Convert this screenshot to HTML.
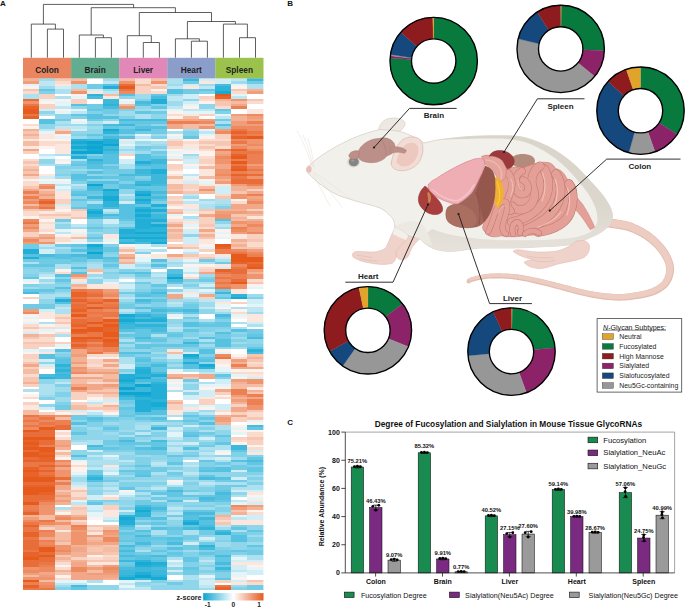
<!DOCTYPE html>
<html><head><meta charset="utf-8"><title>Figure</title>
<style>html,body{margin:0;padding:0;background:#fff}body{width:685px;height:608px;overflow:hidden}svg{display:block;font-family:"Liberation Sans", sans-serif}</style>
</head><body>
<svg width="685" height="608" viewBox="0 0 685 608">
<rect width="685" height="608" fill="#fff"/>
<path d="M31.3 57.8 L31.3 24.1 L55.4 24.1 M47.4 57.8 L47.4 29.1 L63.5 29.1 L63.5 57.8 M55.4 24.1 L55.4 29.1 M43.4 24.1 L43.4 4.4 L133.6 4.4 L133.6 7.7 M79.3 57.8 L79.3 35.0 L103.4 35.0 M95.4 57.8 L95.4 37.7 L111.4 37.7 L111.4 57.8 M103.4 35.0 L103.4 37.7 M91.2 35.0 L91.2 7.7 L175.4 7.7 L175.4 12.5 M127.3 57.8 L127.3 35.7 L151.3 35.7 M143.3 57.8 L143.3 42.5 L159.4 42.5 L159.4 57.8 M151.3 35.7 L151.3 42.5 M139.3 35.7 L139.3 12.5 L211.5 12.5 L211.5 21.5 M175.4 57.8 L175.4 38.8 L199.4 38.8 M191.4 57.8 L191.4 41.2 L207.4 41.2 L207.4 57.8 M199.4 38.8 L199.4 41.2 M187.4 38.8 L187.4 21.5 L235.4 21.5 L235.4 24.1 M223.4 57.8 L223.4 24.1 L247.4 24.1 L247.4 37.7 M239.5 57.8 L239.5 37.7 L255.5 37.7 L255.5 57.8" fill="none" stroke="#2a2a2a" stroke-width="0.75"/>
<rect x="23.00" y="57.8" width="48.18" height="20.9" fill="#E98660"/>
<text x="47.04" y="72.8" font-size="8.3" font-weight="bold" text-anchor="middle" fill="#222">Colon</text>
<rect x="71.08" y="57.8" width="48.18" height="20.9" fill="#62AD90"/>
<text x="95.12" y="72.8" font-size="8.3" font-weight="bold" text-anchor="middle" fill="#222">Brain</text>
<rect x="119.16" y="57.8" width="48.18" height="20.9" fill="#E188B8"/>
<text x="143.20" y="72.8" font-size="8.3" font-weight="bold" text-anchor="middle" fill="#222">Liver</text>
<rect x="167.24" y="57.8" width="48.18" height="20.9" fill="#8B9DC9"/>
<text x="191.28" y="72.8" font-size="8.3" font-weight="bold" text-anchor="middle" fill="#222">Heart</text>
<rect x="215.32" y="57.8" width="48.18" height="20.9" fill="#9BC24C"/>
<text x="239.36" y="72.8" font-size="8.3" font-weight="bold" text-anchor="middle" fill="#222">Spleen</text>
<defs><filter id="hb" x="18" y="74" width="250" height="522" filterUnits="userSpaceOnUse"><feGaussianBlur stdDeviation="0.45"/></filter><clipPath id="hc"><rect x="23.00" y="78.60" width="240.40" height="511.40"/></clipPath></defs>
<g clip-path="url(#hc)"><g shape-rendering="crispEdges" filter="url(#hb)">
<path fill="#f3b296" d="M21.00 76.60h18.08v4.56h-18.08zM247.37 88.63h18.08v2.56h-18.08zM215.32 98.65h16.08v2.56h-16.08zM231.35 116.20h16.08v2.56h-16.08zM231.35 118.71h16.08v2.56h-16.08zM21.00 128.74h18.08v2.56h-18.08zM21.00 133.75h18.08v2.56h-18.08zM21.00 168.85h18.08v2.56h-18.08zM215.32 178.87h16.08v2.56h-16.08zM231.35 186.40h16.08v2.56h-16.08zM39.03 191.41h16.08v2.56h-16.08zM167.24 191.41h16.08v2.56h-16.08zM231.35 188.90h16.08v2.56h-16.08zM39.03 196.42h16.08v2.56h-16.08zM167.24 211.46h16.08v2.56h-16.08zM215.32 208.96h16.08v2.56h-16.08zM231.35 208.96h16.08v2.56h-16.08zM231.35 216.48h16.08v2.56h-16.08zM247.37 218.98h18.08v2.56h-18.08zM167.24 229.01h16.08v2.56h-16.08zM39.03 234.03h16.08v2.56h-16.08zM199.29 234.03h16.08v2.56h-16.08zM231.35 239.04h16.08v2.56h-16.08zM231.35 244.05h16.08v2.56h-16.08zM119.16 254.08h16.08v2.56h-16.08zM119.16 261.60h16.08v2.56h-16.08zM247.37 271.63h18.08v2.56h-18.08zM71.08 284.16h16.08v2.56h-16.08zM21.00 334.30h18.08v2.56h-18.08zM71.08 356.86h16.08v2.56h-16.08zM247.37 356.86h18.08v2.56h-18.08zM71.08 359.37h16.08v2.56h-16.08zM231.35 361.88h16.08v2.56h-16.08zM87.11 369.40h16.08v2.56h-16.08zM103.13 369.40h16.08v2.56h-16.08zM167.24 374.41h16.08v2.56h-16.08zM183.27 374.41h16.08v2.56h-16.08zM21.00 381.93h18.08v2.56h-18.08zM231.35 381.93h16.08v2.56h-16.08zM103.13 386.94h16.08v2.56h-16.08zM87.11 391.96h16.08v2.56h-16.08zM103.13 391.96h16.08v2.56h-16.08zM247.37 389.45h18.08v2.56h-18.08zM231.35 396.97h16.08v2.56h-16.08zM167.24 401.99h16.08v2.56h-16.08zM231.35 401.99h16.08v2.56h-16.08zM103.13 404.49h16.08v2.56h-16.08zM215.32 414.52h16.08v2.56h-16.08zM215.32 422.04h16.08v2.56h-16.08zM55.05 447.11h16.08v2.56h-16.08zM55.05 492.23h16.08v2.56h-16.08zM55.05 497.25h16.08v2.56h-16.08zM55.05 502.26h16.08v2.56h-16.08zM247.37 507.27h18.08v2.56h-18.08zM231.35 512.29h16.08v2.56h-16.08zM21.00 514.79h18.08v2.56h-18.08zM71.08 514.79h16.08v2.56h-16.08zM215.32 514.79h16.08v2.56h-16.08zM39.03 524.82h16.08v2.56h-16.08zM55.05 539.86h16.08v2.56h-16.08zM87.11 539.86h16.08v2.56h-16.08zM71.08 544.88h16.08v2.56h-16.08zM71.08 552.40h16.08v2.56h-16.08zM55.05 557.41h16.08v2.56h-16.08zM71.08 554.90h16.08v2.56h-16.08zM71.08 559.92h16.08v2.56h-16.08zM55.05 569.95h16.08v2.56h-16.08zM103.13 577.47h16.08v2.56h-16.08z"/>
<path fill="#f09e7a" d="M21.00 81.11h18.08v2.56h-18.08zM247.37 91.13h18.08v2.56h-18.08zM231.35 113.70h16.08v2.56h-16.08zM247.37 116.20h18.08v2.56h-18.08zM199.29 118.71h16.08v2.56h-16.08zM231.35 121.22h16.08v2.56h-16.08zM231.35 123.72h16.08v2.56h-16.08zM247.37 123.72h18.08v2.56h-18.08zM215.32 128.74h16.08v2.56h-16.08zM231.35 143.78h16.08v2.56h-16.08zM247.37 146.29h18.08v2.56h-18.08zM215.32 153.81h16.08v2.56h-16.08zM247.37 163.83h18.08v2.56h-18.08zM215.32 176.37h16.08v2.56h-16.08zM215.32 181.38h16.08v2.56h-16.08zM39.03 183.89h16.08v2.56h-16.08zM231.35 183.89h16.08v2.56h-16.08zM39.03 193.92h16.08v2.56h-16.08zM21.00 198.93h18.08v2.56h-18.08zM247.37 198.93h18.08v2.56h-18.08zM215.32 211.46h16.08v2.56h-16.08zM231.35 211.46h16.08v2.56h-16.08zM247.37 221.49h18.08v2.56h-18.08zM21.00 224.00h18.08v2.56h-18.08zM247.37 226.50h18.08v2.56h-18.08zM231.35 231.52h16.08v2.56h-16.08zM247.37 229.01h18.08v2.56h-18.08zM39.03 236.53h16.08v2.56h-16.08zM21.00 241.55h18.08v2.56h-18.08zM247.37 249.07h18.08v2.56h-18.08zM119.16 256.59h16.08v2.56h-16.08zM247.37 269.12h18.08v2.56h-18.08zM103.13 289.18h16.08v2.56h-16.08zM21.00 309.23h18.08v2.56h-18.08zM71.08 354.35h16.08v2.56h-16.08zM71.08 361.88h16.08v2.56h-16.08zM231.35 359.37h16.08v2.56h-16.08zM71.08 369.40h16.08v2.56h-16.08zM87.11 371.90h16.08v2.56h-16.08zM103.13 371.90h16.08v2.56h-16.08zM167.24 376.92h16.08v2.56h-16.08zM231.35 379.42h16.08v2.56h-16.08zM103.13 384.44h16.08v2.56h-16.08zM231.35 394.46h16.08v2.56h-16.08zM231.35 399.48h16.08v2.56h-16.08zM215.32 417.03h16.08v2.56h-16.08zM215.32 419.53h16.08v2.56h-16.08zM55.05 444.60h16.08v2.56h-16.08zM55.05 462.15h16.08v2.56h-16.08zM55.05 494.74h16.08v2.56h-16.08zM55.05 499.75h16.08v2.56h-16.08zM231.35 507.27h16.08v2.56h-16.08zM247.37 504.77h18.08v2.56h-18.08zM21.00 517.30h18.08v2.56h-18.08zM55.05 514.79h16.08v2.56h-16.08zM71.08 517.30h16.08v2.56h-16.08zM71.08 529.84h16.08v2.56h-16.08zM103.13 532.34h16.08v2.56h-16.08zM87.11 534.85h16.08v2.56h-16.08zM55.05 552.40h16.08v2.56h-16.08zM87.11 567.44h16.08v2.56h-16.08zM103.13 564.93h16.08v2.56h-16.08zM21.00 572.45h18.08v2.56h-18.08zM87.11 572.45h16.08v2.56h-16.08zM103.13 572.45h16.08v2.56h-16.08zM39.03 574.96h16.08v2.56h-16.08z"/>
<path fill="#9edced" d="M39.03 76.60h16.08v4.56h-16.08zM103.13 76.60h16.08v4.56h-16.08zM231.35 81.11h16.08v2.56h-16.08zM39.03 86.12h16.08v2.56h-16.08zM167.24 83.61h16.08v2.56h-16.08zM199.29 83.61h16.08v2.56h-16.08zM103.13 88.63h16.08v2.56h-16.08zM135.19 93.64h16.08v2.56h-16.08zM135.19 96.15h16.08v2.56h-16.08zM167.24 93.64h16.08v2.56h-16.08zM167.24 101.16h16.08v2.56h-16.08zM167.24 103.67h16.08v2.56h-16.08zM119.16 111.19h16.08v2.56h-16.08zM135.19 108.68h16.08v2.56h-16.08zM119.16 113.70h16.08v2.56h-16.08zM55.05 123.72h16.08v2.56h-16.08zM71.08 123.72h16.08v2.56h-16.08zM87.11 126.23h16.08v2.56h-16.08zM183.27 128.74h16.08v2.56h-16.08zM71.08 136.26h16.08v2.56h-16.08zM151.21 133.75h16.08v2.56h-16.08zM135.19 141.27h16.08v2.56h-16.08zM151.21 143.78h16.08v2.56h-16.08zM119.16 148.79h16.08v2.56h-16.08zM135.19 151.30h16.08v2.56h-16.08zM183.27 153.81h16.08v2.56h-16.08zM55.05 163.83h16.08v2.56h-16.08zM71.08 168.85h16.08v2.56h-16.08zM55.05 176.37h16.08v2.56h-16.08zM71.08 186.40h16.08v2.56h-16.08zM119.16 196.42h16.08v2.56h-16.08zM183.27 196.42h16.08v2.56h-16.08zM199.29 198.93h16.08v2.56h-16.08zM215.32 203.94h16.08v2.56h-16.08zM103.13 211.46h16.08v2.56h-16.08zM71.08 226.50h16.08v2.56h-16.08zM103.13 224.00h16.08v2.56h-16.08zM215.32 226.50h16.08v2.56h-16.08zM87.11 231.52h16.08v2.56h-16.08zM39.03 246.56h16.08v2.56h-16.08zM87.11 261.60h16.08v2.56h-16.08zM167.24 261.60h16.08v2.56h-16.08zM135.19 264.11h16.08v2.56h-16.08zM39.03 271.63h16.08v2.56h-16.08zM103.13 269.12h16.08v2.56h-16.08zM87.11 274.14h16.08v2.56h-16.08zM119.16 274.14h16.08v2.56h-16.08zM151.21 276.64h16.08v2.56h-16.08zM199.29 274.14h16.08v2.56h-16.08zM39.03 279.15h16.08v2.56h-16.08zM183.27 281.66h16.08v2.56h-16.08zM21.00 286.67h18.08v2.56h-18.08zM183.27 286.67h16.08v2.56h-16.08zM55.05 291.68h16.08v2.56h-16.08zM119.16 294.19h16.08v2.56h-16.08zM247.37 294.19h18.08v2.56h-18.08zM119.16 299.20h16.08v2.56h-16.08zM167.24 299.20h16.08v2.56h-16.08zM183.27 299.20h16.08v2.56h-16.08zM199.29 301.71h16.08v2.56h-16.08zM55.05 304.22h16.08v2.56h-16.08zM199.29 304.22h16.08v2.56h-16.08zM119.16 311.74h16.08v2.56h-16.08zM215.32 311.74h16.08v2.56h-16.08zM247.37 311.74h18.08v2.56h-18.08zM167.24 324.27h16.08v2.56h-16.08zM199.29 331.79h16.08v2.56h-16.08zM183.27 336.81h16.08v2.56h-16.08zM231.35 336.81h16.08v2.56h-16.08zM135.19 341.82h16.08v2.56h-16.08zM231.35 341.82h16.08v2.56h-16.08zM119.16 344.33h16.08v2.56h-16.08zM199.29 344.33h16.08v2.56h-16.08zM231.35 346.83h16.08v2.56h-16.08zM151.21 351.85h16.08v2.56h-16.08zM151.21 356.86h16.08v2.56h-16.08zM167.24 359.37h16.08v2.56h-16.08zM167.24 364.38h16.08v2.56h-16.08zM119.16 371.90h16.08v2.56h-16.08zM199.29 369.40h16.08v2.56h-16.08zM55.05 379.42h16.08v2.56h-16.08zM55.05 386.94h16.08v2.56h-16.08zM55.05 389.45h16.08v2.56h-16.08zM39.03 394.46h16.08v2.56h-16.08zM55.05 396.97h16.08v2.56h-16.08zM55.05 399.48h16.08v2.56h-16.08zM199.29 409.51h16.08v2.56h-16.08zM103.13 422.04h16.08v2.56h-16.08zM135.19 422.04h16.08v2.56h-16.08zM167.24 422.04h16.08v2.56h-16.08zM71.08 424.55h16.08v2.56h-16.08zM87.11 427.05h16.08v2.56h-16.08zM199.29 424.55h16.08v2.56h-16.08zM103.13 432.07h16.08v2.56h-16.08zM119.16 429.56h16.08v2.56h-16.08zM151.21 429.56h16.08v2.56h-16.08zM151.21 437.08h16.08v2.56h-16.08zM71.08 439.59h16.08v2.56h-16.08zM135.19 439.59h16.08v2.56h-16.08zM167.24 439.59h16.08v2.56h-16.08zM199.29 439.59h16.08v2.56h-16.08zM167.24 444.60h16.08v2.56h-16.08zM103.13 452.12h16.08v2.56h-16.08zM119.16 452.12h16.08v2.56h-16.08zM167.24 452.12h16.08v2.56h-16.08zM183.27 449.62h16.08v2.56h-16.08zM199.29 449.62h16.08v2.56h-16.08zM87.11 457.14h16.08v2.56h-16.08zM135.19 454.63h16.08v2.56h-16.08zM199.29 454.63h16.08v2.56h-16.08zM231.35 457.14h16.08v2.56h-16.08zM119.16 462.15h16.08v2.56h-16.08zM151.21 459.64h16.08v2.56h-16.08zM87.11 464.66h16.08v2.56h-16.08zM119.16 467.16h16.08v2.56h-16.08zM167.24 464.66h16.08v2.56h-16.08zM183.27 467.16h16.08v2.56h-16.08zM183.27 469.67h16.08v2.56h-16.08zM71.08 477.19h16.08v2.56h-16.08zM103.13 474.68h16.08v2.56h-16.08zM119.16 474.68h16.08v2.56h-16.08zM167.24 477.19h16.08v2.56h-16.08zM183.27 474.68h16.08v2.56h-16.08zM247.37 474.68h18.08v2.56h-18.08zM71.08 479.70h16.08v2.56h-16.08zM119.16 479.70h16.08v2.56h-16.08zM135.19 479.70h16.08v2.56h-16.08zM151.21 479.70h16.08v2.56h-16.08zM183.27 479.70h16.08v2.56h-16.08zM199.29 479.70h16.08v2.56h-16.08zM247.37 479.70h18.08v2.56h-18.08zM87.11 487.22h16.08v2.56h-16.08zM103.13 484.71h16.08v2.56h-16.08zM135.19 487.22h16.08v2.56h-16.08zM151.21 484.71h16.08v2.56h-16.08zM199.29 484.71h16.08v2.56h-16.08zM103.13 489.73h16.08v2.56h-16.08zM199.29 492.23h16.08v2.56h-16.08zM119.16 497.25h16.08v2.56h-16.08zM135.19 497.25h16.08v2.56h-16.08zM103.13 502.26h16.08v2.56h-16.08zM119.16 504.77h16.08v2.56h-16.08zM167.24 504.77h16.08v2.56h-16.08zM183.27 507.27h16.08v2.56h-16.08zM199.29 507.27h16.08v2.56h-16.08zM215.32 504.77h16.08v2.56h-16.08zM167.24 509.78h16.08v2.56h-16.08zM215.32 512.29h16.08v2.56h-16.08zM135.19 527.33h16.08v2.56h-16.08zM215.32 527.33h16.08v2.56h-16.08zM247.37 534.85h18.08v2.56h-18.08zM215.32 542.37h16.08v2.56h-16.08zM247.37 542.37h18.08v2.56h-18.08zM151.21 544.88h16.08v2.56h-16.08zM215.32 544.88h16.08v2.56h-16.08zM183.27 549.89h16.08v2.56h-16.08zM199.29 557.41h16.08v2.56h-16.08zM199.29 562.42h16.08v2.56h-16.08zM199.29 567.44h16.08v2.56h-16.08zM199.29 572.45h16.08v2.56h-16.08zM151.21 582.48h16.08v2.56h-16.08zM55.05 584.99h16.08v2.56h-16.08zM135.19 584.99h16.08v2.56h-16.08zM199.29 587.49h16.08v4.56h-16.08zM231.35 584.99h16.08v2.56h-16.08z"/>
<path fill="#bfe7f3" d="M39.03 81.11h16.08v2.56h-16.08zM103.13 81.11h16.08v2.56h-16.08zM231.35 76.60h16.08v4.56h-16.08zM39.03 83.61h16.08v2.56h-16.08zM167.24 86.12h16.08v2.56h-16.08zM199.29 86.12h16.08v2.56h-16.08zM103.13 91.13h16.08v2.56h-16.08zM167.24 96.15h16.08v2.56h-16.08zM231.35 96.15h16.08v2.56h-16.08zM167.24 98.65h16.08v2.56h-16.08zM55.05 106.18h16.08v2.56h-16.08zM167.24 106.18h16.08v2.56h-16.08zM71.08 111.19h16.08v2.56h-16.08zM183.27 108.68h16.08v2.56h-16.08zM199.29 108.68h16.08v2.56h-16.08zM215.32 116.20h16.08v2.56h-16.08zM55.05 126.23h16.08v2.56h-16.08zM71.08 126.23h16.08v2.56h-16.08zM39.03 128.74h16.08v2.56h-16.08zM199.29 131.24h16.08v2.56h-16.08zM135.19 136.26h16.08v2.56h-16.08zM119.16 146.29h16.08v2.56h-16.08zM119.16 151.30h16.08v2.56h-16.08zM39.03 153.81h16.08v2.56h-16.08zM183.27 156.31h16.08v2.56h-16.08zM183.27 173.86h16.08v2.56h-16.08zM55.05 183.89h16.08v2.56h-16.08zM71.08 183.89h16.08v2.56h-16.08zM119.16 193.92h16.08v2.56h-16.08zM183.27 193.92h16.08v2.56h-16.08zM183.27 201.44h16.08v2.56h-16.08zM199.29 201.44h16.08v2.56h-16.08zM103.13 208.96h16.08v2.56h-16.08zM71.08 224.00h16.08v2.56h-16.08zM215.32 224.00h16.08v2.56h-16.08zM55.05 231.52h16.08v2.56h-16.08zM39.03 244.05h16.08v2.56h-16.08zM135.19 249.07h16.08v2.56h-16.08zM183.27 251.57h16.08v2.56h-16.08zM135.19 261.60h16.08v2.56h-16.08zM167.24 259.09h16.08v2.56h-16.08zM183.27 261.60h16.08v2.56h-16.08zM135.19 266.61h16.08v2.56h-16.08zM183.27 271.63h16.08v2.56h-16.08zM39.03 274.14h16.08v2.56h-16.08zM87.11 276.64h16.08v2.56h-16.08zM119.16 276.64h16.08v2.56h-16.08zM151.21 274.14h16.08v2.56h-16.08zM39.03 281.66h16.08v2.56h-16.08zM103.13 279.15h16.08v2.56h-16.08zM199.29 291.68h16.08v2.56h-16.08zM119.16 296.70h16.08v2.56h-16.08zM183.27 296.70h16.08v2.56h-16.08zM167.24 301.71h16.08v2.56h-16.08zM199.29 299.20h16.08v2.56h-16.08zM55.05 306.72h16.08v2.56h-16.08zM199.29 306.72h16.08v2.56h-16.08zM247.37 306.72h18.08v2.56h-18.08zM119.16 309.23h16.08v2.56h-16.08zM215.32 309.23h16.08v2.56h-16.08zM247.37 309.23h18.08v2.56h-18.08zM167.24 326.78h16.08v2.56h-16.08zM199.29 371.90h16.08v2.56h-16.08zM215.32 371.90h16.08v2.56h-16.08zM55.05 381.93h16.08v2.56h-16.08zM87.11 401.99h16.08v2.56h-16.08zM87.11 412.01h16.08v2.56h-16.08zM199.29 412.01h16.08v2.56h-16.08zM135.19 432.07h16.08v2.56h-16.08zM167.24 429.56h16.08v2.56h-16.08zM167.24 437.08h16.08v2.56h-16.08zM71.08 442.10h16.08v2.56h-16.08zM167.24 442.10h16.08v2.56h-16.08zM167.24 447.11h16.08v2.56h-16.08zM167.24 449.62h16.08v2.56h-16.08zM199.29 452.12h16.08v2.56h-16.08zM87.11 454.63h16.08v2.56h-16.08zM103.13 457.14h16.08v2.56h-16.08zM199.29 457.14h16.08v2.56h-16.08zM119.16 459.64h16.08v2.56h-16.08zM151.21 462.15h16.08v2.56h-16.08zM87.11 467.16h16.08v2.56h-16.08zM183.27 464.66h16.08v2.56h-16.08zM103.13 469.67h16.08v2.56h-16.08zM183.27 472.18h16.08v2.56h-16.08zM71.08 474.68h16.08v2.56h-16.08zM71.08 482.20h16.08v2.56h-16.08zM199.29 482.20h16.08v2.56h-16.08zM103.13 487.22h16.08v2.56h-16.08zM151.21 487.22h16.08v2.56h-16.08zM103.13 492.23h16.08v2.56h-16.08zM119.16 494.74h16.08v2.56h-16.08zM71.08 502.26h16.08v2.56h-16.08zM231.35 499.75h16.08v2.56h-16.08zM167.24 507.27h16.08v2.56h-16.08zM87.11 509.78h16.08v2.56h-16.08zM167.24 512.29h16.08v2.56h-16.08zM231.35 517.30h16.08v2.56h-16.08zM135.19 524.82h16.08v2.56h-16.08zM215.32 524.82h16.08v2.56h-16.08zM231.35 554.90h16.08v2.56h-16.08zM167.24 562.42h16.08v2.56h-16.08zM199.29 559.92h16.08v2.56h-16.08zM231.35 569.95h16.08v2.56h-16.08zM199.29 577.47h16.08v2.56h-16.08zM55.05 582.48h16.08v2.56h-16.08zM71.08 582.48h16.08v2.56h-16.08zM119.16 582.48h16.08v2.56h-16.08zM119.16 587.49h16.08v4.56h-16.08zM135.19 587.49h16.08v4.56h-16.08zM199.29 584.99h16.08v2.56h-16.08z"/>
<path fill="#f6c6b2" d="M55.05 76.60h16.08v4.56h-16.08zM151.21 86.12h16.08v2.56h-16.08zM21.00 88.63h18.08v2.56h-18.08zM231.35 88.63h16.08v2.56h-16.08zM215.32 101.16h16.08v2.56h-16.08zM247.37 98.65h18.08v2.56h-18.08zM215.32 103.67h16.08v2.56h-16.08zM21.00 131.24h18.08v2.56h-18.08zM21.00 136.26h18.08v2.56h-18.08zM167.24 141.27h16.08v2.56h-16.08zM199.29 141.27h16.08v2.56h-16.08zM215.32 141.27h16.08v2.56h-16.08zM167.24 143.78h16.08v2.56h-16.08zM199.29 146.29h16.08v2.56h-16.08zM215.32 143.78h16.08v2.56h-16.08zM21.00 161.33h18.08v2.56h-18.08zM21.00 166.34h18.08v2.56h-18.08zM21.00 171.35h18.08v2.56h-18.08zM21.00 186.40h18.08v2.56h-18.08zM39.03 188.90h16.08v2.56h-16.08zM167.24 188.90h16.08v2.56h-16.08zM183.27 191.41h16.08v2.56h-16.08zM231.35 191.41h16.08v2.56h-16.08zM215.32 196.42h16.08v2.56h-16.08zM167.24 201.44h16.08v2.56h-16.08zM21.00 208.96h18.08v2.56h-18.08zM71.08 208.96h16.08v2.56h-16.08zM167.24 208.96h16.08v2.56h-16.08zM199.29 208.96h16.08v2.56h-16.08zM39.03 213.97h16.08v2.56h-16.08zM55.05 213.97h16.08v2.56h-16.08zM71.08 216.48h16.08v2.56h-16.08zM231.35 213.97h16.08v2.56h-16.08zM167.24 221.49h16.08v2.56h-16.08zM199.29 224.00h16.08v2.56h-16.08zM167.24 231.52h16.08v2.56h-16.08zM199.29 236.53h16.08v2.56h-16.08zM231.35 241.55h16.08v2.56h-16.08zM247.37 239.04h18.08v2.56h-18.08zM183.27 246.56h16.08v2.56h-16.08zM231.35 246.56h16.08v2.56h-16.08zM247.37 246.56h18.08v2.56h-18.08zM183.27 254.08h16.08v2.56h-16.08zM199.29 256.59h16.08v2.56h-16.08zM119.16 259.09h16.08v2.56h-16.08zM247.37 281.66h18.08v2.56h-18.08zM71.08 286.67h16.08v2.56h-16.08zM55.05 316.75h16.08v2.56h-16.08zM55.05 321.77h16.08v2.56h-16.08zM21.00 326.78h18.08v2.56h-18.08zM21.00 336.81h18.08v2.56h-18.08zM39.03 334.30h16.08v2.56h-16.08zM21.00 341.82h18.08v2.56h-18.08zM39.03 341.82h16.08v2.56h-16.08zM247.37 354.35h18.08v2.56h-18.08zM21.00 361.88h18.08v2.56h-18.08zM247.37 359.37h18.08v2.56h-18.08zM87.11 366.89h16.08v2.56h-16.08zM21.00 376.92h18.08v2.56h-18.08zM183.27 376.92h16.08v2.56h-16.08zM21.00 379.42h18.08v2.56h-18.08zM87.11 379.42h16.08v2.56h-16.08zM87.11 389.45h16.08v2.56h-16.08zM103.13 389.45h16.08v2.56h-16.08zM247.37 391.96h18.08v2.56h-18.08zM103.13 394.46h16.08v2.56h-16.08zM167.24 399.48h16.08v2.56h-16.08zM87.11 407.00h16.08v2.56h-16.08zM103.13 407.00h16.08v2.56h-16.08zM247.37 409.51h18.08v2.56h-18.08zM247.37 417.03h18.08v2.56h-18.08zM247.37 437.08h18.08v2.56h-18.08zM55.05 489.73h16.08v2.56h-16.08zM71.08 489.73h16.08v2.56h-16.08zM71.08 497.25h16.08v2.56h-16.08zM71.08 507.27h16.08v2.56h-16.08zM231.35 509.78h16.08v2.56h-16.08zM215.32 517.30h16.08v2.56h-16.08zM71.08 522.31h16.08v2.56h-16.08zM215.32 522.31h16.08v2.56h-16.08zM87.11 524.82h16.08v2.56h-16.08zM103.13 524.82h16.08v2.56h-16.08zM87.11 529.84h16.08v2.56h-16.08zM55.05 542.37h16.08v2.56h-16.08zM87.11 547.38h16.08v2.56h-16.08zM103.13 544.88h16.08v2.56h-16.08zM87.11 549.89h16.08v2.56h-16.08zM103.13 552.40h16.08v2.56h-16.08zM55.05 554.90h16.08v2.56h-16.08zM55.05 559.92h16.08v2.56h-16.08zM87.11 559.92h16.08v2.56h-16.08zM103.13 559.92h16.08v2.56h-16.08zM55.05 572.45h16.08v2.56h-16.08zM247.37 579.97h18.08v2.56h-18.08z"/>
<path fill="#fadccf" d="M55.05 81.11h16.08v2.56h-16.08zM135.19 76.60h16.08v4.56h-16.08zM135.19 81.11h16.08v2.56h-16.08zM151.21 83.61h16.08v2.56h-16.08zM21.00 91.13h18.08v2.56h-18.08zM151.21 91.13h16.08v2.56h-16.08zM231.35 91.13h16.08v2.56h-16.08zM199.29 98.65h16.08v2.56h-16.08zM247.37 101.16h18.08v2.56h-18.08zM215.32 106.18h16.08v2.56h-16.08zM167.24 113.70h16.08v2.56h-16.08zM21.00 123.72h18.08v2.56h-18.08zM39.03 141.27h16.08v2.56h-16.08zM55.05 141.27h16.08v2.56h-16.08zM167.24 138.76h16.08v2.56h-16.08zM183.27 141.27h16.08v2.56h-16.08zM199.29 138.76h16.08v2.56h-16.08zM215.32 138.76h16.08v2.56h-16.08zM39.03 143.78h16.08v2.56h-16.08zM167.24 146.29h16.08v2.56h-16.08zM199.29 143.78h16.08v2.56h-16.08zM215.32 146.29h16.08v2.56h-16.08zM199.29 148.79h16.08v2.56h-16.08zM199.29 156.31h16.08v2.56h-16.08zM21.00 158.82h18.08v2.56h-18.08zM21.00 163.83h18.08v2.56h-18.08zM167.24 168.85h16.08v2.56h-16.08zM21.00 181.38h18.08v2.56h-18.08zM21.00 183.89h18.08v2.56h-18.08zM183.27 188.90h16.08v2.56h-16.08zM215.32 193.92h16.08v2.56h-16.08zM167.24 198.93h16.08v2.56h-16.08zM231.35 201.44h16.08v2.56h-16.08zM167.24 203.94h16.08v2.56h-16.08zM21.00 211.46h18.08v2.56h-18.08zM55.05 211.46h16.08v2.56h-16.08zM71.08 211.46h16.08v2.56h-16.08zM199.29 211.46h16.08v2.56h-16.08zM21.00 213.97h18.08v2.56h-18.08zM39.03 216.48h16.08v2.56h-16.08zM55.05 216.48h16.08v2.56h-16.08zM71.08 213.97h16.08v2.56h-16.08zM39.03 221.49h16.08v2.56h-16.08zM167.24 218.98h16.08v2.56h-16.08zM199.29 226.50h16.08v2.56h-16.08zM39.03 229.01h16.08v2.56h-16.08zM55.05 236.53h16.08v2.56h-16.08zM55.05 239.04h16.08v2.56h-16.08zM247.37 241.55h18.08v2.56h-18.08zM119.16 246.56h16.08v2.56h-16.08zM183.27 244.05h16.08v2.56h-16.08zM247.37 244.05h18.08v2.56h-18.08zM183.27 256.59h16.08v2.56h-16.08zM199.29 254.08h16.08v2.56h-16.08zM199.29 266.61h16.08v2.56h-16.08zM55.05 271.63h16.08v2.56h-16.08zM183.27 276.64h16.08v2.56h-16.08zM247.37 279.15h18.08v2.56h-18.08zM231.35 311.74h16.08v2.56h-16.08zM55.05 314.25h16.08v2.56h-16.08zM55.05 319.26h16.08v2.56h-16.08zM21.00 324.27h18.08v2.56h-18.08zM39.03 326.78h16.08v2.56h-16.08zM55.05 331.79h16.08v2.56h-16.08zM39.03 336.81h16.08v2.56h-16.08zM21.00 339.31h18.08v2.56h-18.08zM39.03 339.31h16.08v2.56h-16.08zM87.11 354.35h16.08v2.56h-16.08zM103.13 354.35h16.08v2.56h-16.08zM231.35 356.86h16.08v2.56h-16.08zM21.00 359.37h18.08v2.56h-18.08zM247.37 361.88h18.08v2.56h-18.08zM87.11 364.38h16.08v2.56h-16.08zM231.35 371.90h16.08v2.56h-16.08zM247.37 371.90h18.08v2.56h-18.08zM21.00 374.41h18.08v2.56h-18.08zM87.11 381.93h16.08v2.56h-16.08zM21.00 396.97h18.08v2.56h-18.08zM87.11 394.46h16.08v2.56h-16.08zM103.13 396.97h16.08v2.56h-16.08zM215.32 396.97h16.08v2.56h-16.08zM87.11 404.49h16.08v2.56h-16.08zM55.05 409.51h16.08v2.56h-16.08zM103.13 409.51h16.08v2.56h-16.08zM215.32 409.51h16.08v2.56h-16.08zM247.37 412.01h18.08v2.56h-18.08zM247.37 414.52h18.08v2.56h-18.08zM55.05 432.07h16.08v2.56h-16.08zM247.37 432.07h18.08v2.56h-18.08zM55.05 437.08h16.08v2.56h-16.08zM247.37 434.57h18.08v2.56h-18.08zM231.35 439.59h16.08v2.56h-16.08zM247.37 447.11h18.08v2.56h-18.08zM55.05 454.63h16.08v2.56h-16.08zM71.08 464.66h16.08v2.56h-16.08zM71.08 492.23h16.08v2.56h-16.08zM71.08 494.74h16.08v2.56h-16.08zM103.13 497.25h16.08v2.56h-16.08zM71.08 504.77h16.08v2.56h-16.08zM55.05 509.78h16.08v2.56h-16.08zM247.37 512.29h18.08v2.56h-18.08zM71.08 519.81h16.08v2.56h-16.08zM215.32 519.81h16.08v2.56h-16.08zM87.11 527.33h16.08v2.56h-16.08zM87.11 557.41h16.08v2.56h-16.08zM103.13 554.90h16.08v2.56h-16.08zM55.05 562.42h16.08v2.56h-16.08zM55.05 567.44h16.08v2.56h-16.08zM55.05 577.47h16.08v2.56h-16.08zM247.37 582.48h18.08v2.56h-18.08z"/>
<path fill="#f5bca4" d="M71.08 76.60h16.08v4.56h-16.08zM119.16 76.60h16.08v4.56h-16.08zM151.21 76.60h16.08v4.56h-16.08zM135.19 83.61h16.08v2.56h-16.08zM71.08 88.63h16.08v2.56h-16.08zM103.13 93.64h16.08v2.56h-16.08zM231.35 101.16h16.08v2.56h-16.08zM119.16 103.67h16.08v2.56h-16.08zM183.27 116.20h16.08v2.56h-16.08zM183.27 123.72h16.08v2.56h-16.08zM183.27 126.23h16.08v2.56h-16.08zM199.29 123.72h16.08v2.56h-16.08zM21.00 141.27h18.08v2.56h-18.08zM21.00 143.78h18.08v2.56h-18.08zM199.29 166.34h16.08v2.56h-16.08zM167.24 176.37h16.08v2.56h-16.08zM199.29 176.37h16.08v2.56h-16.08zM167.24 183.89h16.08v2.56h-16.08zM167.24 186.40h16.08v2.56h-16.08zM199.29 186.40h16.08v2.56h-16.08zM199.29 191.41h16.08v2.56h-16.08zM21.00 203.94h18.08v2.56h-18.08zM39.03 208.96h16.08v2.56h-16.08zM247.37 213.97h18.08v2.56h-18.08zM231.35 218.98h16.08v2.56h-16.08zM71.08 236.53h16.08v2.56h-16.08zM167.24 234.03h16.08v2.56h-16.08zM167.24 236.53h16.08v2.56h-16.08zM39.03 239.04h16.08v2.56h-16.08zM119.16 249.07h16.08v2.56h-16.08zM87.11 269.12h16.08v2.56h-16.08zM71.08 276.64h16.08v2.56h-16.08zM167.24 351.85h16.08v2.56h-16.08zM71.08 364.38h16.08v2.56h-16.08zM21.00 369.40h18.08v2.56h-18.08zM21.00 371.90h18.08v2.56h-18.08zM103.13 374.41h16.08v2.56h-16.08zM103.13 376.92h16.08v2.56h-16.08zM71.08 379.42h16.08v2.56h-16.08zM71.08 381.93h16.08v2.56h-16.08zM231.35 384.44h16.08v2.56h-16.08zM231.35 386.94h16.08v2.56h-16.08zM247.37 384.44h18.08v2.56h-18.08zM71.08 404.49h16.08v2.56h-16.08zM71.08 407.00h16.08v2.56h-16.08zM21.00 409.51h18.08v2.56h-18.08zM21.00 412.01h18.08v2.56h-18.08zM55.05 417.03h16.08v2.56h-16.08zM55.05 452.12h16.08v2.56h-16.08zM39.03 514.79h16.08v2.56h-16.08zM39.03 517.30h16.08v2.56h-16.08zM55.05 519.81h16.08v2.56h-16.08zM55.05 524.82h16.08v2.56h-16.08zM55.05 527.33h16.08v2.56h-16.08zM103.13 527.33h16.08v2.56h-16.08zM55.05 532.34h16.08v2.56h-16.08zM55.05 534.85h16.08v2.56h-16.08zM55.05 537.36h16.08v2.56h-16.08zM87.11 537.36h16.08v2.56h-16.08zM87.11 544.88h16.08v2.56h-16.08zM103.13 547.38h16.08v2.56h-16.08zM87.11 552.40h16.08v2.56h-16.08zM103.13 549.89h16.08v2.56h-16.08zM87.11 564.93h16.08v2.56h-16.08zM87.11 569.95h16.08v2.56h-16.08zM21.00 574.96h18.08v2.56h-18.08zM39.03 579.97h16.08v2.56h-16.08z"/>
<path fill="#ef946d" d="M71.08 81.11h16.08v2.56h-16.08zM119.16 81.11h16.08v2.56h-16.08zM151.21 81.11h16.08v2.56h-16.08zM71.08 91.13h16.08v2.56h-16.08zM21.00 101.16h18.08v2.56h-18.08zM231.35 98.65h16.08v2.56h-16.08zM119.16 106.18h16.08v2.56h-16.08zM199.29 126.23h16.08v2.56h-16.08zM247.37 138.76h18.08v2.56h-18.08zM247.37 141.27h18.08v2.56h-18.08zM215.32 158.82h16.08v2.56h-16.08zM215.32 161.33h16.08v2.56h-16.08zM215.32 168.85h16.08v2.56h-16.08zM215.32 171.35h16.08v2.56h-16.08zM247.37 176.37h18.08v2.56h-18.08zM199.29 188.90h16.08v2.56h-16.08zM231.35 193.92h16.08v2.56h-16.08zM231.35 196.42h16.08v2.56h-16.08zM21.00 206.45h18.08v2.56h-18.08zM215.32 213.97h16.08v2.56h-16.08zM215.32 216.48h16.08v2.56h-16.08zM231.35 221.49h16.08v2.56h-16.08zM39.03 241.55h16.08v2.56h-16.08zM71.08 274.14h16.08v2.56h-16.08zM247.37 274.14h18.08v2.56h-18.08zM247.37 276.64h18.08v2.56h-18.08zM231.35 284.16h16.08v2.56h-16.08zM231.35 286.67h16.08v2.56h-16.08zM103.13 291.68h16.08v2.56h-16.08zM103.13 316.75h16.08v2.56h-16.08zM71.08 366.89h16.08v2.56h-16.08zM247.37 379.42h18.08v2.56h-18.08zM247.37 381.93h18.08v2.56h-18.08zM247.37 404.49h18.08v2.56h-18.08zM247.37 407.00h18.08v2.56h-18.08zM55.05 414.52h16.08v2.56h-16.08zM55.05 469.67h16.08v2.56h-16.08zM55.05 472.18h16.08v2.56h-16.08zM55.05 474.68h16.08v2.56h-16.08zM39.03 504.77h16.08v2.56h-16.08zM39.03 507.27h16.08v2.56h-16.08zM39.03 509.78h16.08v2.56h-16.08zM39.03 512.29h16.08v2.56h-16.08zM55.05 522.31h16.08v2.56h-16.08zM71.08 532.34h16.08v2.56h-16.08zM103.13 529.84h16.08v2.56h-16.08zM71.08 534.85h16.08v2.56h-16.08zM71.08 537.36h16.08v2.56h-16.08zM71.08 539.86h16.08v2.56h-16.08zM71.08 542.37h16.08v2.56h-16.08zM55.05 544.88h16.08v2.56h-16.08zM55.05 547.38h16.08v2.56h-16.08zM21.00 567.44h18.08v2.56h-18.08zM103.13 569.95h16.08v2.56h-16.08zM21.00 577.47h18.08v2.56h-18.08zM39.03 577.47h16.08v2.56h-16.08zM39.03 582.48h16.08v2.56h-16.08z"/>
<path fill="#ffffff" d="M87.11 76.60h16.08v4.56h-16.08zM87.11 81.11h16.08v2.56h-16.08zM55.05 93.64h16.08v2.56h-16.08zM199.29 93.64h16.08v2.56h-16.08zM247.37 93.64h18.08v2.56h-18.08zM247.37 96.15h18.08v2.56h-18.08zM87.11 98.65h16.08v2.56h-16.08zM87.11 101.16h16.08v2.56h-16.08zM247.37 103.67h18.08v2.56h-18.08zM247.37 106.18h18.08v2.56h-18.08zM231.35 108.68h16.08v2.56h-16.08zM231.35 111.19h16.08v2.56h-16.08zM39.03 116.20h16.08v2.56h-16.08zM199.29 116.20h16.08v2.56h-16.08zM21.00 118.71h18.08v2.56h-18.08zM21.00 121.22h18.08v2.56h-18.08zM167.24 128.74h16.08v2.56h-16.08zM151.21 138.76h16.08v2.56h-16.08zM39.03 148.79h16.08v2.56h-16.08zM39.03 151.30h16.08v2.56h-16.08zM21.00 153.81h18.08v2.56h-18.08zM21.00 156.31h18.08v2.56h-18.08zM55.05 156.31h16.08v2.56h-16.08zM119.16 156.31h16.08v2.56h-16.08zM167.24 161.33h16.08v2.56h-16.08zM39.03 166.34h16.08v2.56h-16.08zM39.03 168.85h16.08v2.56h-16.08zM39.03 171.35h16.08v2.56h-16.08zM183.27 168.85h16.08v2.56h-16.08zM183.27 171.35h16.08v2.56h-16.08zM167.24 193.92h16.08v2.56h-16.08zM199.29 193.92h16.08v2.56h-16.08zM199.29 196.42h16.08v2.56h-16.08zM183.27 213.97h16.08v2.56h-16.08zM71.08 218.98h16.08v2.56h-16.08zM71.08 221.49h16.08v2.56h-16.08zM167.24 241.55h16.08v2.56h-16.08zM215.32 239.04h16.08v2.56h-16.08zM215.32 241.55h16.08v2.56h-16.08zM151.21 246.56h16.08v2.56h-16.08zM151.21 251.57h16.08v2.56h-16.08zM167.24 249.07h16.08v2.56h-16.08zM167.24 251.57h16.08v2.56h-16.08zM199.29 251.57h16.08v2.56h-16.08zM167.24 266.61h16.08v2.56h-16.08zM151.21 269.12h16.08v2.56h-16.08zM119.16 279.15h16.08v2.56h-16.08zM167.24 286.67h16.08v2.56h-16.08zM247.37 289.18h18.08v2.56h-18.08zM247.37 291.68h18.08v2.56h-18.08zM21.00 294.19h18.08v2.56h-18.08zM21.00 299.20h18.08v2.56h-18.08zM21.00 301.71h18.08v2.56h-18.08zM231.35 299.20h16.08v2.56h-16.08zM231.35 304.22h16.08v2.56h-16.08zM199.29 314.25h16.08v2.56h-16.08zM199.29 316.75h16.08v2.56h-16.08zM39.03 319.26h16.08v2.56h-16.08zM231.35 319.26h16.08v2.56h-16.08zM231.35 324.27h16.08v2.56h-16.08zM247.37 326.78h18.08v2.56h-18.08zM55.05 336.81h16.08v2.56h-16.08zM55.05 339.31h16.08v2.56h-16.08zM39.03 346.83h16.08v2.56h-16.08zM231.35 349.34h16.08v2.56h-16.08zM231.35 351.85h16.08v2.56h-16.08zM39.03 369.40h16.08v2.56h-16.08zM39.03 371.90h16.08v2.56h-16.08zM183.27 371.90h16.08v2.56h-16.08zM199.29 379.42h16.08v2.56h-16.08zM21.00 386.94h18.08v2.56h-18.08zM21.00 391.96h18.08v2.56h-18.08zM167.24 391.96h16.08v2.56h-16.08zM167.24 394.46h16.08v2.56h-16.08zM167.24 396.97h16.08v2.56h-16.08zM21.00 399.48h18.08v2.56h-18.08zM39.03 399.48h16.08v2.56h-16.08zM39.03 401.99h16.08v2.56h-16.08zM71.08 399.48h16.08v2.56h-16.08zM183.27 399.48h16.08v2.56h-16.08zM183.27 401.99h16.08v2.56h-16.08zM215.32 399.48h16.08v2.56h-16.08zM215.32 401.99h16.08v2.56h-16.08zM39.03 409.51h16.08v2.56h-16.08zM167.24 417.03h16.08v2.56h-16.08zM231.35 422.04h16.08v2.56h-16.08zM231.35 434.57h16.08v2.56h-16.08zM71.08 444.60h16.08v2.56h-16.08zM71.08 447.11h16.08v2.56h-16.08zM183.27 459.64h16.08v2.56h-16.08zM231.35 497.25h16.08v2.56h-16.08zM55.05 504.77h16.08v2.56h-16.08zM87.11 519.81h16.08v2.56h-16.08zM87.11 522.31h16.08v2.56h-16.08zM103.13 522.31h16.08v2.56h-16.08zM167.24 574.96h16.08v2.56h-16.08zM167.24 577.47h16.08v2.56h-16.08zM247.37 574.96h18.08v2.56h-18.08zM247.37 577.47h18.08v2.56h-18.08zM87.11 582.48h16.08v2.56h-16.08zM103.13 579.97h16.08v2.56h-16.08zM103.13 582.48h16.08v2.56h-16.08zM215.32 582.48h16.08v2.56h-16.08z"/>
<path fill="#aee1f0" d="M167.24 76.60h16.08v4.56h-16.08zM167.24 81.11h16.08v2.56h-16.08zM71.08 83.61h16.08v2.56h-16.08zM71.08 86.12h16.08v2.56h-16.08zM247.37 83.61h18.08v2.56h-18.08zM247.37 86.12h18.08v2.56h-18.08zM55.05 88.63h16.08v2.56h-16.08zM55.05 91.13h16.08v2.56h-16.08zM21.00 93.64h18.08v2.56h-18.08zM21.00 96.15h18.08v2.56h-18.08zM55.05 96.15h16.08v2.56h-16.08zM151.21 108.68h16.08v2.56h-16.08zM39.03 113.70h16.08v2.56h-16.08zM135.19 113.70h16.08v2.56h-16.08zM135.19 116.20h16.08v2.56h-16.08zM55.05 121.22h16.08v2.56h-16.08zM87.11 121.22h16.08v2.56h-16.08zM215.32 121.22h16.08v2.56h-16.08zM167.24 131.24h16.08v2.56h-16.08zM151.21 141.27h16.08v2.56h-16.08zM135.19 143.78h16.08v2.56h-16.08zM151.21 148.79h16.08v2.56h-16.08zM55.05 153.81h16.08v2.56h-16.08zM71.08 158.82h16.08v2.56h-16.08zM39.03 163.83h16.08v2.56h-16.08zM119.16 163.83h16.08v2.56h-16.08zM119.16 166.34h16.08v2.56h-16.08zM87.11 201.44h16.08v2.56h-16.08zM215.32 198.93h16.08v2.56h-16.08zM215.32 201.44h16.08v2.56h-16.08zM199.29 203.94h16.08v2.56h-16.08zM199.29 206.45h16.08v2.56h-16.08zM183.27 216.48h16.08v2.56h-16.08zM55.05 221.49h16.08v2.56h-16.08zM55.05 246.56h16.08v2.56h-16.08zM151.21 244.05h16.08v2.56h-16.08zM151.21 249.07h16.08v2.56h-16.08zM21.00 261.60h18.08v2.56h-18.08zM199.29 261.60h16.08v2.56h-16.08zM215.32 259.09h16.08v2.56h-16.08zM55.05 264.11h16.08v2.56h-16.08zM55.05 266.61h16.08v2.56h-16.08zM87.11 264.11h16.08v2.56h-16.08zM87.11 266.61h16.08v2.56h-16.08zM167.24 264.11h16.08v2.56h-16.08zM151.21 271.63h16.08v2.56h-16.08zM119.16 281.66h16.08v2.56h-16.08zM135.19 279.15h16.08v2.56h-16.08zM151.21 279.15h16.08v2.56h-16.08zM151.21 281.66h16.08v2.56h-16.08zM199.29 281.66h16.08v2.56h-16.08zM167.24 284.16h16.08v2.56h-16.08zM119.16 289.18h16.08v2.56h-16.08zM39.03 294.19h16.08v2.56h-16.08zM39.03 296.70h16.08v2.56h-16.08zM55.05 294.19h16.08v2.56h-16.08zM167.24 304.22h16.08v2.56h-16.08zM231.35 306.72h16.08v2.56h-16.08zM55.05 309.23h16.08v2.56h-16.08zM55.05 311.74h16.08v2.56h-16.08zM183.27 314.25h16.08v2.56h-16.08zM39.03 321.77h16.08v2.56h-16.08zM199.29 319.26h16.08v2.56h-16.08zM231.35 321.77h16.08v2.56h-16.08zM231.35 326.78h16.08v2.56h-16.08zM247.37 324.27h18.08v2.56h-18.08zM167.24 329.29h16.08v2.56h-16.08zM55.05 334.30h16.08v2.56h-16.08zM151.21 334.30h16.08v2.56h-16.08zM119.16 339.31h16.08v2.56h-16.08zM199.29 339.31h16.08v2.56h-16.08zM119.16 356.86h16.08v2.56h-16.08zM119.16 359.37h16.08v2.56h-16.08zM119.16 361.88h16.08v2.56h-16.08zM183.27 369.40h16.08v2.56h-16.08zM183.27 381.93h16.08v2.56h-16.08zM199.29 381.93h16.08v2.56h-16.08zM39.03 384.44h16.08v2.56h-16.08zM39.03 386.94h16.08v2.56h-16.08zM21.00 389.45h18.08v2.56h-18.08zM39.03 389.45h16.08v2.56h-16.08zM39.03 391.96h16.08v2.56h-16.08zM167.24 389.45h16.08v2.56h-16.08zM103.13 414.52h16.08v2.56h-16.08zM167.24 414.52h16.08v2.56h-16.08zM151.21 422.04h16.08v2.56h-16.08zM135.19 424.55h16.08v2.56h-16.08zM135.19 427.05h16.08v2.56h-16.08zM215.32 424.55h16.08v2.56h-16.08zM215.32 427.05h16.08v2.56h-16.08zM199.29 429.56h16.08v2.56h-16.08zM119.16 434.57h16.08v2.56h-16.08zM87.11 439.59h16.08v2.56h-16.08zM87.11 442.10h16.08v2.56h-16.08zM199.29 447.11h16.08v2.56h-16.08zM215.32 444.60h16.08v2.56h-16.08zM215.32 447.11h16.08v2.56h-16.08zM183.27 457.14h16.08v2.56h-16.08zM87.11 459.64h16.08v2.56h-16.08zM87.11 462.15h16.08v2.56h-16.08zM103.13 459.64h16.08v2.56h-16.08zM103.13 462.15h16.08v2.56h-16.08zM183.27 462.15h16.08v2.56h-16.08zM215.32 459.64h16.08v2.56h-16.08zM151.21 464.66h16.08v2.56h-16.08zM151.21 472.18h16.08v2.56h-16.08zM167.24 469.67h16.08v2.56h-16.08zM103.13 482.20h16.08v2.56h-16.08zM215.32 482.20h16.08v2.56h-16.08zM231.35 482.20h16.08v2.56h-16.08zM167.24 484.71h16.08v2.56h-16.08zM231.35 487.22h16.08v2.56h-16.08zM247.37 484.71h18.08v2.56h-18.08zM247.37 487.22h18.08v2.56h-18.08zM135.19 492.23h16.08v2.56h-16.08zM183.27 492.23h16.08v2.56h-16.08zM151.21 494.74h16.08v2.56h-16.08zM231.35 494.74h16.08v2.56h-16.08zM151.21 499.75h16.08v2.56h-16.08zM55.05 507.27h16.08v2.56h-16.08zM167.24 517.30h16.08v2.56h-16.08zM103.13 519.81h16.08v2.56h-16.08zM151.21 529.84h16.08v2.56h-16.08zM151.21 532.34h16.08v2.56h-16.08zM183.27 529.84h16.08v2.56h-16.08zM183.27 532.34h16.08v2.56h-16.08zM231.35 529.84h16.08v2.56h-16.08zM199.29 539.86h16.08v2.56h-16.08zM135.19 549.89h16.08v2.56h-16.08zM167.24 557.41h16.08v2.56h-16.08zM247.37 554.90h18.08v2.56h-18.08zM247.37 557.41h18.08v2.56h-18.08zM183.27 574.96h16.08v2.56h-16.08zM183.27 577.47h16.08v2.56h-16.08zM87.11 579.97h16.08v2.56h-16.08zM167.24 579.97h16.08v2.56h-16.08z"/>
<path fill="#3cb8db" d="M183.27 76.60h16.08v4.56h-16.08zM247.37 76.60h18.08v4.56h-18.08zM103.13 98.65h16.08v2.56h-16.08zM103.13 101.16h16.08v2.56h-16.08zM119.16 123.72h16.08v2.56h-16.08zM135.19 128.74h16.08v2.56h-16.08zM87.11 138.76h16.08v2.56h-16.08zM103.13 146.29h16.08v2.56h-16.08zM71.08 148.79h16.08v2.56h-16.08zM151.21 158.82h16.08v2.56h-16.08zM151.21 161.33h16.08v2.56h-16.08zM135.19 168.85h16.08v2.56h-16.08zM135.19 171.35h16.08v2.56h-16.08zM151.21 173.86h16.08v2.56h-16.08zM151.21 176.37h16.08v2.56h-16.08zM135.19 181.38h16.08v2.56h-16.08zM151.21 178.87h16.08v2.56h-16.08zM151.21 181.38h16.08v2.56h-16.08zM87.11 186.40h16.08v2.56h-16.08zM87.11 196.42h16.08v2.56h-16.08zM135.19 196.42h16.08v2.56h-16.08zM151.21 213.97h16.08v2.56h-16.08zM151.21 216.48h16.08v2.56h-16.08zM87.11 249.07h16.08v2.56h-16.08zM87.11 254.08h16.08v2.56h-16.08zM87.11 256.59h16.08v2.56h-16.08zM167.24 274.14h16.08v2.56h-16.08zM215.32 291.68h16.08v2.56h-16.08zM119.16 324.27h16.08v2.56h-16.08zM119.16 326.78h16.08v2.56h-16.08zM183.27 341.82h16.08v2.56h-16.08zM55.05 374.41h16.08v2.56h-16.08zM55.05 376.92h16.08v2.56h-16.08zM119.16 384.44h16.08v2.56h-16.08zM135.19 386.94h16.08v2.56h-16.08zM119.16 389.45h16.08v2.56h-16.08zM135.19 389.45h16.08v2.56h-16.08zM151.21 427.05h16.08v2.56h-16.08zM231.35 444.60h16.08v2.56h-16.08zM231.35 447.11h16.08v2.56h-16.08zM199.29 517.30h16.08v2.56h-16.08zM119.16 559.92h16.08v2.56h-16.08zM135.19 567.44h16.08v2.56h-16.08zM215.32 567.44h16.08v2.56h-16.08zM119.16 569.95h16.08v2.56h-16.08zM119.16 572.45h16.08v2.56h-16.08zM135.19 569.95h16.08v2.56h-16.08zM151.21 569.95h16.08v2.56h-16.08zM151.21 572.45h16.08v2.56h-16.08zM135.19 577.47h16.08v2.56h-16.08z"/>
<path fill="#72cbe5" d="M183.27 81.11h16.08v2.56h-16.08zM247.37 81.11h18.08v2.56h-18.08zM87.11 83.61h16.08v2.56h-16.08zM87.11 86.12h16.08v2.56h-16.08zM183.27 88.63h16.08v2.56h-16.08zM183.27 91.13h16.08v2.56h-16.08zM87.11 103.67h16.08v2.56h-16.08zM87.11 106.18h16.08v2.56h-16.08zM103.13 108.68h16.08v2.56h-16.08zM103.13 111.19h16.08v2.56h-16.08zM151.21 111.19h16.08v2.56h-16.08zM55.05 118.71h16.08v2.56h-16.08zM87.11 118.71h16.08v2.56h-16.08zM215.32 118.71h16.08v2.56h-16.08zM119.16 126.23h16.08v2.56h-16.08zM135.19 123.72h16.08v2.56h-16.08zM135.19 131.24h16.08v2.56h-16.08zM151.21 128.74h16.08v2.56h-16.08zM151.21 131.24h16.08v2.56h-16.08zM135.19 146.29h16.08v2.56h-16.08zM151.21 151.30h16.08v2.56h-16.08zM71.08 161.33h16.08v2.56h-16.08zM103.13 168.85h16.08v2.56h-16.08zM103.13 171.35h16.08v2.56h-16.08zM119.16 168.85h16.08v2.56h-16.08zM119.16 171.35h16.08v2.56h-16.08zM135.19 178.87h16.08v2.56h-16.08zM103.13 183.89h16.08v2.56h-16.08zM103.13 186.40h16.08v2.56h-16.08zM87.11 193.92h16.08v2.56h-16.08zM87.11 198.93h16.08v2.56h-16.08zM55.05 218.98h16.08v2.56h-16.08zM21.00 244.05h18.08v2.56h-18.08zM21.00 246.56h18.08v2.56h-18.08zM55.05 244.05h16.08v2.56h-16.08zM21.00 259.09h18.08v2.56h-18.08zM39.03 259.09h16.08v2.56h-16.08zM39.03 261.60h16.08v2.56h-16.08zM55.05 259.09h16.08v2.56h-16.08zM55.05 261.60h16.08v2.56h-16.08zM199.29 259.09h16.08v2.56h-16.08zM215.32 261.60h16.08v2.56h-16.08zM135.19 274.14h16.08v2.56h-16.08zM135.19 281.66h16.08v2.56h-16.08zM199.29 279.15h16.08v2.56h-16.08zM119.16 291.68h16.08v2.56h-16.08zM215.32 289.18h16.08v2.56h-16.08zM55.05 296.70h16.08v2.56h-16.08zM21.00 304.22h18.08v2.56h-18.08zM21.00 306.72h18.08v2.56h-18.08zM39.03 304.22h16.08v2.56h-16.08zM39.03 306.72h16.08v2.56h-16.08zM119.16 304.22h16.08v2.56h-16.08zM119.16 306.72h16.08v2.56h-16.08zM167.24 306.72h16.08v2.56h-16.08zM183.27 304.22h16.08v2.56h-16.08zM183.27 306.72h16.08v2.56h-16.08zM183.27 316.75h16.08v2.56h-16.08zM199.29 321.77h16.08v2.56h-16.08zM167.24 331.79h16.08v2.56h-16.08zM247.37 329.29h18.08v2.56h-18.08zM247.37 331.79h18.08v2.56h-18.08zM151.21 336.81h16.08v2.56h-16.08zM215.32 334.30h16.08v2.56h-16.08zM215.32 336.81h16.08v2.56h-16.08zM119.16 341.82h16.08v2.56h-16.08zM183.27 339.31h16.08v2.56h-16.08zM199.29 341.82h16.08v2.56h-16.08zM119.16 354.35h16.08v2.56h-16.08zM135.19 361.88h16.08v2.56h-16.08zM183.27 379.42h16.08v2.56h-16.08zM119.16 399.48h16.08v2.56h-16.08zM119.16 401.99h16.08v2.56h-16.08zM55.05 404.49h16.08v2.56h-16.08zM55.05 407.00h16.08v2.56h-16.08zM119.16 409.51h16.08v2.56h-16.08zM119.16 412.01h16.08v2.56h-16.08zM71.08 414.52h16.08v2.56h-16.08zM71.08 417.03h16.08v2.56h-16.08zM103.13 417.03h16.08v2.56h-16.08zM151.21 419.53h16.08v2.56h-16.08zM151.21 424.55h16.08v2.56h-16.08zM199.29 432.07h16.08v2.56h-16.08zM119.16 437.08h16.08v2.56h-16.08zM135.19 434.57h16.08v2.56h-16.08zM103.13 439.59h16.08v2.56h-16.08zM103.13 442.10h16.08v2.56h-16.08zM119.16 444.60h16.08v2.56h-16.08zM119.16 447.11h16.08v2.56h-16.08zM199.29 444.60h16.08v2.56h-16.08zM135.19 449.62h16.08v2.56h-16.08zM135.19 452.12h16.08v2.56h-16.08zM151.21 449.62h16.08v2.56h-16.08zM151.21 452.12h16.08v2.56h-16.08zM183.27 454.63h16.08v2.56h-16.08zM215.32 462.15h16.08v2.56h-16.08zM151.21 467.16h16.08v2.56h-16.08zM231.35 464.66h16.08v2.56h-16.08zM231.35 467.16h16.08v2.56h-16.08zM87.11 469.67h16.08v2.56h-16.08zM87.11 472.18h16.08v2.56h-16.08zM151.21 469.67h16.08v2.56h-16.08zM167.24 472.18h16.08v2.56h-16.08zM103.13 479.70h16.08v2.56h-16.08zM215.32 479.70h16.08v2.56h-16.08zM231.35 479.70h16.08v2.56h-16.08zM167.24 487.22h16.08v2.56h-16.08zM215.32 484.71h16.08v2.56h-16.08zM215.32 487.22h16.08v2.56h-16.08zM231.35 484.71h16.08v2.56h-16.08zM135.19 489.73h16.08v2.56h-16.08zM183.27 489.73h16.08v2.56h-16.08zM151.21 497.25h16.08v2.56h-16.08zM135.19 499.75h16.08v2.56h-16.08zM135.19 502.26h16.08v2.56h-16.08zM151.21 502.26h16.08v2.56h-16.08zM167.24 514.79h16.08v2.56h-16.08zM199.29 514.79h16.08v2.56h-16.08zM135.19 522.31h16.08v2.56h-16.08zM135.19 532.34h16.08v2.56h-16.08zM167.24 529.84h16.08v2.56h-16.08zM167.24 532.34h16.08v2.56h-16.08zM199.29 529.84h16.08v2.56h-16.08zM199.29 532.34h16.08v2.56h-16.08zM231.35 532.34h16.08v2.56h-16.08zM119.16 534.85h16.08v2.56h-16.08zM119.16 537.36h16.08v2.56h-16.08zM183.27 534.85h16.08v2.56h-16.08zM183.27 537.36h16.08v2.56h-16.08zM151.21 539.86h16.08v2.56h-16.08zM151.21 542.37h16.08v2.56h-16.08zM199.29 542.37h16.08v2.56h-16.08zM135.19 544.88h16.08v2.56h-16.08zM183.27 544.88h16.08v2.56h-16.08zM183.27 547.38h16.08v2.56h-16.08zM135.19 552.40h16.08v2.56h-16.08zM215.32 549.89h16.08v2.56h-16.08zM215.32 552.40h16.08v2.56h-16.08zM247.37 549.89h18.08v2.56h-18.08zM247.37 552.40h18.08v2.56h-18.08zM167.24 554.90h16.08v2.56h-16.08zM119.16 562.42h16.08v2.56h-16.08zM215.32 564.93h16.08v2.56h-16.08zM183.27 569.95h16.08v2.56h-16.08zM183.27 572.45h16.08v2.56h-16.08zM167.24 582.48h16.08v2.56h-16.08zM247.37 584.99h18.08v2.56h-18.08zM247.37 587.49h18.08v4.56h-18.08z"/>
<path fill="#d1eef6" d="M199.29 76.60h16.08v4.56h-16.08zM215.32 76.60h16.08v4.56h-16.08zM215.32 81.11h16.08v2.56h-16.08zM55.05 86.12h16.08v2.56h-16.08zM183.27 83.61h16.08v2.56h-16.08zM87.11 88.63h16.08v2.56h-16.08zM183.27 93.64h16.08v2.56h-16.08zM183.27 96.15h16.08v2.56h-16.08zM183.27 101.16h16.08v2.56h-16.08zM39.03 108.68h16.08v2.56h-16.08zM103.13 121.22h16.08v2.56h-16.08zM71.08 128.74h16.08v2.56h-16.08zM119.16 141.27h16.08v2.56h-16.08zM119.16 158.82h16.08v2.56h-16.08zM119.16 161.33h16.08v2.56h-16.08zM183.27 158.82h16.08v2.56h-16.08zM183.27 161.33h16.08v2.56h-16.08zM39.03 176.37h16.08v2.56h-16.08zM183.27 181.38h16.08v2.56h-16.08zM215.32 186.40h16.08v2.56h-16.08zM55.05 188.90h16.08v2.56h-16.08zM215.32 188.90h16.08v2.56h-16.08zM215.32 191.41h16.08v2.56h-16.08zM119.16 201.44h16.08v2.56h-16.08zM55.05 203.94h16.08v2.56h-16.08zM183.27 208.96h16.08v2.56h-16.08zM103.13 218.98h16.08v2.56h-16.08zM103.13 221.49h16.08v2.56h-16.08zM183.27 218.98h16.08v2.56h-16.08zM183.27 229.01h16.08v2.56h-16.08zM183.27 231.52h16.08v2.56h-16.08zM183.27 236.53h16.08v2.56h-16.08zM87.11 241.55h16.08v2.56h-16.08zM183.27 239.04h16.08v2.56h-16.08zM183.27 241.55h16.08v2.56h-16.08zM39.03 249.07h16.08v2.56h-16.08zM39.03 251.57h16.08v2.56h-16.08zM215.32 256.59h16.08v2.56h-16.08zM119.16 264.11h16.08v2.56h-16.08zM119.16 266.61h16.08v2.56h-16.08zM215.32 266.61h16.08v2.56h-16.08zM71.08 281.66h16.08v2.56h-16.08zM119.16 284.16h16.08v2.56h-16.08zM119.16 286.67h16.08v2.56h-16.08zM199.29 284.16h16.08v2.56h-16.08zM167.24 291.68h16.08v2.56h-16.08zM183.27 289.18h16.08v2.56h-16.08zM215.32 299.20h16.08v2.56h-16.08zM247.37 299.20h18.08v2.56h-18.08zM247.37 301.71h18.08v2.56h-18.08zM39.03 309.23h16.08v2.56h-16.08zM247.37 321.77h18.08v2.56h-18.08zM55.05 326.78h16.08v2.56h-16.08zM21.00 331.79h18.08v2.56h-18.08zM39.03 349.34h16.08v2.56h-16.08zM183.27 351.85h16.08v2.56h-16.08zM167.24 354.35h16.08v2.56h-16.08zM167.24 356.86h16.08v2.56h-16.08zM39.03 359.37h16.08v2.56h-16.08zM39.03 364.38h16.08v2.56h-16.08zM119.16 364.38h16.08v2.56h-16.08zM119.16 366.89h16.08v2.56h-16.08zM247.37 376.92h18.08v2.56h-18.08zM215.32 379.42h16.08v2.56h-16.08zM215.32 381.93h16.08v2.56h-16.08zM183.27 389.45h16.08v2.56h-16.08zM199.29 389.45h16.08v2.56h-16.08zM199.29 391.96h16.08v2.56h-16.08zM183.27 394.46h16.08v2.56h-16.08zM183.27 396.97h16.08v2.56h-16.08zM199.29 394.46h16.08v2.56h-16.08zM103.13 399.48h16.08v2.56h-16.08zM39.03 407.00h16.08v2.56h-16.08zM183.27 404.49h16.08v2.56h-16.08zM215.32 404.49h16.08v2.56h-16.08zM215.32 407.00h16.08v2.56h-16.08zM71.08 409.51h16.08v2.56h-16.08zM183.27 409.51h16.08v2.56h-16.08zM167.24 427.05h16.08v2.56h-16.08zM183.27 424.55h16.08v2.56h-16.08zM199.29 437.08h16.08v2.56h-16.08zM183.27 442.10h16.08v2.56h-16.08zM87.11 449.62h16.08v2.56h-16.08zM247.37 449.62h18.08v2.56h-18.08zM215.32 457.14h16.08v2.56h-16.08zM103.13 467.16h16.08v2.56h-16.08zM231.35 469.67h16.08v2.56h-16.08zM231.35 477.19h16.08v2.56h-16.08zM71.08 484.71h16.08v2.56h-16.08zM231.35 489.73h16.08v2.56h-16.08zM247.37 489.73h18.08v2.56h-18.08zM87.11 494.74h16.08v2.56h-16.08zM87.11 497.25h16.08v2.56h-16.08zM183.27 499.75h16.08v2.56h-16.08zM247.37 502.26h18.08v2.56h-18.08zM87.11 504.77h16.08v2.56h-16.08zM87.11 507.27h16.08v2.56h-16.08zM119.16 509.78h16.08v2.56h-16.08zM103.13 517.30h16.08v2.56h-16.08zM247.37 514.79h18.08v2.56h-18.08zM247.37 517.30h18.08v2.56h-18.08zM199.29 537.36h16.08v2.56h-16.08zM183.27 542.37h16.08v2.56h-16.08zM231.35 559.92h16.08v2.56h-16.08zM247.37 559.92h18.08v2.56h-18.08zM167.24 564.93h16.08v2.56h-16.08zM231.35 564.93h16.08v2.56h-16.08zM231.35 567.44h16.08v2.56h-16.08zM167.24 569.95h16.08v2.56h-16.08zM247.37 569.95h18.08v2.56h-18.08zM247.37 572.45h18.08v2.56h-18.08zM135.19 579.97h16.08v2.56h-16.08zM199.29 579.97h16.08v2.56h-16.08zM199.29 582.48h16.08v2.56h-16.08zM231.35 579.97h16.08v2.56h-16.08z"/>
<path fill="#fbe7de" d="M199.29 81.11h16.08v2.56h-16.08zM55.05 83.61h16.08v2.56h-16.08zM183.27 86.12h16.08v2.56h-16.08zM87.11 91.13h16.08v2.56h-16.08zM103.13 96.15h16.08v2.56h-16.08zM247.37 108.68h18.08v2.56h-18.08zM247.37 111.19h18.08v2.56h-18.08zM183.27 113.70h16.08v2.56h-16.08zM39.03 133.75h16.08v2.56h-16.08zM39.03 136.26h16.08v2.56h-16.08zM21.00 138.76h18.08v2.56h-18.08zM119.16 138.76h16.08v2.56h-16.08zM21.00 146.29h18.08v2.56h-18.08zM55.05 143.78h16.08v2.56h-16.08zM55.05 146.29h16.08v2.56h-16.08zM183.27 143.78h16.08v2.56h-16.08zM183.27 146.29h16.08v2.56h-16.08zM55.05 148.79h16.08v2.56h-16.08zM55.05 151.30h16.08v2.56h-16.08zM199.29 163.83h16.08v2.56h-16.08zM199.29 168.85h16.08v2.56h-16.08zM199.29 171.35h16.08v2.56h-16.08zM39.03 173.86h16.08v2.56h-16.08zM167.24 173.86h16.08v2.56h-16.08zM199.29 173.86h16.08v2.56h-16.08zM167.24 178.87h16.08v2.56h-16.08zM167.24 181.38h16.08v2.56h-16.08zM183.27 178.87h16.08v2.56h-16.08zM199.29 183.89h16.08v2.56h-16.08zM215.32 183.89h16.08v2.56h-16.08zM55.05 191.41h16.08v2.56h-16.08zM55.05 193.92h16.08v2.56h-16.08zM55.05 196.42h16.08v2.56h-16.08zM55.05 206.45h16.08v2.56h-16.08zM183.27 203.94h16.08v2.56h-16.08zM183.27 206.45h16.08v2.56h-16.08zM39.03 211.46h16.08v2.56h-16.08zM183.27 211.46h16.08v2.56h-16.08zM247.37 216.48h18.08v2.56h-18.08zM183.27 221.49h16.08v2.56h-16.08zM39.03 224.00h16.08v2.56h-16.08zM39.03 226.50h16.08v2.56h-16.08zM71.08 234.03h16.08v2.56h-16.08zM103.13 234.03h16.08v2.56h-16.08zM103.13 236.53h16.08v2.56h-16.08zM231.35 234.03h16.08v2.56h-16.08zM231.35 236.53h16.08v2.56h-16.08zM199.29 239.04h16.08v2.56h-16.08zM199.29 241.55h16.08v2.56h-16.08zM119.16 251.57h16.08v2.56h-16.08zM151.21 254.08h16.08v2.56h-16.08zM151.21 256.59h16.08v2.56h-16.08zM215.32 254.08h16.08v2.56h-16.08zM215.32 264.11h16.08v2.56h-16.08zM87.11 271.63h16.08v2.56h-16.08zM71.08 279.15h16.08v2.56h-16.08zM87.11 284.16h16.08v2.56h-16.08zM87.11 286.67h16.08v2.56h-16.08zM103.13 284.16h16.08v2.56h-16.08zM103.13 286.67h16.08v2.56h-16.08zM183.27 291.68h16.08v2.56h-16.08zM231.35 289.18h16.08v2.56h-16.08zM231.35 291.68h16.08v2.56h-16.08zM215.32 301.71h16.08v2.56h-16.08zM39.03 311.74h16.08v2.56h-16.08zM39.03 314.25h16.08v2.56h-16.08zM39.03 316.75h16.08v2.56h-16.08zM247.37 314.25h18.08v2.56h-18.08zM247.37 316.75h18.08v2.56h-18.08zM247.37 319.26h18.08v2.56h-18.08zM55.05 324.27h16.08v2.56h-16.08zM21.00 329.29h18.08v2.56h-18.08zM39.03 351.85h16.08v2.56h-16.08zM167.24 349.34h16.08v2.56h-16.08zM215.32 359.37h16.08v2.56h-16.08zM215.32 361.88h16.08v2.56h-16.08zM39.03 366.89h16.08v2.56h-16.08zM247.37 374.41h18.08v2.56h-18.08zM247.37 386.94h18.08v2.56h-18.08zM199.29 396.97h16.08v2.56h-16.08zM103.13 401.99h16.08v2.56h-16.08zM21.00 404.49h18.08v2.56h-18.08zM21.00 407.00h18.08v2.56h-18.08zM183.27 407.00h16.08v2.56h-16.08zM71.08 412.01h16.08v2.56h-16.08zM167.24 409.51h16.08v2.56h-16.08zM167.24 412.01h16.08v2.56h-16.08zM55.05 449.62h16.08v2.56h-16.08zM247.37 452.12h18.08v2.56h-18.08zM103.13 464.66h16.08v2.56h-16.08zM71.08 487.22h16.08v2.56h-16.08zM247.37 492.23h18.08v2.56h-18.08zM247.37 499.75h18.08v2.56h-18.08zM103.13 509.78h16.08v2.56h-16.08zM103.13 512.29h16.08v2.56h-16.08zM103.13 514.79h16.08v2.56h-16.08zM231.35 519.81h16.08v2.56h-16.08zM231.35 522.31h16.08v2.56h-16.08zM247.37 519.81h18.08v2.56h-18.08zM247.37 522.31h18.08v2.56h-18.08zM55.05 529.84h16.08v2.56h-16.08zM87.11 532.34h16.08v2.56h-16.08zM87.11 562.42h16.08v2.56h-16.08zM103.13 562.42h16.08v2.56h-16.08zM231.35 562.42h16.08v2.56h-16.08zM247.37 562.42h18.08v2.56h-18.08zM231.35 582.48h16.08v2.56h-16.08z"/>
<path fill="#e4f5fa" d="M21.00 83.61h18.08v2.56h-18.08zM231.35 83.61h16.08v2.56h-16.08zM71.08 96.15h16.08v2.56h-16.08zM231.35 93.64h16.08v2.56h-16.08zM39.03 98.65h16.08v2.56h-16.08zM55.05 101.16h16.08v2.56h-16.08zM119.16 101.16h16.08v2.56h-16.08zM55.05 103.67h16.08v2.56h-16.08zM183.27 103.67h16.08v2.56h-16.08zM55.05 111.19h16.08v2.56h-16.08zM71.08 108.68h16.08v2.56h-16.08zM167.24 108.68h16.08v2.56h-16.08zM183.27 111.19h16.08v2.56h-16.08zM199.29 111.19h16.08v2.56h-16.08zM215.32 113.70h16.08v2.56h-16.08zM71.08 121.22h16.08v2.56h-16.08zM39.03 131.24h16.08v2.56h-16.08zM199.29 128.74h16.08v2.56h-16.08zM55.05 136.26h16.08v2.56h-16.08zM135.19 133.75h16.08v2.56h-16.08zM167.24 136.26h16.08v2.56h-16.08zM199.29 133.75h16.08v2.56h-16.08zM135.19 138.76h16.08v2.56h-16.08zM119.16 143.78h16.08v2.56h-16.08zM167.24 151.30h16.08v2.56h-16.08zM183.27 148.79h16.08v2.56h-16.08zM39.03 156.31h16.08v2.56h-16.08zM167.24 156.31h16.08v2.56h-16.08zM55.05 158.82h16.08v2.56h-16.08zM183.27 166.34h16.08v2.56h-16.08zM183.27 176.37h16.08v2.56h-16.08zM39.03 181.38h16.08v2.56h-16.08zM55.05 181.38h16.08v2.56h-16.08zM199.29 181.38h16.08v2.56h-16.08zM55.05 186.40h16.08v2.56h-16.08zM183.27 198.93h16.08v2.56h-16.08zM167.24 213.97h16.08v2.56h-16.08zM183.27 224.00h16.08v2.56h-16.08zM55.05 229.01h16.08v2.56h-16.08zM71.08 231.52h16.08v2.56h-16.08zM215.32 231.52h16.08v2.56h-16.08zM215.32 236.53h16.08v2.56h-16.08zM71.08 239.04h16.08v2.56h-16.08zM103.13 239.04h16.08v2.56h-16.08zM135.19 244.05h16.08v2.56h-16.08zM135.19 246.56h16.08v2.56h-16.08zM199.29 246.56h16.08v2.56h-16.08zM183.27 249.07h16.08v2.56h-16.08zM135.19 256.59h16.08v2.56h-16.08zM135.19 259.09h16.08v2.56h-16.08zM183.27 259.09h16.08v2.56h-16.08zM183.27 266.61h16.08v2.56h-16.08zM183.27 269.12h16.08v2.56h-16.08zM39.03 276.64h16.08v2.56h-16.08zM21.00 279.15h18.08v2.56h-18.08zM103.13 281.66h16.08v2.56h-16.08zM247.37 286.67h18.08v2.56h-18.08zM199.29 289.18h16.08v2.56h-16.08zM183.27 294.19h16.08v2.56h-16.08zM215.32 304.22h16.08v2.56h-16.08zM247.37 304.22h18.08v2.56h-18.08zM21.00 316.75h18.08v2.56h-18.08zM167.24 314.25h16.08v2.56h-16.08zM231.35 314.25h16.08v2.56h-16.08zM21.00 321.77h18.08v2.56h-18.08zM39.03 329.29h16.08v2.56h-16.08zM55.05 344.33h16.08v2.56h-16.08zM21.00 349.34h18.08v2.56h-18.08zM215.32 351.85h16.08v2.56h-16.08zM215.32 366.89h16.08v2.56h-16.08zM167.24 369.40h16.08v2.56h-16.08zM215.32 369.40h16.08v2.56h-16.08zM231.35 374.41h16.08v2.56h-16.08zM167.24 379.42h16.08v2.56h-16.08zM167.24 384.44h16.08v2.56h-16.08zM199.29 384.44h16.08v2.56h-16.08zM215.32 384.44h16.08v2.56h-16.08zM87.11 399.48h16.08v2.56h-16.08zM199.29 404.49h16.08v2.56h-16.08zM87.11 409.51h16.08v2.56h-16.08zM247.37 419.53h18.08v2.56h-18.08zM231.35 427.05h16.08v2.56h-16.08zM167.24 432.07h16.08v2.56h-16.08zM231.35 432.07h16.08v2.56h-16.08zM167.24 434.57h16.08v2.56h-16.08zM215.32 449.62h16.08v2.56h-16.08zM103.13 454.63h16.08v2.56h-16.08zM71.08 459.64h16.08v2.56h-16.08zM71.08 472.18h16.08v2.56h-16.08zM103.13 472.18h16.08v2.56h-16.08zM167.24 482.20h16.08v2.56h-16.08zM119.16 492.23h16.08v2.56h-16.08zM247.37 497.25h18.08v2.56h-18.08zM71.08 499.75h16.08v2.56h-16.08zM231.35 502.26h16.08v2.56h-16.08zM87.11 512.29h16.08v2.56h-16.08zM87.11 514.79h16.08v2.56h-16.08zM231.35 514.79h16.08v2.56h-16.08zM231.35 557.41h16.08v2.56h-16.08zM167.24 559.92h16.08v2.56h-16.08zM247.37 567.44h18.08v2.56h-18.08zM231.35 572.45h16.08v2.56h-16.08zM199.29 574.96h16.08v2.56h-16.08zM231.35 574.96h16.08v2.56h-16.08zM55.05 579.97h16.08v2.56h-16.08zM71.08 579.97h16.08v2.56h-16.08zM119.16 579.97h16.08v2.56h-16.08zM119.16 584.99h16.08v2.56h-16.08z"/>
<path fill="#fdf2ed" d="M21.00 86.12h18.08v2.56h-18.08zM231.35 86.12h16.08v2.56h-16.08zM151.21 88.63h16.08v2.56h-16.08zM71.08 93.64h16.08v2.56h-16.08zM39.03 101.16h16.08v2.56h-16.08zM55.05 98.65h16.08v2.56h-16.08zM119.16 98.65h16.08v2.56h-16.08zM199.29 101.16h16.08v2.56h-16.08zM183.27 106.18h16.08v2.56h-16.08zM55.05 108.68h16.08v2.56h-16.08zM167.24 111.19h16.08v2.56h-16.08zM167.24 116.20h16.08v2.56h-16.08zM71.08 118.71h16.08v2.56h-16.08zM21.00 126.23h18.08v2.56h-18.08zM55.05 133.75h16.08v2.56h-16.08zM167.24 133.75h16.08v2.56h-16.08zM199.29 136.26h16.08v2.56h-16.08zM39.03 138.76h16.08v2.56h-16.08zM55.05 138.76h16.08v2.56h-16.08zM183.27 138.76h16.08v2.56h-16.08zM39.03 146.29h16.08v2.56h-16.08zM167.24 148.79h16.08v2.56h-16.08zM183.27 151.30h16.08v2.56h-16.08zM199.29 151.30h16.08v2.56h-16.08zM167.24 153.81h16.08v2.56h-16.08zM199.29 153.81h16.08v2.56h-16.08zM55.05 161.33h16.08v2.56h-16.08zM183.27 163.83h16.08v2.56h-16.08zM167.24 171.35h16.08v2.56h-16.08zM21.00 178.87h18.08v2.56h-18.08zM39.03 178.87h16.08v2.56h-16.08zM55.05 178.87h16.08v2.56h-16.08zM199.29 178.87h16.08v2.56h-16.08zM231.35 198.93h16.08v2.56h-16.08zM167.24 206.45h16.08v2.56h-16.08zM55.05 208.96h16.08v2.56h-16.08zM21.00 216.48h18.08v2.56h-18.08zM167.24 216.48h16.08v2.56h-16.08zM39.03 218.98h16.08v2.56h-16.08zM183.27 226.50h16.08v2.56h-16.08zM39.03 231.52h16.08v2.56h-16.08zM71.08 229.01h16.08v2.56h-16.08zM215.32 229.01h16.08v2.56h-16.08zM55.05 234.03h16.08v2.56h-16.08zM215.32 234.03h16.08v2.56h-16.08zM55.05 241.55h16.08v2.56h-16.08zM71.08 241.55h16.08v2.56h-16.08zM103.13 241.55h16.08v2.56h-16.08zM119.16 244.05h16.08v2.56h-16.08zM199.29 244.05h16.08v2.56h-16.08zM135.19 254.08h16.08v2.56h-16.08zM183.27 264.11h16.08v2.56h-16.08zM199.29 264.11h16.08v2.56h-16.08zM55.05 269.12h16.08v2.56h-16.08zM183.27 274.14h16.08v2.56h-16.08zM21.00 281.66h18.08v2.56h-18.08zM247.37 284.16h18.08v2.56h-18.08zM215.32 306.72h16.08v2.56h-16.08zM231.35 309.23h16.08v2.56h-16.08zM21.00 314.25h18.08v2.56h-18.08zM167.24 316.75h16.08v2.56h-16.08zM231.35 316.75h16.08v2.56h-16.08zM21.00 319.26h18.08v2.56h-18.08zM39.03 324.27h16.08v2.56h-16.08zM39.03 331.79h16.08v2.56h-16.08zM55.05 329.29h16.08v2.56h-16.08zM55.05 346.83h16.08v2.56h-16.08zM21.00 351.85h18.08v2.56h-18.08zM215.32 349.34h16.08v2.56h-16.08zM87.11 356.86h16.08v2.56h-16.08zM103.13 356.86h16.08v2.56h-16.08zM231.35 354.35h16.08v2.56h-16.08zM215.32 364.38h16.08v2.56h-16.08zM167.24 371.90h16.08v2.56h-16.08zM231.35 369.40h16.08v2.56h-16.08zM247.37 369.40h18.08v2.56h-18.08zM231.35 376.92h16.08v2.56h-16.08zM167.24 381.93h16.08v2.56h-16.08zM167.24 386.94h16.08v2.56h-16.08zM199.29 386.94h16.08v2.56h-16.08zM215.32 386.94h16.08v2.56h-16.08zM21.00 394.46h18.08v2.56h-18.08zM87.11 396.97h16.08v2.56h-16.08zM215.32 394.46h16.08v2.56h-16.08zM199.29 407.00h16.08v2.56h-16.08zM55.05 412.01h16.08v2.56h-16.08zM103.13 412.01h16.08v2.56h-16.08zM215.32 412.01h16.08v2.56h-16.08zM247.37 422.04h18.08v2.56h-18.08zM231.35 424.55h16.08v2.56h-16.08zM55.05 429.56h16.08v2.56h-16.08zM231.35 429.56h16.08v2.56h-16.08zM247.37 429.56h18.08v2.56h-18.08zM55.05 434.57h16.08v2.56h-16.08zM231.35 442.10h16.08v2.56h-16.08zM247.37 444.60h18.08v2.56h-18.08zM215.32 452.12h16.08v2.56h-16.08zM55.05 457.14h16.08v2.56h-16.08zM71.08 462.15h16.08v2.56h-16.08zM71.08 467.16h16.08v2.56h-16.08zM71.08 469.67h16.08v2.56h-16.08zM167.24 479.70h16.08v2.56h-16.08zM119.16 489.73h16.08v2.56h-16.08zM103.13 494.74h16.08v2.56h-16.08zM247.37 494.74h18.08v2.56h-18.08zM55.05 512.29h16.08v2.56h-16.08zM247.37 509.78h18.08v2.56h-18.08zM87.11 517.30h16.08v2.56h-16.08zM87.11 554.90h16.08v2.56h-16.08zM55.05 564.93h16.08v2.56h-16.08zM247.37 564.93h18.08v2.56h-18.08zM55.05 574.96h16.08v2.56h-16.08zM231.35 577.47h16.08v2.56h-16.08z"/>
<path fill="#57c1e0" d="M103.13 83.61h16.08v2.56h-16.08zM167.24 88.63h16.08v2.56h-16.08zM167.24 91.13h16.08v2.56h-16.08zM119.16 93.64h16.08v2.56h-16.08zM71.08 103.67h16.08v2.56h-16.08zM135.19 103.67h16.08v2.56h-16.08zM87.11 113.70h16.08v2.56h-16.08zM87.11 116.20h16.08v2.56h-16.08zM103.13 116.20h16.08v2.56h-16.08zM39.03 118.71h16.08v2.56h-16.08zM39.03 121.22h16.08v2.56h-16.08zM135.19 126.23h16.08v2.56h-16.08zM151.21 126.23h16.08v2.56h-16.08zM215.32 123.72h16.08v2.56h-16.08zM119.16 128.74h16.08v2.56h-16.08zM119.16 131.24h16.08v2.56h-16.08zM119.16 136.26h16.08v2.56h-16.08zM71.08 153.81h16.08v2.56h-16.08zM103.13 153.81h16.08v2.56h-16.08zM103.13 156.31h16.08v2.56h-16.08zM135.19 153.81h16.08v2.56h-16.08zM135.19 156.31h16.08v2.56h-16.08zM103.13 158.82h16.08v2.56h-16.08zM103.13 161.33h16.08v2.56h-16.08zM135.19 158.82h16.08v2.56h-16.08zM87.11 163.83h16.08v2.56h-16.08zM87.11 166.34h16.08v2.56h-16.08zM151.21 163.83h16.08v2.56h-16.08zM151.21 166.34h16.08v2.56h-16.08zM87.11 171.35h16.08v2.56h-16.08zM71.08 173.86h16.08v2.56h-16.08zM71.08 176.37h16.08v2.56h-16.08zM87.11 176.37h16.08v2.56h-16.08zM87.11 181.38h16.08v2.56h-16.08zM103.13 181.38h16.08v2.56h-16.08zM119.16 183.89h16.08v2.56h-16.08zM119.16 186.40h16.08v2.56h-16.08zM135.19 188.90h16.08v2.56h-16.08zM71.08 193.92h16.08v2.56h-16.08zM87.11 203.94h16.08v2.56h-16.08zM87.11 206.45h16.08v2.56h-16.08zM119.16 203.94h16.08v2.56h-16.08zM119.16 206.45h16.08v2.56h-16.08zM151.21 206.45h16.08v2.56h-16.08zM119.16 208.96h16.08v2.56h-16.08zM119.16 211.46h16.08v2.56h-16.08zM151.21 211.46h16.08v2.56h-16.08zM119.16 213.97h16.08v2.56h-16.08zM119.16 216.48h16.08v2.56h-16.08zM151.21 221.49h16.08v2.56h-16.08zM215.32 218.98h16.08v2.56h-16.08zM119.16 226.50h16.08v2.56h-16.08zM71.08 249.07h16.08v2.56h-16.08zM21.00 254.08h18.08v2.56h-18.08zM55.05 254.08h16.08v2.56h-16.08zM55.05 256.59h16.08v2.56h-16.08zM103.13 256.59h16.08v2.56h-16.08zM151.21 259.09h16.08v2.56h-16.08zM71.08 266.61h16.08v2.56h-16.08zM151.21 264.11h16.08v2.56h-16.08zM71.08 271.63h16.08v2.56h-16.08zM135.19 271.63h16.08v2.56h-16.08zM167.24 269.12h16.08v2.56h-16.08zM167.24 271.63h16.08v2.56h-16.08zM55.05 274.14h16.08v2.56h-16.08zM55.05 286.67h16.08v2.56h-16.08zM135.19 294.19h16.08v2.56h-16.08zM55.05 301.71h16.08v2.56h-16.08zM135.19 306.72h16.08v2.56h-16.08zM135.19 311.74h16.08v2.56h-16.08zM167.24 309.23h16.08v2.56h-16.08zM135.19 321.77h16.08v2.56h-16.08zM151.21 321.77h16.08v2.56h-16.08zM183.27 321.77h16.08v2.56h-16.08zM183.27 324.27h16.08v2.56h-16.08zM119.16 329.29h16.08v2.56h-16.08zM215.32 331.79h16.08v2.56h-16.08zM231.35 329.29h16.08v2.56h-16.08zM199.29 336.81h16.08v2.56h-16.08zM215.32 339.31h16.08v2.56h-16.08zM215.32 341.82h16.08v2.56h-16.08zM215.32 344.33h16.08v2.56h-16.08zM55.05 349.34h16.08v2.56h-16.08zM119.16 351.85h16.08v2.56h-16.08zM135.19 351.85h16.08v2.56h-16.08zM199.29 349.34h16.08v2.56h-16.08zM199.29 351.85h16.08v2.56h-16.08zM39.03 354.35h16.08v2.56h-16.08zM39.03 356.86h16.08v2.56h-16.08zM55.05 359.37h16.08v2.56h-16.08zM55.05 361.88h16.08v2.56h-16.08zM135.19 359.37h16.08v2.56h-16.08zM183.27 359.37h16.08v2.56h-16.08zM199.29 359.37h16.08v2.56h-16.08zM183.27 364.38h16.08v2.56h-16.08zM183.27 366.89h16.08v2.56h-16.08zM151.21 376.92h16.08v2.56h-16.08zM135.19 412.01h16.08v2.56h-16.08zM151.21 409.51h16.08v2.56h-16.08zM151.21 412.01h16.08v2.56h-16.08zM87.11 417.03h16.08v2.56h-16.08zM151.21 417.03h16.08v2.56h-16.08zM71.08 422.04h16.08v2.56h-16.08zM199.29 422.04h16.08v2.56h-16.08zM183.27 434.57h16.08v2.56h-16.08zM135.19 447.11h16.08v2.56h-16.08zM183.27 447.11h16.08v2.56h-16.08zM71.08 454.63h16.08v2.56h-16.08zM231.35 459.64h16.08v2.56h-16.08zM215.32 467.16h16.08v2.56h-16.08zM199.29 469.67h16.08v2.56h-16.08zM215.32 469.67h16.08v2.56h-16.08zM135.19 474.68h16.08v2.56h-16.08zM215.32 477.19h16.08v2.56h-16.08zM87.11 479.70h16.08v2.56h-16.08zM215.32 494.74h16.08v2.56h-16.08zM215.32 497.25h16.08v2.56h-16.08zM167.24 499.75h16.08v2.56h-16.08zM199.29 499.75h16.08v2.56h-16.08zM151.21 517.30h16.08v2.56h-16.08zM183.27 514.79h16.08v2.56h-16.08zM183.27 517.30h16.08v2.56h-16.08zM199.29 519.81h16.08v2.56h-16.08zM199.29 522.31h16.08v2.56h-16.08zM151.21 527.33h16.08v2.56h-16.08zM135.19 529.84h16.08v2.56h-16.08zM167.24 537.36h16.08v2.56h-16.08zM231.35 534.85h16.08v2.56h-16.08zM231.35 537.36h16.08v2.56h-16.08zM231.35 539.86h16.08v2.56h-16.08zM167.24 547.38h16.08v2.56h-16.08zM135.19 554.90h16.08v2.56h-16.08zM135.19 557.41h16.08v2.56h-16.08zM151.21 559.92h16.08v2.56h-16.08z"/>
<path fill="#23aed7" d="M103.13 86.12h16.08v2.56h-16.08zM151.21 98.65h16.08v2.56h-16.08zM151.21 101.16h16.08v2.56h-16.08zM103.13 138.76h16.08v2.56h-16.08zM103.13 141.27h16.08v2.56h-16.08zM71.08 156.31h16.08v2.56h-16.08zM135.19 161.33h16.08v2.56h-16.08zM151.21 168.85h16.08v2.56h-16.08zM151.21 171.35h16.08v2.56h-16.08zM135.19 191.41h16.08v2.56h-16.08zM151.21 203.94h16.08v2.56h-16.08zM151.21 208.96h16.08v2.56h-16.08zM135.19 218.98h16.08v2.56h-16.08zM135.19 221.49h16.08v2.56h-16.08zM151.21 218.98h16.08v2.56h-16.08zM135.19 224.00h16.08v2.56h-16.08zM135.19 226.50h16.08v2.56h-16.08zM119.16 229.01h16.08v2.56h-16.08zM119.16 231.52h16.08v2.56h-16.08zM21.00 249.07h18.08v2.56h-18.08zM21.00 251.57h18.08v2.56h-18.08zM21.00 256.59h18.08v2.56h-18.08zM55.05 299.20h16.08v2.56h-16.08zM135.19 319.26h16.08v2.56h-16.08zM151.21 319.26h16.08v2.56h-16.08zM183.27 361.88h16.08v2.56h-16.08zM135.19 369.40h16.08v2.56h-16.08zM135.19 371.90h16.08v2.56h-16.08zM119.16 374.41h16.08v2.56h-16.08zM119.16 376.92h16.08v2.56h-16.08zM151.21 374.41h16.08v2.56h-16.08zM151.21 384.44h16.08v2.56h-16.08zM151.21 386.94h16.08v2.56h-16.08zM151.21 389.45h16.08v2.56h-16.08zM151.21 391.96h16.08v2.56h-16.08zM151.21 394.46h16.08v2.56h-16.08zM151.21 396.97h16.08v2.56h-16.08zM135.19 399.48h16.08v2.56h-16.08zM135.19 401.99h16.08v2.56h-16.08zM135.19 404.49h16.08v2.56h-16.08zM135.19 407.00h16.08v2.56h-16.08zM135.19 409.51h16.08v2.56h-16.08zM119.16 519.81h16.08v2.56h-16.08zM119.16 522.31h16.08v2.56h-16.08zM151.21 562.42h16.08v2.56h-16.08zM135.19 564.93h16.08v2.56h-16.08zM135.19 572.45h16.08v2.56h-16.08z"/>
<path fill="#e96d38" d="M119.16 83.61h16.08v2.56h-16.08zM21.00 98.65h18.08v2.56h-18.08zM247.37 173.86h18.08v2.56h-18.08zM231.35 178.87h16.08v2.56h-16.08zM231.35 181.38h16.08v2.56h-16.08zM247.37 178.87h18.08v2.56h-18.08zM247.37 181.38h18.08v2.56h-18.08zM247.37 261.60h18.08v2.56h-18.08zM231.35 269.12h16.08v2.56h-16.08zM231.35 271.63h16.08v2.56h-16.08zM231.35 279.15h16.08v2.56h-16.08zM87.11 294.19h16.08v2.56h-16.08zM71.08 304.22h16.08v2.56h-16.08zM71.08 306.72h16.08v2.56h-16.08zM103.13 306.72h16.08v2.56h-16.08zM71.08 319.26h16.08v2.56h-16.08zM71.08 321.77h16.08v2.56h-16.08zM103.13 321.77h16.08v2.56h-16.08zM103.13 336.81h16.08v2.56h-16.08zM87.11 339.31h16.08v2.56h-16.08zM55.05 424.55h16.08v2.56h-16.08zM55.05 427.05h16.08v2.56h-16.08zM21.00 432.07h18.08v2.56h-18.08zM39.03 429.56h16.08v2.56h-16.08zM39.03 432.07h16.08v2.56h-16.08zM21.00 434.57h18.08v2.56h-18.08zM39.03 434.57h16.08v2.56h-16.08zM39.03 439.59h16.08v2.56h-16.08zM39.03 442.10h16.08v2.56h-16.08zM21.00 449.62h18.08v2.56h-18.08zM21.00 457.14h18.08v2.56h-18.08zM39.03 474.68h16.08v2.56h-16.08zM55.05 477.19h16.08v2.56h-16.08zM21.00 482.20h18.08v2.56h-18.08zM39.03 482.20h16.08v2.56h-16.08zM21.00 494.74h18.08v2.56h-18.08zM21.00 497.25h18.08v2.56h-18.08zM39.03 494.74h16.08v2.56h-16.08zM39.03 497.25h16.08v2.56h-16.08zM21.00 499.75h18.08v2.56h-18.08zM21.00 539.86h18.08v2.56h-18.08zM21.00 542.37h18.08v2.56h-18.08zM21.00 544.88h18.08v2.56h-18.08zM21.00 547.38h18.08v2.56h-18.08zM39.03 552.40h16.08v2.56h-16.08zM39.03 557.41h16.08v2.56h-16.08zM21.00 559.92h18.08v2.56h-18.08zM21.00 562.42h18.08v2.56h-18.08zM39.03 559.92h16.08v2.56h-16.08zM21.00 564.93h18.08v2.56h-18.08z"/>
<path fill="#e65a1e" d="M119.16 86.12h16.08v2.56h-16.08zM215.32 93.64h16.08v2.56h-16.08zM21.00 108.68h18.08v2.56h-18.08zM21.00 111.19h18.08v2.56h-18.08zM247.37 136.26h18.08v2.56h-18.08zM231.35 156.31h16.08v2.56h-16.08zM231.35 161.33h16.08v2.56h-16.08zM231.35 168.85h16.08v2.56h-16.08zM215.32 244.05h16.08v2.56h-16.08zM231.35 254.08h16.08v2.56h-16.08zM231.35 256.59h16.08v2.56h-16.08zM247.37 256.59h18.08v2.56h-18.08zM231.35 259.09h16.08v2.56h-16.08zM247.37 259.09h18.08v2.56h-18.08zM247.37 266.61h18.08v2.56h-18.08zM231.35 281.66h16.08v2.56h-16.08zM87.11 306.72h16.08v2.56h-16.08zM71.08 314.25h16.08v2.56h-16.08zM87.11 321.77h16.08v2.56h-16.08zM103.13 319.26h16.08v2.56h-16.08zM87.11 326.78h16.08v2.56h-16.08zM103.13 324.27h16.08v2.56h-16.08zM71.08 329.29h16.08v2.56h-16.08zM87.11 329.29h16.08v2.56h-16.08zM103.13 331.79h16.08v2.56h-16.08zM71.08 336.81h16.08v2.56h-16.08zM87.11 336.81h16.08v2.56h-16.08zM103.13 334.30h16.08v2.56h-16.08zM103.13 339.31h16.08v2.56h-16.08zM39.03 427.05h16.08v2.56h-16.08zM21.00 429.56h18.08v2.56h-18.08zM21.00 437.08h18.08v2.56h-18.08zM39.03 437.08h16.08v2.56h-16.08zM21.00 442.10h18.08v2.56h-18.08zM21.00 447.11h18.08v2.56h-18.08zM39.03 447.11h16.08v2.56h-16.08zM21.00 452.12h18.08v2.56h-18.08zM39.03 449.62h16.08v2.56h-16.08zM21.00 454.63h18.08v2.56h-18.08zM39.03 454.63h16.08v2.56h-16.08zM21.00 469.67h18.08v2.56h-18.08zM21.00 477.19h18.08v2.56h-18.08zM39.03 477.19h16.08v2.56h-16.08zM21.00 479.70h18.08v2.56h-18.08zM39.03 479.70h16.08v2.56h-16.08zM21.00 487.22h18.08v2.56h-18.08zM39.03 487.22h16.08v2.56h-16.08zM21.00 489.73h18.08v2.56h-18.08zM21.00 492.23h18.08v2.56h-18.08zM39.03 489.73h16.08v2.56h-16.08zM21.00 502.26h18.08v2.56h-18.08zM39.03 547.38h16.08v2.56h-16.08zM39.03 549.89h16.08v2.56h-16.08zM21.00 557.41h18.08v2.56h-18.08zM39.03 554.90h16.08v2.56h-16.08zM21.00 579.97h18.08v2.56h-18.08z"/>
<path fill="#f8d1c0" d="M135.19 86.12h16.08v2.56h-16.08zM135.19 88.63h16.08v2.56h-16.08zM135.19 91.13h16.08v2.56h-16.08zM39.03 93.64h16.08v2.56h-16.08zM39.03 96.15h16.08v2.56h-16.08zM199.29 96.15h16.08v2.56h-16.08zM71.08 98.65h16.08v2.56h-16.08zM71.08 101.16h16.08v2.56h-16.08zM39.03 103.67h16.08v2.56h-16.08zM39.03 106.18h16.08v2.56h-16.08zM199.29 113.70h16.08v2.56h-16.08zM55.05 128.74h16.08v2.56h-16.08zM215.32 133.75h16.08v2.56h-16.08zM215.32 136.26h16.08v2.56h-16.08zM21.00 151.30h18.08v2.56h-18.08zM119.16 153.81h16.08v2.56h-16.08zM167.24 158.82h16.08v2.56h-16.08zM199.29 158.82h16.08v2.56h-16.08zM199.29 161.33h16.08v2.56h-16.08zM167.24 163.83h16.08v2.56h-16.08zM167.24 166.34h16.08v2.56h-16.08zM21.00 176.37h18.08v2.56h-18.08zM183.27 183.89h16.08v2.56h-16.08zM183.27 186.40h16.08v2.56h-16.08zM247.37 188.90h18.08v2.56h-18.08zM167.24 196.42h16.08v2.56h-16.08zM55.05 198.93h16.08v2.56h-16.08zM55.05 201.44h16.08v2.56h-16.08zM247.37 208.96h18.08v2.56h-18.08zM199.29 216.48h16.08v2.56h-16.08zM199.29 218.98h16.08v2.56h-16.08zM199.29 221.49h16.08v2.56h-16.08zM167.24 226.50h16.08v2.56h-16.08zM21.00 231.52h18.08v2.56h-18.08zM199.29 231.52h16.08v2.56h-16.08zM21.00 234.03h18.08v2.56h-18.08zM247.37 234.03h18.08v2.56h-18.08zM247.37 236.53h18.08v2.56h-18.08zM167.24 239.04h16.08v2.56h-16.08zM167.24 244.05h16.08v2.56h-16.08zM199.29 249.07h16.08v2.56h-16.08zM167.24 256.59h16.08v2.56h-16.08zM199.29 269.12h16.08v2.56h-16.08zM21.00 296.70h18.08v2.56h-18.08zM199.29 296.70h16.08v2.56h-16.08zM231.35 301.71h16.08v2.56h-16.08zM55.05 341.82h16.08v2.56h-16.08zM21.00 344.33h18.08v2.56h-18.08zM21.00 346.83h18.08v2.56h-18.08zM39.03 344.33h16.08v2.56h-16.08zM21.00 354.35h18.08v2.56h-18.08zM21.00 356.86h18.08v2.56h-18.08zM87.11 359.37h16.08v2.56h-16.08zM87.11 361.88h16.08v2.56h-16.08zM103.13 361.88h16.08v2.56h-16.08zM21.00 366.89h18.08v2.56h-18.08zM103.13 366.89h16.08v2.56h-16.08zM247.37 364.38h18.08v2.56h-18.08zM71.08 374.41h16.08v2.56h-16.08zM87.11 374.41h16.08v2.56h-16.08zM103.13 381.93h16.08v2.56h-16.08zM21.00 384.44h18.08v2.56h-18.08zM71.08 391.96h16.08v2.56h-16.08zM215.32 391.96h16.08v2.56h-16.08zM71.08 394.46h16.08v2.56h-16.08zM71.08 396.97h16.08v2.56h-16.08zM21.00 401.99h18.08v2.56h-18.08zM71.08 401.99h16.08v2.56h-16.08zM199.29 399.48h16.08v2.56h-16.08zM199.29 401.99h16.08v2.56h-16.08zM167.24 404.49h16.08v2.56h-16.08zM167.24 407.00h16.08v2.56h-16.08zM231.35 404.49h16.08v2.56h-16.08zM39.03 412.01h16.08v2.56h-16.08zM231.35 412.01h16.08v2.56h-16.08zM231.35 417.03h16.08v2.56h-16.08zM231.35 419.53h16.08v2.56h-16.08zM231.35 437.08h16.08v2.56h-16.08zM247.37 439.59h18.08v2.56h-18.08zM247.37 442.10h18.08v2.56h-18.08zM103.13 504.77h16.08v2.56h-16.08zM103.13 507.27h16.08v2.56h-16.08zM71.08 509.78h16.08v2.56h-16.08zM71.08 512.29h16.08v2.56h-16.08zM39.03 527.33h16.08v2.56h-16.08zM71.08 557.41h16.08v2.56h-16.08zM103.13 557.41h16.08v2.56h-16.08zM215.32 579.97h16.08v2.56h-16.08z"/>
<path fill="#49bcde" d="M215.32 83.61h16.08v2.56h-16.08zM87.11 96.15h16.08v2.56h-16.08zM151.21 96.15h16.08v2.56h-16.08zM135.19 101.16h16.08v2.56h-16.08zM103.13 106.18h16.08v2.56h-16.08zM119.16 118.71h16.08v2.56h-16.08zM135.19 118.71h16.08v2.56h-16.08zM151.21 118.71h16.08v2.56h-16.08zM103.13 123.72h16.08v2.56h-16.08zM103.13 136.26h16.08v2.56h-16.08zM103.13 151.30h16.08v2.56h-16.08zM87.11 161.33h16.08v2.56h-16.08zM135.19 163.83h16.08v2.56h-16.08zM119.16 173.86h16.08v2.56h-16.08zM135.19 173.86h16.08v2.56h-16.08zM151.21 183.89h16.08v2.56h-16.08zM87.11 188.90h16.08v2.56h-16.08zM151.21 191.41h16.08v2.56h-16.08zM151.21 196.42h16.08v2.56h-16.08zM103.13 206.45h16.08v2.56h-16.08zM87.11 216.48h16.08v2.56h-16.08zM103.13 213.97h16.08v2.56h-16.08zM119.16 239.04h16.08v2.56h-16.08zM135.19 241.55h16.08v2.56h-16.08zM39.03 254.08h16.08v2.56h-16.08zM71.08 254.08h16.08v2.56h-16.08zM167.24 279.15h16.08v2.56h-16.08zM21.00 291.68h18.08v2.56h-18.08zM151.21 291.68h16.08v2.56h-16.08zM135.19 299.20h16.08v2.56h-16.08zM151.21 309.23h16.08v2.56h-16.08zM183.27 309.23h16.08v2.56h-16.08zM135.19 316.75h16.08v2.56h-16.08zM151.21 314.25h16.08v2.56h-16.08zM215.32 314.25h16.08v2.56h-16.08zM135.19 326.78h16.08v2.56h-16.08zM151.21 326.78h16.08v2.56h-16.08zM151.21 329.29h16.08v2.56h-16.08zM135.19 336.81h16.08v2.56h-16.08zM247.37 336.81h18.08v2.56h-18.08zM247.37 351.85h18.08v2.56h-18.08zM55.05 366.89h16.08v2.56h-16.08zM151.21 364.38h16.08v2.56h-16.08zM55.05 371.90h16.08v2.56h-16.08zM151.21 371.90h16.08v2.56h-16.08zM39.03 374.41h16.08v2.56h-16.08zM135.19 379.42h16.08v2.56h-16.08zM151.21 379.42h16.08v2.56h-16.08zM119.16 396.97h16.08v2.56h-16.08zM247.37 424.55h18.08v2.56h-18.08zM119.16 439.59h16.08v2.56h-16.08zM151.21 439.59h16.08v2.56h-16.08zM87.11 444.60h16.08v2.56h-16.08zM151.21 447.11h16.08v2.56h-16.08zM247.37 459.64h18.08v2.56h-18.08zM87.11 474.68h16.08v2.56h-16.08zM199.29 477.19h16.08v2.56h-16.08zM167.24 489.73h16.08v2.56h-16.08zM215.32 492.23h16.08v2.56h-16.08zM199.29 497.25h16.08v2.56h-16.08zM135.19 504.77h16.08v2.56h-16.08zM151.21 507.27h16.08v2.56h-16.08zM183.27 512.29h16.08v2.56h-16.08zM199.29 512.29h16.08v2.56h-16.08zM119.16 524.82h16.08v2.56h-16.08zM183.27 527.33h16.08v2.56h-16.08zM199.29 524.82h16.08v2.56h-16.08zM215.32 529.84h16.08v2.56h-16.08zM135.19 534.85h16.08v2.56h-16.08zM135.19 542.37h16.08v2.56h-16.08zM167.24 542.37h16.08v2.56h-16.08zM119.16 544.88h16.08v2.56h-16.08zM199.29 547.38h16.08v2.56h-16.08zM119.16 549.89h16.08v2.56h-16.08zM119.16 554.90h16.08v2.56h-16.08zM151.21 554.90h16.08v2.56h-16.08zM215.32 554.90h16.08v2.56h-16.08zM215.32 562.42h16.08v2.56h-16.08zM119.16 567.44h16.08v2.56h-16.08zM151.21 567.44h16.08v2.56h-16.08zM71.08 584.99h16.08v2.56h-16.08z"/>
<path fill="#2fb3d9" d="M215.32 86.12h16.08v2.56h-16.08zM215.32 88.63h16.08v2.56h-16.08zM87.11 93.64h16.08v2.56h-16.08zM103.13 103.67h16.08v2.56h-16.08zM103.13 131.24h16.08v2.56h-16.08zM71.08 138.76h16.08v2.56h-16.08zM71.08 143.78h16.08v2.56h-16.08zM103.13 148.79h16.08v2.56h-16.08zM87.11 158.82h16.08v2.56h-16.08zM135.19 183.89h16.08v2.56h-16.08zM103.13 191.41h16.08v2.56h-16.08zM103.13 193.92h16.08v2.56h-16.08zM103.13 201.44h16.08v2.56h-16.08zM135.19 201.44h16.08v2.56h-16.08zM103.13 203.94h16.08v2.56h-16.08zM135.19 206.45h16.08v2.56h-16.08zM87.11 208.96h16.08v2.56h-16.08zM135.19 211.46h16.08v2.56h-16.08zM87.11 213.97h16.08v2.56h-16.08zM135.19 216.48h16.08v2.56h-16.08zM151.21 226.50h16.08v2.56h-16.08zM135.19 229.01h16.08v2.56h-16.08zM151.21 229.01h16.08v2.56h-16.08zM119.16 234.03h16.08v2.56h-16.08zM135.19 234.03h16.08v2.56h-16.08zM151.21 234.03h16.08v2.56h-16.08zM119.16 241.55h16.08v2.56h-16.08zM135.19 239.04h16.08v2.56h-16.08zM151.21 239.04h16.08v2.56h-16.08zM87.11 246.56h16.08v2.56h-16.08zM231.35 294.19h16.08v2.56h-16.08zM119.16 316.75h16.08v2.56h-16.08zM135.19 314.25h16.08v2.56h-16.08zM151.21 316.75h16.08v2.56h-16.08zM119.16 321.77h16.08v2.56h-16.08zM135.19 324.27h16.08v2.56h-16.08zM151.21 324.27h16.08v2.56h-16.08zM247.37 349.34h18.08v2.56h-18.08zM183.27 356.86h16.08v2.56h-16.08zM55.05 364.38h16.08v2.56h-16.08zM135.19 366.89h16.08v2.56h-16.08zM199.29 366.89h16.08v2.56h-16.08zM55.05 369.40h16.08v2.56h-16.08zM39.03 376.92h16.08v2.56h-16.08zM135.19 374.41h16.08v2.56h-16.08zM119.16 381.93h16.08v2.56h-16.08zM151.21 381.93h16.08v2.56h-16.08zM119.16 394.46h16.08v2.56h-16.08zM135.19 396.97h16.08v2.56h-16.08zM151.21 399.48h16.08v2.56h-16.08zM151.21 407.00h16.08v2.56h-16.08zM87.11 477.19h16.08v2.56h-16.08zM135.19 507.27h16.08v2.56h-16.08zM135.19 512.29h16.08v2.56h-16.08zM119.16 514.79h16.08v2.56h-16.08zM135.19 514.79h16.08v2.56h-16.08zM183.27 519.81h16.08v2.56h-16.08zM199.29 527.33h16.08v2.56h-16.08zM215.32 532.34h16.08v2.56h-16.08zM199.29 544.88h16.08v2.56h-16.08zM135.19 559.92h16.08v2.56h-16.08zM151.21 564.93h16.08v2.56h-16.08zM119.16 574.96h16.08v2.56h-16.08zM151.21 574.96h16.08v2.56h-16.08z"/>
<path fill="#64c6e3" d="M39.03 88.63h16.08v2.56h-16.08zM199.29 88.63h16.08v2.56h-16.08zM151.21 93.64h16.08v2.56h-16.08zM151.21 106.18h16.08v2.56h-16.08zM87.11 108.68h16.08v2.56h-16.08zM135.19 111.19h16.08v2.56h-16.08zM215.32 108.68h16.08v2.56h-16.08zM71.08 113.70h16.08v2.56h-16.08zM119.16 121.22h16.08v2.56h-16.08zM135.19 121.22h16.08v2.56h-16.08zM151.21 121.22h16.08v2.56h-16.08zM103.13 126.23h16.08v2.56h-16.08zM87.11 133.75h16.08v2.56h-16.08zM103.13 133.75h16.08v2.56h-16.08zM183.27 136.26h16.08v2.56h-16.08zM87.11 156.31h16.08v2.56h-16.08zM151.21 156.31h16.08v2.56h-16.08zM71.08 163.83h16.08v2.56h-16.08zM103.13 166.34h16.08v2.56h-16.08zM135.19 166.34h16.08v2.56h-16.08zM103.13 176.37h16.08v2.56h-16.08zM119.16 176.37h16.08v2.56h-16.08zM71.08 178.87h16.08v2.56h-16.08zM119.16 178.87h16.08v2.56h-16.08zM135.19 186.40h16.08v2.56h-16.08zM151.21 186.40h16.08v2.56h-16.08zM71.08 191.41h16.08v2.56h-16.08zM87.11 191.41h16.08v2.56h-16.08zM151.21 188.90h16.08v2.56h-16.08zM151.21 193.92h16.08v2.56h-16.08zM71.08 198.93h16.08v2.56h-16.08zM151.21 198.93h16.08v2.56h-16.08zM71.08 206.45h16.08v2.56h-16.08zM135.19 203.94h16.08v2.56h-16.08zM103.13 216.48h16.08v2.56h-16.08zM119.16 218.98h16.08v2.56h-16.08zM87.11 226.50h16.08v2.56h-16.08zM87.11 236.53h16.08v2.56h-16.08zM71.08 244.05h16.08v2.56h-16.08zM103.13 246.56h16.08v2.56h-16.08zM103.13 249.07h16.08v2.56h-16.08zM39.03 256.59h16.08v2.56h-16.08zM71.08 256.59h16.08v2.56h-16.08zM71.08 259.09h16.08v2.56h-16.08zM103.13 259.09h16.08v2.56h-16.08zM21.00 264.11h18.08v2.56h-18.08zM39.03 264.11h16.08v2.56h-16.08zM103.13 264.11h16.08v2.56h-16.08zM119.16 271.63h16.08v2.56h-16.08zM21.00 276.64h18.08v2.56h-18.08zM55.05 279.15h16.08v2.56h-16.08zM167.24 281.66h16.08v2.56h-16.08zM151.21 284.16h16.08v2.56h-16.08zM21.00 289.18h18.08v2.56h-18.08zM39.03 289.18h16.08v2.56h-16.08zM135.19 291.68h16.08v2.56h-16.08zM151.21 289.18h16.08v2.56h-16.08zM151.21 294.19h16.08v2.56h-16.08zM215.32 296.70h16.08v2.56h-16.08zM135.19 301.71h16.08v2.56h-16.08zM151.21 299.20h16.08v2.56h-16.08zM151.21 306.72h16.08v2.56h-16.08zM151.21 311.74h16.08v2.56h-16.08zM183.27 311.74h16.08v2.56h-16.08zM215.32 316.75h16.08v2.56h-16.08zM215.32 321.77h16.08v2.56h-16.08zM199.29 324.27h16.08v2.56h-16.08zM215.32 324.27h16.08v2.56h-16.08zM135.19 329.29h16.08v2.56h-16.08zM135.19 331.79h16.08v2.56h-16.08zM151.21 331.79h16.08v2.56h-16.08zM183.27 329.29h16.08v2.56h-16.08zM119.16 334.30h16.08v2.56h-16.08zM135.19 334.30h16.08v2.56h-16.08zM167.24 334.30h16.08v2.56h-16.08zM247.37 334.30h18.08v2.56h-18.08zM135.19 339.31h16.08v2.56h-16.08zM151.21 339.31h16.08v2.56h-16.08zM135.19 344.33h16.08v2.56h-16.08zM135.19 346.83h16.08v2.56h-16.08zM151.21 344.33h16.08v2.56h-16.08zM167.24 344.33h16.08v2.56h-16.08zM183.27 344.33h16.08v2.56h-16.08zM247.37 346.83h18.08v2.56h-18.08zM55.05 356.86h16.08v2.56h-16.08zM135.19 356.86h16.08v2.56h-16.08zM199.29 356.86h16.08v2.56h-16.08zM151.21 361.88h16.08v2.56h-16.08zM135.19 364.38h16.08v2.56h-16.08zM151.21 366.89h16.08v2.56h-16.08zM151.21 369.40h16.08v2.56h-16.08zM215.32 374.41h16.08v2.56h-16.08zM135.19 381.93h16.08v2.56h-16.08zM119.16 407.00h16.08v2.56h-16.08zM119.16 414.52h16.08v2.56h-16.08zM135.19 417.03h16.08v2.56h-16.08zM183.27 414.52h16.08v2.56h-16.08zM199.29 417.03h16.08v2.56h-16.08zM87.11 419.53h16.08v2.56h-16.08zM183.27 419.53h16.08v2.56h-16.08zM103.13 427.05h16.08v2.56h-16.08zM247.37 427.05h18.08v2.56h-18.08zM71.08 432.07h16.08v2.56h-16.08zM183.27 432.07h16.08v2.56h-16.08zM215.32 434.57h16.08v2.56h-16.08zM119.16 442.10h16.08v2.56h-16.08zM135.19 442.10h16.08v2.56h-16.08zM151.21 442.10h16.08v2.56h-16.08zM215.32 442.10h16.08v2.56h-16.08zM87.11 447.11h16.08v2.56h-16.08zM103.13 447.11h16.08v2.56h-16.08zM151.21 444.60h16.08v2.56h-16.08zM231.35 449.62h16.08v2.56h-16.08zM167.24 454.63h16.08v2.56h-16.08zM247.37 457.14h18.08v2.56h-18.08zM167.24 462.15h16.08v2.56h-16.08zM199.29 459.64h16.08v2.56h-16.08zM247.37 462.15h18.08v2.56h-18.08zM135.19 464.66h16.08v2.56h-16.08zM199.29 467.16h16.08v2.56h-16.08zM247.37 467.16h18.08v2.56h-18.08zM119.16 469.67h16.08v2.56h-16.08zM135.19 469.67h16.08v2.56h-16.08zM135.19 472.18h16.08v2.56h-16.08zM247.37 469.67h18.08v2.56h-18.08zM199.29 474.68h16.08v2.56h-16.08zM119.16 487.22h16.08v2.56h-16.08zM151.21 492.23h16.08v2.56h-16.08zM167.24 492.23h16.08v2.56h-16.08zM215.32 489.73h16.08v2.56h-16.08zM167.24 494.74h16.08v2.56h-16.08zM183.27 494.74h16.08v2.56h-16.08zM199.29 494.74h16.08v2.56h-16.08zM87.11 502.26h16.08v2.56h-16.08zM215.32 499.75h16.08v2.56h-16.08zM151.21 504.77h16.08v2.56h-16.08zM151.21 509.78h16.08v2.56h-16.08zM183.27 509.78h16.08v2.56h-16.08zM199.29 509.78h16.08v2.56h-16.08zM135.19 517.30h16.08v2.56h-16.08zM151.21 522.31h16.08v2.56h-16.08zM119.16 527.33h16.08v2.56h-16.08zM167.24 527.33h16.08v2.56h-16.08zM183.27 524.82h16.08v2.56h-16.08zM231.35 527.33h16.08v2.56h-16.08zM119.16 532.34h16.08v2.56h-16.08zM247.37 529.84h18.08v2.56h-18.08zM135.19 537.36h16.08v2.56h-16.08zM151.21 537.36h16.08v2.56h-16.08zM119.16 539.86h16.08v2.56h-16.08zM135.19 539.86h16.08v2.56h-16.08zM167.24 539.86h16.08v2.56h-16.08zM119.16 547.38h16.08v2.56h-16.08zM247.37 544.88h18.08v2.56h-18.08zM119.16 552.40h16.08v2.56h-16.08zM151.21 549.89h16.08v2.56h-16.08zM167.24 552.40h16.08v2.56h-16.08zM199.29 552.40h16.08v2.56h-16.08zM231.35 549.89h16.08v2.56h-16.08zM119.16 557.41h16.08v2.56h-16.08zM151.21 557.41h16.08v2.56h-16.08zM183.27 557.41h16.08v2.56h-16.08zM215.32 557.41h16.08v2.56h-16.08zM183.27 559.92h16.08v2.56h-16.08zM215.32 559.92h16.08v2.56h-16.08zM119.16 564.93h16.08v2.56h-16.08zM183.27 567.44h16.08v2.56h-16.08zM215.32 569.95h16.08v2.56h-16.08zM215.32 577.47h16.08v2.56h-16.08zM71.08 587.49h16.08v4.56h-16.08z"/>
<path fill="#81d1e8" d="M39.03 91.13h16.08v2.56h-16.08zM199.29 91.13h16.08v2.56h-16.08zM135.19 98.65h16.08v2.56h-16.08zM151.21 103.67h16.08v2.56h-16.08zM87.11 111.19h16.08v2.56h-16.08zM119.16 108.68h16.08v2.56h-16.08zM215.32 111.19h16.08v2.56h-16.08zM71.08 116.20h16.08v2.56h-16.08zM119.16 116.20h16.08v2.56h-16.08zM87.11 123.72h16.08v2.56h-16.08zM183.27 131.24h16.08v2.56h-16.08zM71.08 133.75h16.08v2.56h-16.08zM87.11 136.26h16.08v2.56h-16.08zM151.21 136.26h16.08v2.56h-16.08zM183.27 133.75h16.08v2.56h-16.08zM151.21 146.29h16.08v2.56h-16.08zM135.19 148.79h16.08v2.56h-16.08zM87.11 153.81h16.08v2.56h-16.08zM151.21 153.81h16.08v2.56h-16.08zM55.05 166.34h16.08v2.56h-16.08zM71.08 166.34h16.08v2.56h-16.08zM103.13 163.83h16.08v2.56h-16.08zM71.08 171.35h16.08v2.56h-16.08zM55.05 173.86h16.08v2.56h-16.08zM103.13 173.86h16.08v2.56h-16.08zM135.19 176.37h16.08v2.56h-16.08zM71.08 181.38h16.08v2.56h-16.08zM119.16 181.38h16.08v2.56h-16.08zM71.08 188.90h16.08v2.56h-16.08zM71.08 201.44h16.08v2.56h-16.08zM151.21 201.44h16.08v2.56h-16.08zM71.08 203.94h16.08v2.56h-16.08zM215.32 206.45h16.08v2.56h-16.08zM119.16 221.49h16.08v2.56h-16.08zM87.11 224.00h16.08v2.56h-16.08zM103.13 226.50h16.08v2.56h-16.08zM87.11 229.01h16.08v2.56h-16.08zM87.11 234.03h16.08v2.56h-16.08zM71.08 246.56h16.08v2.56h-16.08zM103.13 244.05h16.08v2.56h-16.08zM103.13 251.57h16.08v2.56h-16.08zM135.19 251.57h16.08v2.56h-16.08zM71.08 261.60h16.08v2.56h-16.08zM87.11 259.09h16.08v2.56h-16.08zM103.13 261.60h16.08v2.56h-16.08zM21.00 266.61h18.08v2.56h-18.08zM39.03 266.61h16.08v2.56h-16.08zM103.13 266.61h16.08v2.56h-16.08zM39.03 269.12h16.08v2.56h-16.08zM103.13 271.63h16.08v2.56h-16.08zM119.16 269.12h16.08v2.56h-16.08zM21.00 274.14h18.08v2.56h-18.08zM199.29 276.64h16.08v2.56h-16.08zM55.05 281.66h16.08v2.56h-16.08zM183.27 279.15h16.08v2.56h-16.08zM21.00 284.16h18.08v2.56h-18.08zM151.21 286.67h16.08v2.56h-16.08zM183.27 284.16h16.08v2.56h-16.08zM39.03 291.68h16.08v2.56h-16.08zM55.05 289.18h16.08v2.56h-16.08zM135.19 289.18h16.08v2.56h-16.08zM151.21 296.70h16.08v2.56h-16.08zM215.32 294.19h16.08v2.56h-16.08zM247.37 296.70h18.08v2.56h-18.08zM119.16 301.71h16.08v2.56h-16.08zM151.21 301.71h16.08v2.56h-16.08zM183.27 301.71h16.08v2.56h-16.08zM151.21 304.22h16.08v2.56h-16.08zM215.32 319.26h16.08v2.56h-16.08zM199.29 326.78h16.08v2.56h-16.08zM215.32 326.78h16.08v2.56h-16.08zM183.27 331.79h16.08v2.56h-16.08zM199.29 329.29h16.08v2.56h-16.08zM119.16 336.81h16.08v2.56h-16.08zM167.24 336.81h16.08v2.56h-16.08zM183.27 334.30h16.08v2.56h-16.08zM231.35 334.30h16.08v2.56h-16.08zM151.21 341.82h16.08v2.56h-16.08zM231.35 339.31h16.08v2.56h-16.08zM119.16 346.83h16.08v2.56h-16.08zM151.21 346.83h16.08v2.56h-16.08zM167.24 346.83h16.08v2.56h-16.08zM183.27 346.83h16.08v2.56h-16.08zM199.29 346.83h16.08v2.56h-16.08zM231.35 344.33h16.08v2.56h-16.08zM247.37 344.33h18.08v2.56h-18.08zM151.21 349.34h16.08v2.56h-16.08zM55.05 354.35h16.08v2.56h-16.08zM135.19 354.35h16.08v2.56h-16.08zM151.21 354.35h16.08v2.56h-16.08zM199.29 354.35h16.08v2.56h-16.08zM151.21 359.37h16.08v2.56h-16.08zM167.24 361.88h16.08v2.56h-16.08zM167.24 366.89h16.08v2.56h-16.08zM119.16 369.40h16.08v2.56h-16.08zM215.32 376.92h16.08v2.56h-16.08zM55.05 384.44h16.08v2.56h-16.08zM55.05 391.96h16.08v2.56h-16.08zM39.03 396.97h16.08v2.56h-16.08zM55.05 394.46h16.08v2.56h-16.08zM55.05 401.99h16.08v2.56h-16.08zM119.16 404.49h16.08v2.56h-16.08zM119.16 417.03h16.08v2.56h-16.08zM135.19 414.52h16.08v2.56h-16.08zM183.27 417.03h16.08v2.56h-16.08zM199.29 414.52h16.08v2.56h-16.08zM87.11 422.04h16.08v2.56h-16.08zM103.13 419.53h16.08v2.56h-16.08zM135.19 419.53h16.08v2.56h-16.08zM167.24 419.53h16.08v2.56h-16.08zM183.27 422.04h16.08v2.56h-16.08zM71.08 427.05h16.08v2.56h-16.08zM87.11 424.55h16.08v2.56h-16.08zM103.13 424.55h16.08v2.56h-16.08zM199.29 427.05h16.08v2.56h-16.08zM71.08 429.56h16.08v2.56h-16.08zM103.13 429.56h16.08v2.56h-16.08zM119.16 432.07h16.08v2.56h-16.08zM135.19 429.56h16.08v2.56h-16.08zM151.21 432.07h16.08v2.56h-16.08zM183.27 429.56h16.08v2.56h-16.08zM151.21 434.57h16.08v2.56h-16.08zM215.32 437.08h16.08v2.56h-16.08zM199.29 442.10h16.08v2.56h-16.08zM215.32 439.59h16.08v2.56h-16.08zM103.13 444.60h16.08v2.56h-16.08zM103.13 449.62h16.08v2.56h-16.08zM119.16 449.62h16.08v2.56h-16.08zM183.27 452.12h16.08v2.56h-16.08zM231.35 452.12h16.08v2.56h-16.08zM135.19 457.14h16.08v2.56h-16.08zM167.24 457.14h16.08v2.56h-16.08zM231.35 454.63h16.08v2.56h-16.08zM247.37 454.63h18.08v2.56h-18.08zM135.19 459.64h16.08v2.56h-16.08zM135.19 462.15h16.08v2.56h-16.08zM167.24 459.64h16.08v2.56h-16.08zM199.29 462.15h16.08v2.56h-16.08zM119.16 464.66h16.08v2.56h-16.08zM135.19 467.16h16.08v2.56h-16.08zM167.24 467.16h16.08v2.56h-16.08zM199.29 464.66h16.08v2.56h-16.08zM247.37 464.66h18.08v2.56h-18.08zM119.16 472.18h16.08v2.56h-16.08zM247.37 472.18h18.08v2.56h-18.08zM103.13 477.19h16.08v2.56h-16.08zM119.16 477.19h16.08v2.56h-16.08zM167.24 474.68h16.08v2.56h-16.08zM183.27 477.19h16.08v2.56h-16.08zM247.37 477.19h18.08v2.56h-18.08zM119.16 482.20h16.08v2.56h-16.08zM135.19 482.20h16.08v2.56h-16.08zM151.21 482.20h16.08v2.56h-16.08zM183.27 482.20h16.08v2.56h-16.08zM247.37 482.20h18.08v2.56h-18.08zM87.11 484.71h16.08v2.56h-16.08zM119.16 484.71h16.08v2.56h-16.08zM135.19 484.71h16.08v2.56h-16.08zM199.29 487.22h16.08v2.56h-16.08zM151.21 489.73h16.08v2.56h-16.08zM199.29 489.73h16.08v2.56h-16.08zM135.19 494.74h16.08v2.56h-16.08zM167.24 497.25h16.08v2.56h-16.08zM183.27 497.25h16.08v2.56h-16.08zM87.11 499.75h16.08v2.56h-16.08zM103.13 499.75h16.08v2.56h-16.08zM215.32 502.26h16.08v2.56h-16.08zM119.16 507.27h16.08v2.56h-16.08zM183.27 504.77h16.08v2.56h-16.08zM199.29 504.77h16.08v2.56h-16.08zM215.32 507.27h16.08v2.56h-16.08zM151.21 512.29h16.08v2.56h-16.08zM215.32 509.78h16.08v2.56h-16.08zM151.21 519.81h16.08v2.56h-16.08zM167.24 524.82h16.08v2.56h-16.08zM231.35 524.82h16.08v2.56h-16.08zM119.16 529.84h16.08v2.56h-16.08zM247.37 532.34h18.08v2.56h-18.08zM151.21 534.85h16.08v2.56h-16.08zM247.37 537.36h18.08v2.56h-18.08zM119.16 542.37h16.08v2.56h-16.08zM215.32 539.86h16.08v2.56h-16.08zM247.37 539.86h18.08v2.56h-18.08zM151.21 547.38h16.08v2.56h-16.08zM215.32 547.38h16.08v2.56h-16.08zM247.37 547.38h18.08v2.56h-18.08zM151.21 552.40h16.08v2.56h-16.08zM167.24 549.89h16.08v2.56h-16.08zM183.27 552.40h16.08v2.56h-16.08zM199.29 549.89h16.08v2.56h-16.08zM231.35 552.40h16.08v2.56h-16.08zM183.27 554.90h16.08v2.56h-16.08zM199.29 554.90h16.08v2.56h-16.08zM183.27 562.42h16.08v2.56h-16.08zM183.27 564.93h16.08v2.56h-16.08zM199.29 564.93h16.08v2.56h-16.08zM199.29 569.95h16.08v2.56h-16.08zM215.32 572.45h16.08v2.56h-16.08zM215.32 574.96h16.08v2.56h-16.08zM151.21 579.97h16.08v2.56h-16.08zM55.05 587.49h16.08v4.56h-16.08zM231.35 587.49h16.08v4.56h-16.08z"/>
<path fill="#ea7745" d="M119.16 88.63h16.08v2.56h-16.08zM21.00 103.67h18.08v2.56h-18.08zM21.00 113.70h18.08v2.56h-18.08zM231.35 128.74h16.08v2.56h-16.08zM247.37 131.24h18.08v2.56h-18.08zM231.35 133.75h16.08v2.56h-16.08zM231.35 141.27h16.08v2.56h-16.08zM231.35 151.30h16.08v2.56h-16.08zM247.37 151.30h18.08v2.56h-18.08zM231.35 163.83h16.08v2.56h-16.08zM247.37 168.85h18.08v2.56h-18.08zM231.35 176.37h16.08v2.56h-16.08zM39.03 198.93h16.08v2.56h-16.08zM39.03 206.45h16.08v2.56h-16.08zM21.00 221.49h18.08v2.56h-18.08zM231.35 251.57h16.08v2.56h-16.08zM231.35 266.61h16.08v2.56h-16.08zM215.32 271.63h16.08v2.56h-16.08zM215.32 276.64h16.08v2.56h-16.08zM215.32 281.66h16.08v2.56h-16.08zM215.32 286.67h16.08v2.56h-16.08zM71.08 289.18h16.08v2.56h-16.08zM87.11 291.68h16.08v2.56h-16.08zM71.08 296.70h16.08v2.56h-16.08zM71.08 301.71h16.08v2.56h-16.08zM87.11 299.20h16.08v2.56h-16.08zM103.13 304.22h16.08v2.56h-16.08zM71.08 311.74h16.08v2.56h-16.08zM87.11 311.74h16.08v2.56h-16.08zM103.13 311.74h16.08v2.56h-16.08zM87.11 316.75h16.08v2.56h-16.08zM103.13 314.25h16.08v2.56h-16.08zM87.11 319.26h16.08v2.56h-16.08zM71.08 326.78h16.08v2.56h-16.08zM87.11 324.27h16.08v2.56h-16.08zM87.11 331.79h16.08v2.56h-16.08zM87.11 334.30h16.08v2.56h-16.08zM71.08 341.82h16.08v2.56h-16.08zM71.08 346.83h16.08v2.56h-16.08zM87.11 344.33h16.08v2.56h-16.08zM87.11 351.85h16.08v2.56h-16.08zM215.32 356.86h16.08v2.56h-16.08zM21.00 414.52h18.08v2.56h-18.08zM39.03 417.03h16.08v2.56h-16.08zM21.00 419.53h18.08v2.56h-18.08zM39.03 422.04h16.08v2.56h-16.08zM21.00 424.55h18.08v2.56h-18.08zM21.00 462.15h18.08v2.56h-18.08zM39.03 462.15h16.08v2.56h-16.08zM21.00 464.66h18.08v2.56h-18.08zM39.03 467.16h16.08v2.56h-16.08zM39.03 472.18h16.08v2.56h-16.08zM39.03 499.75h16.08v2.56h-16.08zM21.00 509.78h18.08v2.56h-18.08zM21.00 522.31h18.08v2.56h-18.08zM39.03 519.81h16.08v2.56h-16.08zM21.00 527.33h18.08v2.56h-18.08zM21.00 529.84h18.08v2.56h-18.08zM21.00 537.36h18.08v2.56h-18.08zM21.00 549.89h18.08v2.56h-18.08zM39.03 562.42h16.08v2.56h-16.08zM21.00 587.49h18.08v4.56h-18.08zM39.03 587.49h16.08v4.56h-16.08zM215.32 584.99h16.08v2.56h-16.08z"/>
<path fill="#ed8a60" d="M119.16 91.13h16.08v2.56h-16.08zM247.37 113.70h18.08v2.56h-18.08zM199.29 121.22h16.08v2.56h-16.08zM231.35 126.23h16.08v2.56h-16.08zM247.37 126.23h18.08v2.56h-18.08zM215.32 131.24h16.08v2.56h-16.08zM247.37 128.74h18.08v2.56h-18.08zM231.35 138.76h16.08v2.56h-16.08zM231.35 146.29h16.08v2.56h-16.08zM247.37 143.78h18.08v2.56h-18.08zM247.37 148.79h18.08v2.56h-18.08zM215.32 156.31h16.08v2.56h-16.08zM247.37 166.34h18.08v2.56h-18.08zM247.37 171.35h18.08v2.56h-18.08zM215.32 173.86h16.08v2.56h-16.08zM39.03 186.40h16.08v2.56h-16.08zM21.00 201.44h18.08v2.56h-18.08zM247.37 201.44h18.08v2.56h-18.08zM39.03 203.94h16.08v2.56h-16.08zM21.00 218.98h18.08v2.56h-18.08zM21.00 226.50h18.08v2.56h-18.08zM247.37 224.00h18.08v2.56h-18.08zM231.35 229.01h16.08v2.56h-16.08zM247.37 231.52h18.08v2.56h-18.08zM21.00 239.04h18.08v2.56h-18.08zM231.35 249.07h16.08v2.56h-16.08zM247.37 251.57h18.08v2.56h-18.08zM231.35 264.11h16.08v2.56h-16.08zM215.32 274.14h16.08v2.56h-16.08zM215.32 279.15h16.08v2.56h-16.08zM215.32 284.16h16.08v2.56h-16.08zM87.11 296.70h16.08v2.56h-16.08zM103.13 294.19h16.08v2.56h-16.08zM21.00 311.74h18.08v2.56h-18.08zM103.13 309.23h16.08v2.56h-16.08zM87.11 341.82h16.08v2.56h-16.08zM87.11 346.83h16.08v2.56h-16.08zM87.11 349.34h16.08v2.56h-16.08zM215.32 354.35h16.08v2.56h-16.08zM71.08 371.90h16.08v2.56h-16.08zM21.00 417.03h18.08v2.56h-18.08zM39.03 414.52h16.08v2.56h-16.08zM21.00 422.04h18.08v2.56h-18.08zM39.03 419.53h16.08v2.56h-16.08zM21.00 427.05h18.08v2.56h-18.08zM55.05 459.64h16.08v2.56h-16.08zM39.03 502.26h16.08v2.56h-16.08zM231.35 504.77h16.08v2.56h-16.08zM55.05 517.30h16.08v2.56h-16.08zM21.00 519.81h18.08v2.56h-18.08zM39.03 522.31h16.08v2.56h-16.08zM71.08 527.33h16.08v2.56h-16.08zM39.03 532.34h16.08v2.56h-16.08zM39.03 534.85h16.08v2.56h-16.08zM103.13 537.36h16.08v2.56h-16.08zM39.03 542.37h16.08v2.56h-16.08zM103.13 539.86h16.08v2.56h-16.08zM55.05 549.89h16.08v2.56h-16.08zM39.03 567.44h16.08v2.56h-16.08zM71.08 567.44h16.08v2.56h-16.08zM103.13 567.44h16.08v2.56h-16.08zM21.00 569.95h18.08v2.56h-18.08zM39.03 569.95h16.08v2.56h-16.08zM71.08 569.95h16.08v2.56h-16.08zM39.03 584.99h16.08v2.56h-16.08z"/>
<path fill="#16aad4" d="M215.32 91.13h16.08v2.56h-16.08zM103.13 128.74h16.08v2.56h-16.08zM71.08 141.27h16.08v2.56h-16.08zM71.08 146.29h16.08v2.56h-16.08zM87.11 143.78h16.08v2.56h-16.08zM87.11 148.79h16.08v2.56h-16.08zM103.13 188.90h16.08v2.56h-16.08zM103.13 196.42h16.08v2.56h-16.08zM103.13 198.93h16.08v2.56h-16.08zM135.19 198.93h16.08v2.56h-16.08zM87.11 211.46h16.08v2.56h-16.08zM135.19 208.96h16.08v2.56h-16.08zM135.19 213.97h16.08v2.56h-16.08zM151.21 224.00h16.08v2.56h-16.08zM135.19 231.52h16.08v2.56h-16.08zM151.21 231.52h16.08v2.56h-16.08zM119.16 236.53h16.08v2.56h-16.08zM135.19 236.53h16.08v2.56h-16.08zM151.21 236.53h16.08v2.56h-16.08zM151.21 241.55h16.08v2.56h-16.08zM87.11 244.05h16.08v2.56h-16.08zM231.35 296.70h16.08v2.56h-16.08zM119.16 314.25h16.08v2.56h-16.08zM119.16 319.26h16.08v2.56h-16.08zM183.27 354.35h16.08v2.56h-16.08zM199.29 364.38h16.08v2.56h-16.08zM135.19 376.92h16.08v2.56h-16.08zM119.16 379.42h16.08v2.56h-16.08zM135.19 394.46h16.08v2.56h-16.08zM151.21 401.99h16.08v2.56h-16.08zM151.21 404.49h16.08v2.56h-16.08zM135.19 509.78h16.08v2.56h-16.08zM119.16 517.30h16.08v2.56h-16.08zM183.27 522.31h16.08v2.56h-16.08zM135.19 562.42h16.08v2.56h-16.08zM119.16 577.47h16.08v2.56h-16.08zM151.21 577.47h16.08v2.56h-16.08z"/>
<path fill="#8fd6ea" d="M119.16 96.15h16.08v2.56h-16.08zM183.27 98.65h16.08v2.56h-16.08zM71.08 106.18h16.08v2.56h-16.08zM135.19 106.18h16.08v2.56h-16.08zM199.29 103.67h16.08v2.56h-16.08zM199.29 106.18h16.08v2.56h-16.08zM39.03 111.19h16.08v2.56h-16.08zM55.05 113.70h16.08v2.56h-16.08zM55.05 116.20h16.08v2.56h-16.08zM103.13 113.70h16.08v2.56h-16.08zM151.21 113.70h16.08v2.56h-16.08zM151.21 116.20h16.08v2.56h-16.08zM103.13 118.71h16.08v2.56h-16.08zM39.03 123.72h16.08v2.56h-16.08zM39.03 126.23h16.08v2.56h-16.08zM151.21 123.72h16.08v2.56h-16.08zM215.32 126.23h16.08v2.56h-16.08zM71.08 131.24h16.08v2.56h-16.08zM87.11 128.74h16.08v2.56h-16.08zM87.11 131.24h16.08v2.56h-16.08zM119.16 133.75h16.08v2.56h-16.08zM39.03 158.82h16.08v2.56h-16.08zM39.03 161.33h16.08v2.56h-16.08zM55.05 168.85h16.08v2.56h-16.08zM55.05 171.35h16.08v2.56h-16.08zM87.11 168.85h16.08v2.56h-16.08zM87.11 173.86h16.08v2.56h-16.08zM87.11 178.87h16.08v2.56h-16.08zM103.13 178.87h16.08v2.56h-16.08zM119.16 188.90h16.08v2.56h-16.08zM119.16 191.41h16.08v2.56h-16.08zM71.08 196.42h16.08v2.56h-16.08zM119.16 198.93h16.08v2.56h-16.08zM87.11 218.98h16.08v2.56h-16.08zM87.11 221.49h16.08v2.56h-16.08zM215.32 221.49h16.08v2.56h-16.08zM55.05 224.00h16.08v2.56h-16.08zM55.05 226.50h16.08v2.56h-16.08zM119.16 224.00h16.08v2.56h-16.08zM103.13 229.01h16.08v2.56h-16.08zM103.13 231.52h16.08v2.56h-16.08zM183.27 234.03h16.08v2.56h-16.08zM87.11 239.04h16.08v2.56h-16.08zM55.05 249.07h16.08v2.56h-16.08zM55.05 251.57h16.08v2.56h-16.08zM71.08 251.57h16.08v2.56h-16.08zM103.13 254.08h16.08v2.56h-16.08zM151.21 261.60h16.08v2.56h-16.08zM71.08 264.11h16.08v2.56h-16.08zM151.21 266.61h16.08v2.56h-16.08zM21.00 269.12h18.08v2.56h-18.08zM21.00 271.63h18.08v2.56h-18.08zM71.08 269.12h16.08v2.56h-16.08zM135.19 269.12h16.08v2.56h-16.08zM55.05 276.64h16.08v2.56h-16.08zM103.13 274.14h16.08v2.56h-16.08zM103.13 276.64h16.08v2.56h-16.08zM135.19 276.64h16.08v2.56h-16.08zM87.11 279.15h16.08v2.56h-16.08zM87.11 281.66h16.08v2.56h-16.08zM39.03 284.16h16.08v2.56h-16.08zM39.03 286.67h16.08v2.56h-16.08zM55.05 284.16h16.08v2.56h-16.08zM135.19 284.16h16.08v2.56h-16.08zM135.19 286.67h16.08v2.56h-16.08zM199.29 286.67h16.08v2.56h-16.08zM167.24 289.18h16.08v2.56h-16.08zM135.19 296.70h16.08v2.56h-16.08zM39.03 299.20h16.08v2.56h-16.08zM39.03 301.71h16.08v2.56h-16.08zM135.19 304.22h16.08v2.56h-16.08zM135.19 309.23h16.08v2.56h-16.08zM167.24 311.74h16.08v2.56h-16.08zM199.29 309.23h16.08v2.56h-16.08zM199.29 311.74h16.08v2.56h-16.08zM167.24 319.26h16.08v2.56h-16.08zM167.24 321.77h16.08v2.56h-16.08zM183.27 319.26h16.08v2.56h-16.08zM183.27 326.78h16.08v2.56h-16.08zM119.16 331.79h16.08v2.56h-16.08zM215.32 329.29h16.08v2.56h-16.08zM231.35 331.79h16.08v2.56h-16.08zM199.29 334.30h16.08v2.56h-16.08zM167.24 339.31h16.08v2.56h-16.08zM167.24 341.82h16.08v2.56h-16.08zM247.37 339.31h18.08v2.56h-18.08zM247.37 341.82h18.08v2.56h-18.08zM215.32 346.83h16.08v2.56h-16.08zM55.05 351.85h16.08v2.56h-16.08zM119.16 349.34h16.08v2.56h-16.08zM135.19 349.34h16.08v2.56h-16.08zM183.27 349.34h16.08v2.56h-16.08zM39.03 361.88h16.08v2.56h-16.08zM199.29 361.88h16.08v2.56h-16.08zM39.03 379.42h16.08v2.56h-16.08zM39.03 381.93h16.08v2.56h-16.08zM183.27 384.44h16.08v2.56h-16.08zM183.27 386.94h16.08v2.56h-16.08zM183.27 391.96h16.08v2.56h-16.08zM39.03 404.49h16.08v2.56h-16.08zM183.27 412.01h16.08v2.56h-16.08zM87.11 414.52h16.08v2.56h-16.08zM151.21 414.52h16.08v2.56h-16.08zM71.08 419.53h16.08v2.56h-16.08zM119.16 419.53h16.08v2.56h-16.08zM119.16 422.04h16.08v2.56h-16.08zM199.29 419.53h16.08v2.56h-16.08zM119.16 424.55h16.08v2.56h-16.08zM119.16 427.05h16.08v2.56h-16.08zM167.24 424.55h16.08v2.56h-16.08zM183.27 427.05h16.08v2.56h-16.08zM87.11 429.56h16.08v2.56h-16.08zM87.11 432.07h16.08v2.56h-16.08zM215.32 429.56h16.08v2.56h-16.08zM215.32 432.07h16.08v2.56h-16.08zM71.08 434.57h16.08v2.56h-16.08zM71.08 437.08h16.08v2.56h-16.08zM87.11 434.57h16.08v2.56h-16.08zM87.11 437.08h16.08v2.56h-16.08zM103.13 434.57h16.08v2.56h-16.08zM103.13 437.08h16.08v2.56h-16.08zM135.19 437.08h16.08v2.56h-16.08zM183.27 437.08h16.08v2.56h-16.08zM199.29 434.57h16.08v2.56h-16.08zM183.27 439.59h16.08v2.56h-16.08zM135.19 444.60h16.08v2.56h-16.08zM183.27 444.60h16.08v2.56h-16.08zM71.08 449.62h16.08v2.56h-16.08zM71.08 452.12h16.08v2.56h-16.08zM87.11 452.12h16.08v2.56h-16.08zM71.08 457.14h16.08v2.56h-16.08zM119.16 454.63h16.08v2.56h-16.08zM119.16 457.14h16.08v2.56h-16.08zM151.21 454.63h16.08v2.56h-16.08zM151.21 457.14h16.08v2.56h-16.08zM215.32 454.63h16.08v2.56h-16.08zM231.35 462.15h16.08v2.56h-16.08zM215.32 464.66h16.08v2.56h-16.08zM199.29 472.18h16.08v2.56h-16.08zM215.32 472.18h16.08v2.56h-16.08zM231.35 472.18h16.08v2.56h-16.08zM135.19 477.19h16.08v2.56h-16.08zM151.21 474.68h16.08v2.56h-16.08zM151.21 477.19h16.08v2.56h-16.08zM215.32 474.68h16.08v2.56h-16.08zM231.35 474.68h16.08v2.56h-16.08zM87.11 482.20h16.08v2.56h-16.08zM183.27 484.71h16.08v2.56h-16.08zM183.27 487.22h16.08v2.56h-16.08zM87.11 489.73h16.08v2.56h-16.08zM87.11 492.23h16.08v2.56h-16.08zM231.35 492.23h16.08v2.56h-16.08zM119.16 499.75h16.08v2.56h-16.08zM119.16 502.26h16.08v2.56h-16.08zM167.24 502.26h16.08v2.56h-16.08zM183.27 502.26h16.08v2.56h-16.08zM199.29 502.26h16.08v2.56h-16.08zM119.16 512.29h16.08v2.56h-16.08zM151.21 514.79h16.08v2.56h-16.08zM135.19 519.81h16.08v2.56h-16.08zM167.24 519.81h16.08v2.56h-16.08zM167.24 522.31h16.08v2.56h-16.08zM151.21 524.82h16.08v2.56h-16.08zM247.37 524.82h18.08v2.56h-18.08zM247.37 527.33h18.08v2.56h-18.08zM167.24 534.85h16.08v2.56h-16.08zM199.29 534.85h16.08v2.56h-16.08zM215.32 534.85h16.08v2.56h-16.08zM215.32 537.36h16.08v2.56h-16.08zM183.27 539.86h16.08v2.56h-16.08zM231.35 542.37h16.08v2.56h-16.08zM135.19 547.38h16.08v2.56h-16.08zM167.24 544.88h16.08v2.56h-16.08zM231.35 544.88h16.08v2.56h-16.08zM231.35 547.38h16.08v2.56h-16.08zM167.24 567.44h16.08v2.56h-16.08zM167.24 572.45h16.08v2.56h-16.08zM135.19 582.48h16.08v2.56h-16.08zM183.27 579.97h16.08v2.56h-16.08zM183.27 582.48h16.08v2.56h-16.08zM87.11 584.99h16.08v2.56h-16.08zM87.11 587.49h16.08v4.56h-16.08zM103.13 584.99h16.08v2.56h-16.08zM103.13 587.49h16.08v4.56h-16.08zM151.21 584.99h16.08v2.56h-16.08zM151.21 587.49h16.08v4.56h-16.08zM167.24 584.99h16.08v2.56h-16.08zM167.24 587.49h16.08v4.56h-16.08zM183.27 584.99h16.08v2.56h-16.08zM183.27 587.49h16.08v4.56h-16.08z"/>
<path fill="#e7642b" d="M215.32 96.15h16.08v2.56h-16.08zM21.00 106.18h18.08v2.56h-18.08zM21.00 116.20h18.08v2.56h-18.08zM231.35 131.24h16.08v2.56h-16.08zM231.35 136.26h16.08v2.56h-16.08zM231.35 148.79h16.08v2.56h-16.08zM231.35 153.81h16.08v2.56h-16.08zM231.35 166.34h16.08v2.56h-16.08zM231.35 173.86h16.08v2.56h-16.08zM39.03 201.44h16.08v2.56h-16.08zM215.32 246.56h16.08v2.56h-16.08zM231.35 261.60h16.08v2.56h-16.08zM247.37 264.11h18.08v2.56h-18.08zM215.32 269.12h16.08v2.56h-16.08zM71.08 291.68h16.08v2.56h-16.08zM71.08 294.19h16.08v2.56h-16.08zM71.08 299.20h16.08v2.56h-16.08zM87.11 301.71h16.08v2.56h-16.08zM103.13 299.20h16.08v2.56h-16.08zM71.08 309.23h16.08v2.56h-16.08zM71.08 324.27h16.08v2.56h-16.08zM103.13 326.78h16.08v2.56h-16.08zM71.08 331.79h16.08v2.56h-16.08zM103.13 329.29h16.08v2.56h-16.08zM71.08 339.31h16.08v2.56h-16.08zM103.13 341.82h16.08v2.56h-16.08zM71.08 344.33h16.08v2.56h-16.08zM103.13 344.33h16.08v2.56h-16.08zM21.00 439.59h18.08v2.56h-18.08zM21.00 444.60h18.08v2.56h-18.08zM39.03 452.12h16.08v2.56h-16.08zM39.03 457.14h16.08v2.56h-16.08zM21.00 459.64h18.08v2.56h-18.08zM39.03 459.64h16.08v2.56h-16.08zM21.00 467.16h18.08v2.56h-18.08zM39.03 464.66h16.08v2.56h-16.08zM21.00 472.18h18.08v2.56h-18.08zM39.03 469.67h16.08v2.56h-16.08zM21.00 474.68h18.08v2.56h-18.08zM21.00 484.71h18.08v2.56h-18.08zM39.03 484.71h16.08v2.56h-16.08zM39.03 492.23h16.08v2.56h-16.08zM21.00 512.29h18.08v2.56h-18.08zM21.00 524.82h18.08v2.56h-18.08zM21.00 532.34h18.08v2.56h-18.08zM21.00 534.85h18.08v2.56h-18.08zM21.00 552.40h18.08v2.56h-18.08zM21.00 554.90h18.08v2.56h-18.08zM21.00 584.99h18.08v2.56h-18.08zM215.32 587.49h16.08v4.56h-16.08z"/>
<path fill="#f2a888" d="M231.35 103.67h16.08v2.56h-16.08zM167.24 118.71h16.08v2.56h-16.08zM183.27 118.71h16.08v2.56h-16.08zM247.37 118.71h18.08v2.56h-18.08zM167.24 123.72h16.08v2.56h-16.08zM167.24 126.23h16.08v2.56h-16.08zM55.05 131.24h16.08v2.56h-16.08zM21.00 148.79h18.08v2.56h-18.08zM215.32 151.30h16.08v2.56h-16.08zM215.32 163.83h16.08v2.56h-16.08zM215.32 166.34h16.08v2.56h-16.08zM21.00 173.86h18.08v2.56h-18.08zM247.37 186.40h18.08v2.56h-18.08zM21.00 188.90h18.08v2.56h-18.08zM247.37 191.41h18.08v2.56h-18.08zM21.00 193.92h18.08v2.56h-18.08zM247.37 196.42h18.08v2.56h-18.08zM231.35 203.94h16.08v2.56h-16.08zM231.35 206.45h16.08v2.56h-16.08zM247.37 203.94h18.08v2.56h-18.08zM247.37 206.45h18.08v2.56h-18.08zM247.37 211.46h18.08v2.56h-18.08zM199.29 213.97h16.08v2.56h-16.08zM167.24 224.00h16.08v2.56h-16.08zM231.35 224.00h16.08v2.56h-16.08zM21.00 229.01h18.08v2.56h-18.08zM199.29 229.01h16.08v2.56h-16.08zM21.00 236.53h18.08v2.56h-18.08zM167.24 246.56h16.08v2.56h-16.08zM167.24 254.08h16.08v2.56h-16.08zM199.29 271.63h16.08v2.56h-16.08zM103.13 296.70h16.08v2.56h-16.08zM167.24 294.19h16.08v2.56h-16.08zM167.24 296.70h16.08v2.56h-16.08zM199.29 294.19h16.08v2.56h-16.08zM71.08 349.34h16.08v2.56h-16.08zM71.08 351.85h16.08v2.56h-16.08zM103.13 351.85h16.08v2.56h-16.08zM103.13 359.37h16.08v2.56h-16.08zM21.00 364.38h18.08v2.56h-18.08zM103.13 364.38h16.08v2.56h-16.08zM231.35 366.89h16.08v2.56h-16.08zM247.37 366.89h18.08v2.56h-18.08zM71.08 376.92h16.08v2.56h-16.08zM87.11 376.92h16.08v2.56h-16.08zM199.29 374.41h16.08v2.56h-16.08zM199.29 376.92h16.08v2.56h-16.08zM103.13 379.42h16.08v2.56h-16.08zM71.08 384.44h16.08v2.56h-16.08zM87.11 384.44h16.08v2.56h-16.08zM87.11 386.94h16.08v2.56h-16.08zM71.08 389.45h16.08v2.56h-16.08zM215.32 389.45h16.08v2.56h-16.08zM247.37 396.97h18.08v2.56h-18.08zM231.35 407.00h16.08v2.56h-16.08zM231.35 409.51h16.08v2.56h-16.08zM231.35 414.52h16.08v2.56h-16.08zM55.05 439.59h16.08v2.56h-16.08zM55.05 442.10h16.08v2.56h-16.08zM55.05 467.16h16.08v2.56h-16.08zM55.05 479.70h16.08v2.56h-16.08zM55.05 484.71h16.08v2.56h-16.08zM55.05 487.22h16.08v2.56h-16.08zM39.03 537.36h16.08v2.56h-16.08zM103.13 534.85h16.08v2.56h-16.08zM87.11 542.37h16.08v2.56h-16.08zM103.13 542.37h16.08v2.56h-16.08zM71.08 547.38h16.08v2.56h-16.08zM71.08 549.89h16.08v2.56h-16.08zM71.08 562.42h16.08v2.56h-16.08zM71.08 564.93h16.08v2.56h-16.08zM39.03 572.45h16.08v2.56h-16.08zM71.08 572.45h16.08v2.56h-16.08zM71.08 574.96h16.08v2.56h-16.08zM71.08 577.47h16.08v2.56h-16.08zM87.11 574.96h16.08v2.56h-16.08zM87.11 577.47h16.08v2.56h-16.08zM103.13 574.96h16.08v2.56h-16.08z"/>
<path fill="#ec8052" d="M231.35 106.18h16.08v2.56h-16.08zM167.24 121.22h16.08v2.56h-16.08zM183.27 121.22h16.08v2.56h-16.08zM247.37 121.22h18.08v2.56h-18.08zM247.37 133.75h18.08v2.56h-18.08zM215.32 148.79h16.08v2.56h-16.08zM247.37 153.81h18.08v2.56h-18.08zM247.37 156.31h18.08v2.56h-18.08zM231.35 158.82h16.08v2.56h-16.08zM247.37 158.82h18.08v2.56h-18.08zM247.37 161.33h18.08v2.56h-18.08zM231.35 171.35h16.08v2.56h-16.08zM247.37 183.89h18.08v2.56h-18.08zM21.00 191.41h18.08v2.56h-18.08zM21.00 196.42h18.08v2.56h-18.08zM247.37 193.92h18.08v2.56h-18.08zM231.35 226.50h16.08v2.56h-16.08zM215.32 249.07h16.08v2.56h-16.08zM215.32 251.57h16.08v2.56h-16.08zM247.37 254.08h18.08v2.56h-18.08zM231.35 274.14h16.08v2.56h-16.08zM231.35 276.64h16.08v2.56h-16.08zM87.11 289.18h16.08v2.56h-16.08zM103.13 301.71h16.08v2.56h-16.08zM87.11 304.22h16.08v2.56h-16.08zM87.11 309.23h16.08v2.56h-16.08zM71.08 316.75h16.08v2.56h-16.08zM87.11 314.25h16.08v2.56h-16.08zM71.08 334.30h16.08v2.56h-16.08zM103.13 346.83h16.08v2.56h-16.08zM103.13 349.34h16.08v2.56h-16.08zM231.35 364.38h16.08v2.56h-16.08zM71.08 386.94h16.08v2.56h-16.08zM231.35 389.45h16.08v2.56h-16.08zM231.35 391.96h16.08v2.56h-16.08zM247.37 394.46h18.08v2.56h-18.08zM247.37 399.48h18.08v2.56h-18.08zM247.37 401.99h18.08v2.56h-18.08zM55.05 419.53h16.08v2.56h-16.08zM55.05 422.04h16.08v2.56h-16.08zM39.03 424.55h16.08v2.56h-16.08zM39.03 444.60h16.08v2.56h-16.08zM55.05 464.66h16.08v2.56h-16.08zM55.05 482.20h16.08v2.56h-16.08zM21.00 504.77h18.08v2.56h-18.08zM21.00 507.27h18.08v2.56h-18.08zM71.08 524.82h16.08v2.56h-16.08zM39.03 529.84h16.08v2.56h-16.08zM39.03 539.86h16.08v2.56h-16.08zM39.03 544.88h16.08v2.56h-16.08zM39.03 564.93h16.08v2.56h-16.08zM21.00 582.48h18.08v2.56h-18.08z"/>
<path fill="#0aa5d2" d="M87.11 141.27h16.08v2.56h-16.08zM87.11 146.29h16.08v2.56h-16.08zM103.13 143.78h16.08v2.56h-16.08zM71.08 151.30h16.08v2.56h-16.08zM87.11 151.30h16.08v2.56h-16.08zM87.11 183.89h16.08v2.56h-16.08zM135.19 193.92h16.08v2.56h-16.08zM87.11 251.57h16.08v2.56h-16.08zM167.24 276.64h16.08v2.56h-16.08zM119.16 386.94h16.08v2.56h-16.08zM135.19 384.44h16.08v2.56h-16.08zM119.16 391.96h16.08v2.56h-16.08zM135.19 391.96h16.08v2.56h-16.08zM135.19 574.96h16.08v2.56h-16.08z"/>
</g></g>
<defs><linearGradient id="zg" x1="0" x2="1" y1="0" y2="0"><stop offset="0" stop-color="#0aa5d2"/><stop offset="0.5" stop-color="#fff"/><stop offset="1" stop-color="#e65a1e"/></linearGradient></defs>
<rect x="203.2" y="593.1" width="60.3" height="7.4" fill="url(#zg)"/>
<text x="201.6" y="599.5" font-size="7.2" font-weight="bold" text-anchor="end" fill="#222">z-score</text>
<text x="207.8" y="607.3" font-size="6.6" font-weight="bold" text-anchor="middle" fill="#222">-1</text>
<text x="233.4" y="607.3" font-size="6.6" font-weight="bold" text-anchor="middle" fill="#222">0</text>
<text x="259.0" y="607.3" font-size="6.6" font-weight="bold" text-anchor="middle" fill="#222">1</text>
<g stroke-linejoin="round" stroke-linecap="round">
<path d="M605.3 227.3 L605.7 227.3 L606.0 227.3 L606.4 227.4 L606.8 227.4 L607.3 227.5 L607.7 227.5 L608.3 227.6 L608.9 227.6 L609.5 227.7 L610.2 227.8 L611.1 228.0 L612.0 228.1 L613.1 228.3 L614.3 228.5 L615.6 228.6 L617.0 228.8 L618.4 229.0 L619.8 229.2 L621.3 229.5 L622.7 229.7 L624.2 230.0 L625.5 230.3 L626.9 230.7 L628.1 231.1 L629.4 231.5 L630.8 232.0 L632.1 232.6 L633.5 233.1 L634.9 233.8 L636.2 234.4 L637.6 235.1 L638.9 235.8 L640.3 236.5 L641.6 237.3 L642.8 238.0 L644.0 238.8 L645.2 239.6 L646.3 240.4 L647.5 241.2 L648.6 242.1 L649.7 243.0 L650.8 244.0 L651.9 244.9 L652.9 245.8 L653.9 246.8 L654.9 247.8 L655.8 248.7 L656.7 249.7 L657.5 250.7 L658.3 251.7 L659.1 252.7 L659.9 253.8 L660.6 254.8 L661.3 255.9 L661.9 256.9 L662.5 258.0 L663.1 259.0 L663.6 260.0 L664.1 261.0 L664.5 261.9 L664.8 262.8 L665.2 263.7 L665.4 264.5 L665.7 265.4 L665.8 266.2 L666.0 267.0 L666.1 267.8 L666.1 268.5 L666.2 269.3 L666.2 270.1 L666.1 270.9 L666.0 271.7 L665.9 272.5 L665.8 273.3 L665.6 274.2 L665.3 275.1 L665.0 276.0 L664.7 276.9 L664.3 277.7 L664.0 278.5 L663.5 279.3 L663.1 280.1 L662.6 280.8 L662.1 281.4 L661.5 282.1 L660.9 282.7 L660.2 283.3 L659.4 283.9 L658.6 284.5 L657.8 285.1 L656.9 285.7 L655.9 286.2 L654.9 286.8 L653.9 287.3 L652.8 287.8 L651.7 288.3 L650.6 288.7 L649.5 289.1 L648.3 289.5 L647.0 289.9 L645.7 290.3 L644.4 290.6 L643.0 290.9 L641.6 291.2 L640.2 291.5 L638.8 291.8 L637.3 292.0 L635.8 292.3 L634.2 292.5 L632.7 292.8 L631.2 293.0 L629.7 293.2 L628.1 293.4 L626.6 293.6 L625.0 293.8 L623.3 293.9 L621.7 294.0 L619.9 294.0 L618.2 294.0 L616.3 294.0 L614.4 293.9 L612.3 293.8 L610.2 293.6 L608.1 293.5 L605.8 293.2 L603.6 293.0 L601.3 292.7 L599.0 292.4 L596.7 292.0 L594.4 291.7 L592.1 291.3 L589.9 290.9 L587.7 290.5 L585.5 290.0 L583.3 289.5 L581.1 289.0 L578.9 288.5 L576.7 287.9 L574.5 287.3 L572.2 286.7 L570.0 286.1 L567.7 285.5 L565.5 285.0 L563.2 284.4 L561.0 283.8 L558.7 283.3 L556.4 282.7 L554.2 282.1 L551.9 281.5 L549.6 281.0 L547.3 280.4 L545.0 279.8 L542.8 279.3 L540.6 278.8 L538.4 278.3 L536.2 277.8 L534.1 277.4 L532.1 277.0 L530.0 276.6 L528.0 276.2 L526.0 275.8 L524.1 275.4 L522.1 275.1 L520.2 274.8 L518.2 274.5 L516.2 274.3 L514.2 274.1 L512.2 273.9 L510.2 273.7 L508.2 273.6 L506.1 273.5 L504.0 273.4 L502.0 273.4 L499.9 273.3 L497.9 273.3 L495.9 273.4 L493.9 273.4 L492.0 273.5 L490.2 273.6 L488.4 273.8 L486.7 273.9 L484.9 274.2 L483.2 274.4 L481.6 274.7 L480.0 275.1 L478.4 275.4 L477.0 275.8 L475.6 276.1 L474.3 276.4 L473.2 276.8 L472.1 277.1 L471.2 277.3 L470.4 277.6 L469.6 277.9 L469.0 278.2 L468.4 278.5 L467.9 278.9 L467.5 279.3 L467.2 279.7 L467.0 280.0 L466.9 280.2 L466.9 280.2 L467.1 280.1 L467.2 280.0 L469.8 283.2 L470.2 283.0 L470.5 282.5 L470.7 282.3 L470.7 282.2 L470.7 282.2 L470.7 282.2 L470.7 282.3 L470.8 282.2 L470.9 282.1 L471.3 282.0 L471.7 281.9 L472.4 281.7 L473.3 281.4 L474.3 281.2 L475.5 280.9 L476.7 280.6 L478.0 280.3 L479.4 280.0 L480.9 279.7 L482.4 279.4 L484.0 279.2 L485.6 279.0 L487.2 278.8 L488.8 278.6 L490.5 278.5 L492.2 278.5 L494.1 278.4 L495.9 278.4 L497.9 278.4 L499.8 278.4 L501.8 278.5 L503.8 278.6 L505.9 278.7 L507.8 278.8 L509.8 279.0 L511.8 279.1 L513.7 279.4 L515.5 279.6 L517.4 279.9 L519.3 280.2 L521.2 280.5 L523.1 280.9 L525.0 281.2 L526.9 281.6 L528.9 282.0 L530.9 282.5 L532.9 282.9 L535.0 283.4 L537.1 283.9 L539.2 284.4 L541.4 284.9 L543.6 285.5 L545.9 286.0 L548.1 286.6 L550.4 287.2 L552.7 287.8 L555.0 288.4 L557.2 289.0 L559.5 289.6 L561.8 290.2 L564.0 290.8 L566.2 291.4 L568.4 292.0 L570.6 292.6 L572.9 293.2 L575.1 293.8 L577.4 294.4 L579.6 295.0 L581.9 295.6 L584.1 296.1 L586.4 296.6 L588.7 297.1 L591.0 297.5 L593.3 297.9 L595.7 298.3 L598.0 298.7 L600.4 299.0 L602.8 299.4 L605.1 299.7 L607.4 299.9 L609.7 300.1 L611.9 300.3 L614.0 300.5 L616.1 300.6 L618.1 300.7 L620.0 300.7 L621.9 300.6 L623.7 300.6 L625.5 300.5 L627.2 300.3 L628.9 300.2 L630.5 300.0 L632.1 299.8 L633.7 299.6 L635.3 299.3 L636.8 299.1 L638.4 298.9 L639.9 298.6 L641.5 298.4 L643.0 298.1 L644.5 297.8 L646.0 297.5 L647.5 297.1 L648.9 296.7 L650.4 296.3 L651.8 295.9 L653.1 295.4 L654.5 294.9 L655.7 294.4 L657.0 293.9 L658.2 293.3 L659.4 292.7 L660.6 292.0 L661.7 291.3 L662.8 290.6 L663.9 289.8 L664.9 289.0 L665.9 288.2 L666.8 287.3 L667.7 286.4 L668.6 285.3 L669.3 284.3 L670.0 283.2 L670.7 282.1 L671.3 280.9 L671.8 279.8 L672.2 278.6 L672.7 277.4 L673.0 276.2 L673.3 275.1 L673.6 273.9 L673.8 272.7 L673.9 271.6 L674.0 270.4 L674.0 269.3 L674.0 268.1 L673.9 267.0 L673.8 265.8 L673.6 264.7 L673.4 263.5 L673.1 262.4 L672.7 261.2 L672.3 260.1 L671.9 258.9 L671.4 257.7 L670.9 256.5 L670.3 255.3 L669.6 254.0 L668.9 252.8 L668.2 251.5 L667.4 250.3 L666.6 249.1 L665.7 247.8 L664.8 246.6 L663.9 245.4 L662.9 244.3 L662.0 243.2 L660.9 242.0 L659.9 240.9 L658.7 239.8 L657.6 238.7 L656.4 237.6 L655.2 236.6 L654.0 235.5 L652.7 234.5 L651.4 233.5 L650.1 232.6 L648.8 231.6 L647.4 230.7 L646.0 229.8 L644.6 229.0 L643.2 228.1 L641.7 227.3 L640.2 226.5 L638.7 225.8 L637.1 225.1 L635.6 224.4 L634.1 223.7 L632.6 223.1 L631.1 222.5 L629.5 222.0 L627.8 221.5 L626.2 221.1 L624.5 220.8 L622.9 220.4 L621.3 220.1 L619.8 219.9 L618.3 219.7 L617.0 219.4 L615.7 219.2 L614.6 219.1 L613.6 218.9 L612.7 218.7 L611.8 218.5 L611.0 218.4 L610.2 218.3 L609.6 218.2 L609.0 218.1 L608.4 218.0 L608.0 217.9 L607.6 217.9 L607.2 217.8 L606.9 217.8 L606.7 217.7Z" fill="#E3BCB0"/>
<path d="M605.2 226.0 L605.5 226.0 L605.8 226.0 L606.2 226.1 L606.6 226.1 L607.1 226.2 L607.5 226.2 L608.1 226.3 L608.7 226.4 L609.3 226.4 L610.1 226.6 L610.9 226.7 L611.8 226.8 L612.9 227.0 L614.2 227.2 L615.4 227.4 L616.8 227.5 L618.2 227.7 L619.7 227.9 L621.1 228.2 L622.6 228.4 L624.0 228.7 L625.4 229.0 L626.8 229.4 L628.1 229.8 L629.4 230.3 L630.8 230.8 L632.1 231.3 L633.5 231.9 L634.9 232.5 L636.3 233.2 L637.7 233.9 L639.0 234.6 L640.4 235.3 L641.7 236.1 L642.9 236.8 L644.2 237.6 L645.3 238.4 L646.5 239.2 L647.7 240.1 L648.8 241.0 L650.0 241.9 L651.1 242.9 L652.1 243.8 L653.2 244.8 L654.2 245.7 L655.1 246.7 L656.1 247.7 L657.0 248.7 L657.8 249.7 L658.6 250.7 L659.4 251.7 L660.2 252.8 L660.9 253.9 L661.7 254.9 L662.3 256.0 L662.9 257.1 L663.5 258.1 L664.0 259.1 L664.5 260.1 L664.9 261.1 L665.3 262.0 L665.6 262.9 L665.9 263.8 L666.1 264.7 L666.3 265.5 L666.5 266.4 L666.6 267.2 L666.6 268.0 L666.7 268.8 L666.7 269.6 L666.6 270.4 L666.5 271.3 L666.4 272.1 L666.2 273.0 L666.0 273.9 L665.8 274.8 L665.5 275.8 L665.1 276.7 L664.8 277.5 L664.4 278.4 L663.9 279.2 L663.4 280.0 L662.9 280.8 L662.4 281.5 L661.8 282.1 L661.1 282.8 L660.4 283.5 L659.6 284.1 L658.8 284.7 L657.9 285.3 L657.0 285.9 L656.0 286.4 L655.0 287.0 L653.9 287.5 L652.8 288.0 L651.7 288.5 L650.6 289.0 L649.4 289.4 L648.2 289.8 L647.0 290.2 L645.6 290.5 L644.3 290.9 L642.9 291.2 L641.5 291.5 L640.1 291.8 L638.6 292.1 L637.1 292.3 L635.6 292.6 L634.1 292.8 L632.5 293.1 L631.0 293.3 L629.5 293.5 L627.9 293.7 L626.3 293.9 L624.7 294.1 L623.1 294.2 L621.4 294.3 L619.7 294.3 L617.9 294.3 L616.0 294.3 L614.0 294.2 L612.0 294.1 L609.9 293.9 L607.7 293.8 L605.4 293.5 L603.2 293.3 L600.9 293.0 L598.6 292.7 L596.2 292.3 L593.9 292.0 L591.7 291.6 L589.4 291.2 L587.2 290.8 L585.0 290.3 L582.8 289.8 L580.6 289.3 L578.4 288.7 L576.2 288.2 L574.0 287.6 L571.7 287.0 L569.5 286.4 L567.2 285.8 L565.0 285.2 L562.7 284.7 L560.5 284.1 L558.2 283.5 L555.9 283.0 L553.7 282.4 L551.4 281.8 L549.1 281.2 L546.8 280.7 L544.5 280.1 L542.3 279.6 L540.1 279.0 L537.9 278.6 L535.7 278.1 L533.6 277.7 L531.6 277.2 L529.6 276.8 L527.6 276.5 L525.6 276.1 L523.6 275.7 L521.7 275.4 L519.7 275.1 L517.8 274.8 L515.8 274.6 L513.9 274.3 L511.9 274.2 L509.9 274.0 L507.8 273.9 L505.8 273.8 L503.7 273.7 L501.6 273.7 L499.6 273.6 L497.6 273.6 L495.6 273.7 L493.6 273.7 L491.7 273.8 L489.9 273.9 L488.2 274.1 L486.5 274.2 L484.7 274.5 L483.1 274.7 L481.4 275.0 L479.8 275.3 L478.3 275.7 L476.9 276.0 L475.5 276.4 L474.2 276.7 L473.1 277.0 L472.0 277.3 L471.1 277.6 L470.3 277.9 L469.6 278.1 L469.0 278.4 L468.5 278.7 L468.1 279.0 L467.8 279.3 L467.5 279.6 L467.4 279.9 L467.3 280.1 L467.3 280.2 L467.4 280.1 L467.4 280.1 L469.0 282.1 L469.3 281.9 L469.5 281.6 L469.7 281.4 L469.7 281.3 L469.8 281.2 L469.8 281.2 L469.9 281.1 L470.0 281.1 L470.3 280.9 L470.7 280.8 L471.2 280.6 L471.9 280.4 L472.8 280.2 L473.8 279.9 L475.0 279.6 L476.2 279.3 L477.6 279.0 L479.0 278.7 L480.5 278.4 L482.0 278.1 L483.6 277.9 L485.2 277.7 L486.8 277.5 L488.4 277.3 L490.1 277.3 L491.9 277.2 L493.7 277.1 L495.6 277.1 L497.6 277.1 L499.6 277.1 L501.6 277.2 L503.6 277.3 L505.6 277.4 L507.6 277.5 L509.6 277.7 L511.5 277.8 L513.4 278.1 L515.3 278.3 L517.2 278.6 L519.1 278.9 L521.0 279.2 L522.9 279.6 L524.9 279.9 L526.8 280.3 L528.8 280.8 L530.8 281.2 L532.8 281.6 L534.9 282.1 L537.0 282.6 L539.1 283.1 L541.3 283.6 L543.5 284.2 L545.8 284.8 L548.0 285.3 L550.3 285.9 L552.6 286.6 L554.9 287.2 L557.1 287.8 L559.4 288.4 L561.7 288.9 L563.9 289.5 L566.1 290.1 L568.3 290.7 L570.5 291.3 L572.8 291.9 L575.0 292.6 L577.3 293.2 L579.5 293.7 L581.8 294.3 L584.0 294.8 L586.3 295.4 L588.6 295.8 L590.8 296.2 L593.2 296.6 L595.5 297.0 L597.9 297.4 L600.2 297.8 L602.6 298.1 L604.9 298.4 L607.2 298.6 L609.4 298.9 L611.6 299.0 L613.8 299.2 L615.8 299.3 L617.8 299.4 L619.7 299.4 L621.6 299.3 L623.4 299.3 L625.1 299.2 L626.8 299.0 L628.5 298.9 L630.1 298.7 L631.7 298.5 L633.3 298.3 L634.9 298.0 L636.4 297.8 L638.0 297.6 L639.5 297.3 L641.0 297.1 L642.6 296.8 L644.1 296.5 L645.5 296.2 L647.0 295.8 L648.4 295.5 L649.8 295.1 L651.2 294.7 L652.6 294.2 L653.9 293.7 L655.1 293.2 L656.3 292.6 L657.5 292.1 L658.7 291.5 L659.9 290.8 L661.0 290.2 L662.1 289.4 L663.1 288.7 L664.1 287.9 L665.1 287.1 L666.0 286.2 L666.8 285.3 L667.6 284.4 L668.4 283.3 L669.1 282.3 L669.7 281.2 L670.2 280.1 L670.7 279.0 L671.2 277.8 L671.6 276.7 L671.9 275.5 L672.2 274.4 L672.5 273.2 L672.7 272.1 L672.8 271.0 L672.9 269.9 L672.9 268.8 L672.9 267.7 L672.8 266.6 L672.7 265.5 L672.5 264.3 L672.3 263.2 L672.0 262.1 L671.7 261.0 L671.3 259.8 L670.9 258.7 L670.4 257.5 L669.9 256.3 L669.3 255.1 L668.6 253.9 L667.9 252.7 L667.2 251.5 L666.4 250.2 L665.6 249.0 L664.8 247.8 L663.9 246.6 L663.0 245.5 L662.0 244.3 L661.1 243.2 L660.0 242.1 L659.0 241.0 L657.9 239.9 L656.8 238.8 L655.6 237.7 L654.4 236.7 L653.2 235.6 L651.9 234.6 L650.7 233.7 L649.4 232.7 L648.0 231.8 L646.7 230.9 L645.3 230.0 L643.9 229.2 L642.5 228.3 L641.0 227.5 L639.5 226.7 L638.0 226.0 L636.5 225.3 L635.0 224.6 L633.5 224.0 L632.0 223.4 L630.5 222.8 L628.9 222.3 L627.3 221.8 L625.7 221.4 L624.1 221.0 L622.5 220.7 L620.9 220.4 L619.4 220.2 L617.9 219.9 L616.5 219.7 L615.3 219.5 L614.2 219.3 L613.2 219.2 L612.2 219.0 L611.3 218.8 L610.5 218.7 L609.8 218.6 L609.2 218.5 L608.6 218.4 L608.0 218.3 L607.6 218.2 L607.2 218.2 L606.8 218.1 L606.5 218.1 L606.2 218.0Z" fill="#EDCDC2"/>
<circle cx="468.6" cy="281.5" r="2.1" fill="#E6C2B6"/>
<path d="M404 234 C408 233 416 234 421 238 C416 242 412 246 410 252 C409 257 405.5 260 401.5 259.8 C397 259.3 395.3 256 396.3 252 C398 246 401 240 404 234 Z" fill="#EFD3CA" stroke="#DDB5AA" stroke-width="0.5"/>
<path d="M378.5 131 C379 124.5 383 119.5 390 118.3 C397 117.3 404 119 405 123 C405.3 127 401.5 130.5 397 132.5 Z" fill="#EDE9E2" stroke="#D2CBC0" stroke-width="0.6"/>
<path d="M307 168 C314 159 332 148 350 139.5 C361 134.5 371 131.5 380 129.5 L398 131 C408 133.5 417 138 424 143 C430 141.5 435 140.3 440 139.6 C455 137.5 468 136.5 478.5 136 C490 135.6 505 135.6 514 136 C522 136.6 527 138 532 139.8 C543 143.5 553 148.5 561.7 154.6 C571 161 579 168.5 586.4 176.8 C593 184 599 190 603.7 196.5 C608 202.5 611.5 208 612.3 213.8 C613 219 611.5 223 608.6 226 C604.5 230.5 599.5 233.5 593.8 236 C588 238.5 583 241 576.6 243.4 C566 245.8 555 246.3 544.5 246.6 C534 247.2 523 248 512.4 248 C501 248 491 248 480 248 C469 248.6 458 251.8 448 251.4 C442 251 436.5 250 432 248 C427 245.5 423 242 419.3 238.5 C412 237 403 234 395 227 C394.5 222 393.5 219 391 216.6 C388 213 384.5 210.5 381 208.4 C374 205.5 367 204.2 360.4 202.3 C353 200.2 346.5 198.3 340 196 C328 191 316 182 308 173 C306 171 306 169 307 168 Z" fill="#F2F0EB" stroke="#D2CBC0" stroke-width="0.7"/>
<defs><linearGradient id="bandg" gradientUnits="userSpaceOnUse" x1="0" y1="140" x2="0" y2="250"><stop offset="0" stop-color="#DAD5CA"/><stop offset="0.6" stop-color="#DCD7CD"/><stop offset="1" stop-color="#E6E2DB"/></linearGradient></defs>
<path d="M440 139.6 C455 137.5 468 136.5 478.5 136 C490 135.6 505 135.6 514 136 C522 136.6 527 138 532 139.8 C543 143.5 553 148.5 561.7 154.6 C571 161 579 168.5 586.4 176.8 C593 184 599 190 603.7 196.5 C608 202.5 611.5 208 612.3 213.8 C613 219 611.5 223 608.6 226 C604.5 230.5 599.5 233.5 593.8 236 C588 238.5 583 241 576.6 243.4 C566 245.8 555 246.3 544.5 246.6 C534 247.2 523 248 512.4 248 C501 248 491 248 480 248 C469 248.6 458 251.8 448 251.4 C442 251 436.5 250 432 248 C427 245.5 423 242 419.3 238.5 L432 229 C442 233 453 235.5 464 237 C475 238.5 485 239.7 496 240 C512 240.4 528 240.4 544.5 240 C556 239.5 567 238.8 576.6 237 C583 235.5 588 233.8 591.4 231 C595.5 227.5 597.5 223.5 597.5 218.8 C597.5 212 595 205.5 591.4 199 C587.5 192 582 185.5 576.5 179 C570.5 172 564 165 556.8 159.5 C549.5 154 541 148.5 532 144.7 C522 140.5 511 138.8 500 138.5 C480 138.2 460 139 440 139.6 Z" fill="url(#bandg)"/>
<path d="M396 226 C402 222 412 220 420 222 C426 228 430 236 432 246 C426 244 420 240 416 236 C410 234 402 232 396 226 Z" fill="#ECE9E3"/>
<ellipse cx="309" cy="169.3" rx="2.6" ry="3.5" fill="#EABFBA"/>
<path d="M312 166 C308 155 303 140 297 131 M313 166 C310 156 308 145 303 135 M314 167 C313 158 311 148 308 139 M314 172 C325 180 340 190 352 200 M314 173 C322 182 333 195 342 207 M313 174 C318 184 325 196 330 206" fill="none" stroke="#E4DED5" stroke-width="0.5"/>
<ellipse cx="353.6" cy="161.9" rx="6.4" ry="5.5" fill="#DDD8CF"/>
<ellipse cx="353.8" cy="161.7" rx="5" ry="4.5" fill="#858585"/>
<ellipse cx="352.8" cy="160.6" rx="1.6" ry="1.2" fill="#9A9A9A"/>
<path d="M349 155.5 C349.5 151.5 355 150 358.5 151 C361 144.5 370 138.5 379 138.5 C384 136.8 392 138.5 394.5 144 C396.5 149.5 393 154.5 386.5 156 C384 160.5 376 163.5 369 162.5 C364 162.3 360 160.5 358 157.8 C354 160.3 349 159.5 349 155.5 Z" fill="#BC9088" stroke="#A67A72" stroke-width="0.5"/>
<path d="M358.5 151 C360 154 359.5 156.5 358 157.8 M381 139 C385 145 386.5 151 386.5 156" fill="none" stroke="#A67A72" stroke-width="0.5"/>
<path d="M391.3 163 C392.5 154 397 144 403 139.5 C409 136 416.5 136 420.5 140 C424.5 146 423.5 156 418.5 163 C413.5 169 405 171.8 398 170.3 C394 169.3 391 167 391.3 163 Z" fill="#F2DDD6" stroke="#DDB5AA" stroke-width="0.7"/>
<path d="M396.5 162.5 C397.5 155 401.5 147.5 406.5 144 C411.5 141.5 416 142.5 418 146.5 C419.5 152 417 159 412 163.5 C407 167.5 400.5 167.5 396.5 162.5 Z" fill="#ECC8BF"/>
<path d="M390 147.5 C396 145.8 402 147 406.2 150 C406.5 151.5 405.5 153 404 153.3 C400 151.8 395 152 391 153.5 Z" fill="#BC9088" stroke="#A67A72" stroke-width="0.4"/>
<path d="M395 227 C399 229 405 232 408.5 236 C405 242 400 247 395.5 251.5 C397 256 396 261 392 263.5 C385 265 377 264.5 370 263 C363 262 357 260 353 257 C351.5 254.5 353 252 356 251.6 C362 251 368 252.5 374 252 C379 251.5 383.5 250 386 247.5 C389 241 392 234 395 227 Z" fill="#EFD3CA" stroke="#DDB5AA" stroke-width="0.5"/>
<path d="M395 227 C399 229 405 232 408.5 236 L406 240 C401 238 396 236 392.5 233.5 Z" fill="#F2F0EB"/>
<path d="M357 255 C362 256 367 257 372 257.5 M360 258.5 C365 260 371 261 377 261" fill="none" stroke="#DDB5AA" stroke-width="0.5"/>
<path d="M577 241 C583 239.5 588.5 241 589.5 246 C590 251 587.5 255.5 583 258 C575 261 566 262 558 264 C551 266 545 269 538 268.5 C532 268 527 266 524 262.5 C526.5 260.5 530 260 533 259.5 C527 258.5 519 256 513 251.5 C514.5 249.5 519 249.5 524 250.5 C535 252.5 547 252.5 557 251 C564 249.5 570 246 577 241 Z" fill="#EFD3CA" stroke="#DDB5AA" stroke-width="0.5"/>
<path d="M527 256 C535 258 545 258.5 553 257.5 M533 260.5 C540 262 548 262 555 260.5" fill="none" stroke="#DDB5AA" stroke-width="0.5"/>
<path d="M511 160 C512 155.5 518 153.5 524 154 C530 154.3 535 157 535 161 C535 165.5 530 168 524 168 C517 168 510.5 165 511 160 Z" fill="#B38B7C"/>
<path d="M567.2 202.9 L567.6 203.3 L568.2 203.7 L568.9 204.2 L569.6 204.8 L570.3 205.4 L571.1 206.0 L571.9 206.6 L572.7 207.3 L573.5 208.0 L574.2 208.6 L574.9 209.3 L575.6 209.9 L576.2 210.5 L576.8 211.2 L577.4 211.9 L578.1 212.6 L578.7 213.3 L579.3 214.1 L579.9 214.8 L580.5 215.6 L581.2 216.4 L581.8 217.2 L582.4 218.0 L583.0 218.9 L583.7 219.7 L584.3 220.7 L585.0 221.7 L585.7 222.7 L586.4 223.8 L587.1 224.8 L587.7 225.9 L588.3 226.8 L588.9 227.7 L589.5 228.5 L589.9 229.2 L590.3 229.7 L594.7 227.3 L594.4 226.7 L594.1 226.0 L593.8 225.1 L593.3 224.1 L592.8 223.0 L592.3 221.9 L591.8 220.8 L591.2 219.6 L590.6 218.4 L590.1 217.3 L589.5 216.2 L589.0 215.1 L588.5 214.2 L588.0 213.2 L587.5 212.3 L586.9 211.4 L586.4 210.4 L585.9 209.5 L585.3 208.6 L584.8 207.7 L584.2 206.8 L583.7 205.9 L583.1 205.0 L582.4 204.1 L581.8 203.2 L581.0 202.3 L580.3 201.4 L579.5 200.5 L578.8 199.6 L578.0 198.8 L577.3 198.0 L576.6 197.2 L576.1 196.6 L575.5 196.0 L575.1 195.5 L574.8 195.1Z" fill="#E4A097" stroke="#C47A72" stroke-width="0.5"/>
<path d="M507 169.3 C510 167 519 166.5 523.8 167.5 C528 165.5 535 163.5 539.6 162.6 C544 162 548 162.3 550 163.1 C553 164.5 554.5 166.5 555.3 168.4 C558 169 561 170.5 562.3 171.9 C564.5 174 566 176.5 566.7 178.9 C569.5 179.5 572 181 572.9 182.4 C575 184.5 576.2 187.5 576.4 190.3 C577 194 576.5 197.5 575.5 200.8 C575.5 206 575 211.5 572.9 216.6 C571.5 220 569 223 565.8 225.3 C563 227.5 559.5 229.5 555.3 230.6 C551 232 546.5 233.5 541.3 234.1 C536 235 529 235.3 523.8 235.8 C519 236.5 515 236.8 511.5 236.7 C508 237 504.5 236.3 501 235.8 C498 236.8 495 237 492.3 236.7 C489 236.3 486.5 234.5 485.3 232.3 C483.5 230.5 482.5 229 482.6 227.1 C484 221 487 215 490.5 211.3 C492 200 494 188 500 180 C502 176 504 172 507 169.3 Z" fill="#E4A097" stroke="#C47A72" stroke-width="0.6"/>
<path d="M538 232 C552 230 565 224 570 213 C574 203 574 192 569 184" fill="none" stroke="#C47A72" stroke-width="9.5"/>
<path d="M538 232 C552 230 565 224 570 213 C574 203 574 192 569 184" fill="none" stroke="#E4A097" stroke-width="8.3"/>
<path d="M522 231 C536 226 550 218 557 205 C562 195 562 183 556 174" fill="none" stroke="#C47A72" stroke-width="9.5"/>
<path d="M522 231 C536 226 550 218 557 205 C562 195 562 183 556 174" fill="none" stroke="#E4A097" stroke-width="8.3"/>
<path d="M512 222 C524 220 538 212 545 199 C550 189 549 177 544 169" fill="none" stroke="#C47A72" stroke-width="9.5"/>
<path d="M512 222 C524 220 538 212 545 199 C550 189 549 177 544 169" fill="none" stroke="#E4A097" stroke-width="8.3"/>
<path d="M540 166 C533 170 530 180 533 188 C536 196 534 204 527 208 C521 211 515 210 512 206" fill="none" stroke="#C47A72" stroke-width="9.0"/>
<path d="M540 166 C533 170 530 180 533 188 C536 196 534 204 527 208 C521 211 515 210 512 206" fill="none" stroke="#E4A097" stroke-width="7.8"/>
<path d="M522 171 C515 175 513 184 516 190 C519 196 526 196 528 190 C529 185 526 181 523 180" fill="none" stroke="#C47A72" stroke-width="7.5"/>
<path d="M522 171 C515 175 513 184 516 190 C519 196 526 196 528 190 C529 185 526 181 523 180" fill="none" stroke="#E4A097" stroke-width="6.3"/>
<path d="M508 173 C513 179 513 188 509 196 C506 202 507 207 511 211" fill="none" stroke="#C47A72" stroke-width="7.5"/>
<path d="M508 173 C513 179 513 188 509 196 C506 202 507 207 511 211" fill="none" stroke="#E4A097" stroke-width="6.3"/>
<path d="M488 232 C492 224 494 216 496 210 C498 204 502 200 506 202 C509 206 506 214 504 220 C502 226 502 232 506 234" fill="none" stroke="#C47A72" stroke-width="6.0"/>
<path d="M488 232 C492 224 494 216 496 210 C498 204 502 200 506 202 C509 206 506 214 504 220 C502 226 502 232 506 234" fill="none" stroke="#E4A097" stroke-width="4.8"/>
<path d="M513 234 C511 228 513 223 517 222 C521 223 522 228 520 233" fill="none" stroke="#C47A72" stroke-width="6.0"/>
<path d="M513 234 C511 228 513 223 517 222 C521 223 522 228 520 233" fill="none" stroke="#E4A097" stroke-width="4.8"/>
<path d="M525 234 C529 230 535 230 539 233" fill="none" stroke="#C47A72" stroke-width="6.0"/>
<path d="M525 234 C529 230 535 230 539 233" fill="none" stroke="#E4A097" stroke-width="4.8"/>
<path d="M567 215 C570 206 570.5 196 567.5 188" fill="none" stroke="#F1C0B8" stroke-width="1.2"/>
<path d="M554 207 C558 198 558.5 187 555 179" fill="none" stroke="#F1C0B8" stroke-width="1.2"/>
<path d="M542 201 C546 192 546 181 542.5 173" fill="none" stroke="#F1C0B8" stroke-width="1.2"/>
<path d="M518.5 180 C517.5 185 519 189 522 191" fill="none" stroke="#F1C0B8" stroke-width="1.0"/>
<path d="M511 179 C514 185 513 191 510.5 196" fill="none" stroke="#F1C0B8" stroke-width="1.0"/>
<path d="M538 227 C547 224 556 219 561 212" fill="none" stroke="#F1C0B8" stroke-width="1.2"/>
<path d="M498 213 C500 208 503 205 505 206" fill="none" stroke="#F1C0B8" stroke-width="0.8"/>
<path d="M481.8 156.6 C485 154.5 489 155 492.3 155.8 C497 156.5 501 158.5 502.9 161 C505.5 163.5 506.5 166.5 506.4 169.8 C506.5 173 506 176 504.6 178.5 C503.5 180.5 502 181.3 500 181 C497 178 494.5 173 492.3 169 C490 167 487 165.5 485.3 164.5 C483.5 162 482.5 159 481.8 156.6 Z" fill="#E5A39B" stroke="#C47A72" stroke-width="0.5"/>
<path d="M486 160 C491 160 497 163 500 168 C502 172 502 176 501 179" fill="none" stroke="#EDB8B0" stroke-width="1.6"/>
<path d="M489.5 156 C491 151.5 497 149.8 503 150.8 C509 152 514 156 514.2 161 C514.3 165.5 511 168.5 507 168.8 C505 165 503.5 162 502.9 161 C501 158.5 497 156.5 492.3 155.8 Z" fill="#9C393D" stroke="#84302F" stroke-width="0.5"/>
<path d="M494 178 C496.5 176.3 500 178 502 183 C504 188.5 504.2 196 502.5 201.5 C501 206 498.5 208 496.5 207 C494.3 205.5 494.5 200 495 195 C495.3 189 493.5 183 494 178 Z" fill="#F2B02F"/>
<path d="M497 182 C499 186 500 192 499.5 198 C499 202 498 204 497 205" fill="none" stroke="#F7C85A" stroke-width="1.2" stroke-dasharray="1.5 1.2"/>
<path d="M485.3 166.3 C488.5 167 491 168.8 492.3 170.7 C494.5 174.5 495.2 179 495 183.8 C495.3 189 495 194.5 494.1 199.6 C493 205.5 491.3 210.5 488.8 215.3 C487.3 218 485.5 220.5 483.6 222.3 C482 224.3 479.5 226 476.6 226.7 C472 227.8 467 228 462.6 227.6 C458 227 453.5 225.5 450.3 223.2 C447.5 221 446 218.3 445.9 215.3 C445.8 212.3 446.3 209.5 447.7 207.4 C450.5 205.3 453.5 204.3 456.4 204 C462 202 468.5 197 473 191.7 C477 184 481.5 174.5 485.3 166.3 Z" fill="#A2655A" stroke="#87493F" stroke-width="0.5"/>
<path d="M485.3 166.3 C488.5 167 491 168.8 492.3 170.7 C494.5 174.5 495.2 179 495 183.8 C495.3 189 495 194.5 494.1 199.6 C493 205.5 491.3 210.5 488.8 215.3 C487 218 485 220.5 483.6 222.3 C481.5 212 478.5 200 475.7 192.5 C478.5 184 482 174.5 485.3 166.3 Z" fill="#95574C"/>
<path d="M475.7 192.5 C478.5 200 481.5 212 479.2 224" fill="none" stroke="#87493F" stroke-width="0.6"/>
<path d="M447.7 207.4 C451 205 456.5 203.8 462 205 C468 206.5 474 211 476 216 C477.5 220.5 476.5 224.5 473 226.8 C468 228 463 228 458 227 C453 225.8 448.5 223.5 446.8 220 C445.5 216 446 210.5 447.7 207.4 Z" fill="#AB6F62"/>
<path d="M428.4 184.7 C430 182 433 180 436.3 178.5 C442 174.5 448 171 453.8 168 C459.5 165 465.5 162 471.3 160.1 C474.5 158.8 478 158 481 158.4 C483 159 484.3 160.3 484.5 161.9 C484.8 164.3 484.3 166.8 483.6 168.9 C482.5 172.3 481 175.5 479.2 178.5 C477.5 182.8 475.5 187 473.1 190.8 C470.5 194.2 467.5 197.2 464.3 199.6 C462 201.5 459.8 203.2 457.3 204 C454.3 204.2 451.3 203.5 448.5 202.2 C444.8 201 441.3 199.5 438 197.8 C435 196 432.3 194 430.1 191.7 C428.5 189.5 427.8 187 428.4 184.7 Z" fill="#EFADB4" stroke="#D4808B" stroke-width="0.6"/>
<path d="M433 190 C440 196 449 200.5 457 201 C464 198 470 192 474 185" fill="none" stroke="#F5C4C9" stroke-width="1.6"/>
<path d="M424.9 186.4 C426.5 186.3 428 188.3 429.3 190.8 C431.5 193 434 195.5 436.3 197.8 C438.5 200 440.3 202.3 441.5 204.8 C442.6 207 442.9 209.2 442.4 211 C441 213.3 438.8 214.3 436.3 214.5 C433 214.8 430 214 427.5 212.7 C424 210.8 421.3 208 419.6 204.8 C418.3 202 418 198.8 418.8 196 C419.8 192 422 188.3 424.9 186.4 Z" fill="#A83F3C" stroke="#8A302D" stroke-width="0.5"/>
<path d="M427.8 192 C429.5 192 431 194.5 431 197.5 C431 200.5 430.3 203 429 203 C428 202.5 427.8 200 428 197.5 C427.3 195.5 427.2 193.5 427.8 192 Z" fill="#C9824F"/>
</g>
<path d="M433.70 17.30A43.70 43.70 0 1 1 390.11 57.95L411.55 59.45A22.20 22.20 0 1 0 433.70 38.80Z" fill="#087A3E" stroke="#087A3E" stroke-width="0.3"/>
<path d="M390.11 57.95A43.70 43.70 0 0 1 390.33 55.67L411.67 58.29A22.20 22.20 0 0 0 411.55 59.45Z" fill="#8C2268" stroke="#8C2268" stroke-width="0.3"/>
<path d="M390.33 55.67A43.70 43.70 0 0 1 390.48 54.54L411.74 57.72A22.20 22.20 0 0 0 411.67 58.29Z" fill="#979797" stroke="#979797" stroke-width="0.3"/>
<path d="M390.48 54.54A43.70 43.70 0 0 1 400.72 32.33L416.95 46.44A22.20 22.20 0 0 0 411.74 57.72Z" fill="#15497D" stroke="#15497D" stroke-width="0.3"/>
<path d="M400.72 32.33A43.70 43.70 0 0 1 432.78 17.31L433.24 38.80A22.20 22.20 0 0 0 416.95 46.44Z" fill="#8E1C1F" stroke="#8E1C1F" stroke-width="0.3"/>
<path d="M432.78 17.31A43.70 43.70 0 0 1 433.70 17.30L433.70 38.80A22.20 22.20 0 0 0 433.24 38.80Z" fill="#E0A32B" stroke="#E0A32B" stroke-width="0.3"/>
<circle cx="433.70" cy="61.00" r="43.70" fill="none" stroke="#000" stroke-width="1.35"/>
<circle cx="433.70" cy="61.00" r="22.20" fill="#fff" stroke="#000" stroke-width="1.35"/>
<path d="M560.39 5.20A43.70 43.70 0 0 1 561.62 5.21L561.16 26.70A22.20 22.20 0 0 0 560.55 26.70Z" fill="#E0A32B" stroke="#E0A32B" stroke-width="0.3"/>
<path d="M561.62 5.21A43.70 43.70 0 0 1 604.36 50.81L582.88 49.87A22.20 22.20 0 0 0 561.16 26.70Z" fill="#087A3E" stroke="#087A3E" stroke-width="0.3"/>
<path d="M604.36 50.81A43.70 43.70 0 0 1 594.66 76.40L577.95 62.87A22.20 22.20 0 0 0 582.88 49.87Z" fill="#8C2268" stroke="#8C2268" stroke-width="0.3"/>
<path d="M594.66 76.40A43.70 43.70 0 0 1 518.19 38.77L539.10 43.76A22.20 22.20 0 0 0 577.95 62.87Z" fill="#979797" stroke="#979797" stroke-width="0.3"/>
<path d="M518.19 38.77A43.70 43.70 0 0 1 537.22 12.04L548.77 30.18A22.20 22.20 0 0 0 539.10 43.76Z" fill="#15497D" stroke="#15497D" stroke-width="0.3"/>
<path d="M537.22 12.04A43.70 43.70 0 0 1 560.39 5.20L560.55 26.70A22.20 22.20 0 0 0 548.77 30.18Z" fill="#8E1C1F" stroke="#8E1C1F" stroke-width="0.3"/>
<circle cx="560.70" cy="48.90" r="43.70" fill="none" stroke="#000" stroke-width="1.35"/>
<circle cx="560.70" cy="48.90" r="22.20" fill="#fff" stroke="#000" stroke-width="1.35"/>
<path d="M640.50 67.00A43.70 43.70 0 0 1 677.15 134.50L659.12 122.79A22.20 22.20 0 0 0 640.50 88.50Z" fill="#087A3E" stroke="#087A3E" stroke-width="0.3"/>
<path d="M677.15 134.50A43.70 43.70 0 0 1 655.09 151.89L647.91 131.63A22.20 22.20 0 0 0 659.12 122.79Z" fill="#8C2268" stroke="#8C2268" stroke-width="0.3"/>
<path d="M655.09 151.89A43.70 43.70 0 0 1 628.82 152.81L634.57 132.09A22.20 22.20 0 0 0 647.91 131.63Z" fill="#979797" stroke="#979797" stroke-width="0.3"/>
<path d="M628.82 152.81A43.70 43.70 0 0 1 608.02 81.46L624.00 95.85A22.20 22.20 0 0 0 634.57 132.09Z" fill="#15497D" stroke="#15497D" stroke-width="0.3"/>
<path d="M608.02 81.46A43.70 43.70 0 0 1 626.27 69.38L633.27 89.71A22.20 22.20 0 0 0 624.00 95.85Z" fill="#8E1C1F" stroke="#8E1C1F" stroke-width="0.3"/>
<path d="M626.27 69.38A43.70 43.70 0 0 1 640.50 67.00L640.50 88.50A22.20 22.20 0 0 0 633.27 89.71Z" fill="#E0A32B" stroke="#E0A32B" stroke-width="0.3"/>
<circle cx="640.50" cy="110.70" r="43.70" fill="none" stroke="#000" stroke-width="1.35"/>
<circle cx="640.50" cy="110.70" r="22.20" fill="#fff" stroke="#000" stroke-width="1.35"/>
<path d="M367.90 286.60A43.70 43.70 0 0 1 402.62 303.76L385.54 316.82A22.20 22.20 0 0 0 367.90 308.10Z" fill="#087A3E" stroke="#087A3E" stroke-width="0.3"/>
<path d="M402.62 303.76A43.70 43.70 0 0 1 408.36 346.81L388.45 338.69A22.20 22.20 0 0 0 385.54 316.82Z" fill="#8C2268" stroke="#8C2268" stroke-width="0.3"/>
<path d="M408.36 346.81A43.70 43.70 0 0 1 342.71 366.01L355.10 348.44A22.20 22.20 0 0 0 388.45 338.69Z" fill="#979797" stroke="#979797" stroke-width="0.3"/>
<path d="M342.71 366.01A43.70 43.70 0 0 1 329.61 351.35L348.45 340.99A22.20 22.20 0 0 0 355.10 348.44Z" fill="#15497D" stroke="#15497D" stroke-width="0.3"/>
<path d="M329.61 351.35A43.70 43.70 0 0 1 358.96 287.52L363.36 308.57A22.20 22.20 0 0 0 348.45 340.99Z" fill="#8E1C1F" stroke="#8E1C1F" stroke-width="0.3"/>
<path d="M358.96 287.52A43.70 43.70 0 0 1 367.90 286.60L367.90 308.10A22.20 22.20 0 0 0 363.36 308.57Z" fill="#E0A32B" stroke="#E0A32B" stroke-width="0.3"/>
<circle cx="367.90" cy="330.30" r="43.70" fill="none" stroke="#000" stroke-width="1.35"/>
<circle cx="367.90" cy="330.30" r="22.20" fill="#fff" stroke="#000" stroke-width="1.35"/>
<path d="M511.19 307.90A43.70 43.70 0 0 1 512.42 307.91L511.96 329.40A22.20 22.20 0 0 0 511.35 329.40Z" fill="#E0A32B" stroke="#E0A32B" stroke-width="0.3"/>
<path d="M512.42 307.91A43.70 43.70 0 0 1 555.03 347.79L533.62 349.67A22.20 22.20 0 0 0 511.96 329.40Z" fill="#087A3E" stroke="#087A3E" stroke-width="0.3"/>
<path d="M555.03 347.79A43.70 43.70 0 0 1 526.45 392.66L519.09 372.46A22.20 22.20 0 0 0 533.62 349.67Z" fill="#8C2268" stroke="#8C2268" stroke-width="0.3"/>
<path d="M526.45 392.66A43.70 43.70 0 0 1 467.99 355.64L489.39 353.65A22.20 22.20 0 0 0 519.09 372.46Z" fill="#979797" stroke="#979797" stroke-width="0.3"/>
<path d="M467.99 355.64A43.70 43.70 0 0 1 493.24 311.90L502.22 331.43A22.20 22.20 0 0 0 489.39 353.65Z" fill="#15497D" stroke="#15497D" stroke-width="0.3"/>
<path d="M493.24 311.90A43.70 43.70 0 0 1 511.19 307.90L511.35 329.40A22.20 22.20 0 0 0 502.22 331.43Z" fill="#8E1C1F" stroke="#8E1C1F" stroke-width="0.3"/>
<circle cx="511.50" cy="351.60" r="43.70" fill="none" stroke="#000" stroke-width="1.35"/>
<circle cx="511.50" cy="351.60" r="22.20" fill="#fff" stroke="#000" stroke-width="1.35"/>
<path d="M456.6 108.4L409.5 108.4L374.0 147.5" fill="none" stroke="#1a1a1a" stroke-width="0.9"/>
<circle cx="374.0" cy="147.5" r="1.1" fill="#1a1a1a"/>
<text x="433.9" y="117.6" font-size="8" font-weight="bold" text-anchor="middle" fill="#222">Brain</text>
<path d="M584.5 98.8L537.4 98.8L504.0 152.0" fill="none" stroke="#1a1a1a" stroke-width="0.9"/>
<circle cx="504.0" cy="152.0" r="1.1" fill="#1a1a1a"/>
<text x="560.5" y="108.9" font-size="8" font-weight="bold" text-anchor="middle" fill="#222">Spleen</text>
<path d="M680.5 159.1L606.7 159.1L549.8 210.6" fill="none" stroke="#1a1a1a" stroke-width="0.9"/>
<circle cx="549.8" cy="210.6" r="1.1" fill="#1a1a1a"/>
<text x="639.9" y="169.4" font-size="8" font-weight="bold" text-anchor="middle" fill="#222">Colon</text>
<path d="M345.3 282.2L393.0 282.2L428.0 204.5" fill="none" stroke="#1a1a1a" stroke-width="0.9"/>
<circle cx="428.0" cy="204.5" r="1.1" fill="#1a1a1a"/>
<text x="368.2" y="279.0" font-size="8" font-weight="bold" text-anchor="middle" fill="#222">Heart</text>
<path d="M531.9 303.6L489.6 303.6L458.5 214.0" fill="none" stroke="#1a1a1a" stroke-width="0.9"/>
<circle cx="458.5" cy="214.0" r="1.1" fill="#1a1a1a"/>
<text x="512.5" y="300.8" font-size="8" font-weight="bold" text-anchor="middle" fill="#222">Liver</text>
<rect x="597.1" y="318.6" width="84.6" height="73.5" fill="#fff" stroke="#444" stroke-width="0.8"/>
<text x="603" y="329.5" font-size="7.1" fill="#222"><tspan font-style="italic">N</tspan>-Glycan Subtypes:</text>
<path d="M603 330.2H666" stroke="#222" stroke-width="0.55"/>
<rect x="602.3" y="333.80" width="11.1" height="5.6" fill="#E0A32B" stroke="#333" stroke-width="0.4"/>
<text x="619.3" y="339.10" font-size="6.9" fill="#222">Neutral</text>
<rect x="602.3" y="343.58" width="11.1" height="5.6" fill="#087A3E" stroke="#333" stroke-width="0.4"/>
<text x="619.3" y="348.88" font-size="6.9" fill="#222">Fucosylated</text>
<rect x="602.3" y="353.36" width="11.1" height="5.6" fill="#8E1C1F" stroke="#333" stroke-width="0.4"/>
<text x="619.3" y="358.66" font-size="6.9" fill="#222">High Mannose</text>
<rect x="602.3" y="363.14" width="11.1" height="5.6" fill="#8C2268" stroke="#333" stroke-width="0.4"/>
<text x="619.3" y="368.44" font-size="6.9" fill="#222">Sialylated</text>
<rect x="602.3" y="372.92" width="11.1" height="5.6" fill="#15497D" stroke="#333" stroke-width="0.4"/>
<text x="619.3" y="378.22" font-size="6.9" fill="#222">Sialofucosylated</text>
<rect x="602.3" y="382.70" width="11.1" height="5.6" fill="#979797" stroke="#333" stroke-width="0.4"/>
<text x="619.3" y="388.00" font-size="6.9" fill="#222">Neu5Gc-containing</text>
<path d="M345.3 432.1H674.6V572.9" fill="none" stroke="#666" stroke-width="0.6"/>
<rect x="351.20" y="467.00" width="12.40" height="105.90" fill="#1A8B50" stroke="#111" stroke-width="0.55"/>
<path d="M357.40 466.16V467.85M354.90 466.16h5M354.90 467.85h5" stroke="#000" stroke-width="0.7" fill="none"/>
<circle cx="354.40" cy="466.58" r="1.4" fill="#000"/>
<circle cx="357.40" cy="466.24" r="1.4" fill="#000"/>
<circle cx="360.40" cy="466.75" r="1.4" fill="#000"/>
<text x="357.40" y="463.15" font-size="5.8" font-weight="bold" text-anchor="middle" fill="#111">75.21%</text>
<rect x="369.60" y="507.53" width="12.40" height="65.37" fill="#7A2A80" stroke="#111" stroke-width="0.55"/>
<path d="M375.80 505.13V509.92M373.30 505.13h5M373.30 509.92h5" stroke="#000" stroke-width="0.7" fill="none"/>
<circle cx="372.80" cy="506.33" r="1.4" fill="#000"/>
<circle cx="375.80" cy="510.16" r="1.4" fill="#000"/>
<circle cx="378.80" cy="505.37" r="1.4" fill="#000"/>
<text x="375.80" y="502.95" font-size="5.8" font-weight="bold" text-anchor="middle" fill="#111">46.43%</text>
<rect x="388.00" y="560.13" width="12.40" height="12.77" fill="#9A9A9A" stroke="#111" stroke-width="0.55"/>
<path d="M394.20 559.00V561.26M391.70 559.00h5M391.70 561.26h5" stroke="#000" stroke-width="0.7" fill="none"/>
<circle cx="391.20" cy="559.57" r="1.4" fill="#000"/>
<circle cx="394.20" cy="559.12" r="1.4" fill="#000"/>
<circle cx="397.20" cy="559.79" r="1.4" fill="#000"/>
<text x="394.20" y="557.05" font-size="5.8" font-weight="bold" text-anchor="middle" fill="#111">9.07%</text>
<text x="375.80" y="584.2" font-size="7" font-weight="bold" text-anchor="middle" fill="#111">Colon</text>
<rect x="418.20" y="452.77" width="12.40" height="120.13" fill="#1A8B50" stroke="#111" stroke-width="0.55"/>
<path d="M424.40 452.21V453.33M421.90 452.21h5M421.90 453.33h5" stroke="#000" stroke-width="0.7" fill="none"/>
<circle cx="421.40" cy="452.49" r="1.4" fill="#000"/>
<circle cx="424.40" cy="452.26" r="1.4" fill="#000"/>
<circle cx="427.40" cy="452.60" r="1.4" fill="#000"/>
<text x="424.40" y="448.25" font-size="5.8" font-weight="bold" text-anchor="middle" fill="#111">85.32%</text>
<rect x="436.60" y="558.95" width="12.40" height="13.95" fill="#7A2A80" stroke="#111" stroke-width="0.55"/>
<path d="M442.80 558.10V559.79M440.30 558.10h5M440.30 559.79h5" stroke="#000" stroke-width="0.7" fill="none"/>
<circle cx="439.80" cy="558.52" r="1.4" fill="#000"/>
<circle cx="442.80" cy="558.19" r="1.4" fill="#000"/>
<circle cx="445.80" cy="558.69" r="1.4" fill="#000"/>
<text x="442.80" y="555.35" font-size="5.8" font-weight="bold" text-anchor="middle" fill="#111">9.91%</text>
<rect x="455.00" y="571.82" width="12.40" height="1.08" fill="#9A9A9A" stroke="#111" stroke-width="0.55"/>
<path d="M461.20 571.39V572.24M458.70 571.39h5M458.70 572.24h5" stroke="#000" stroke-width="0.7" fill="none"/>
<circle cx="458.20" cy="571.60" r="1.4" fill="#000"/>
<circle cx="461.20" cy="571.44" r="1.4" fill="#000"/>
<circle cx="464.20" cy="571.69" r="1.4" fill="#000"/>
<text x="461.20" y="568.75" font-size="5.8" font-weight="bold" text-anchor="middle" fill="#111">0.77%</text>
<text x="442.80" y="584.2" font-size="7" font-weight="bold" text-anchor="middle" fill="#111">Brain</text>
<rect x="485.20" y="515.85" width="12.40" height="57.05" fill="#1A8B50" stroke="#111" stroke-width="0.55"/>
<path d="M491.40 515.14V516.55M488.90 515.14h5M488.90 516.55h5" stroke="#000" stroke-width="0.7" fill="none"/>
<circle cx="488.40" cy="515.50" r="1.4" fill="#000"/>
<circle cx="491.40" cy="515.21" r="1.4" fill="#000"/>
<circle cx="494.40" cy="515.64" r="1.4" fill="#000"/>
<text x="491.40" y="512.35" font-size="5.8" font-weight="bold" text-anchor="middle" fill="#111">40.52%</text>
<rect x="503.60" y="534.67" width="12.40" height="38.23" fill="#7A2A80" stroke="#111" stroke-width="0.55"/>
<path d="M509.80 532.56V536.78M507.30 532.56h5M507.30 536.78h5" stroke="#000" stroke-width="0.7" fill="none"/>
<circle cx="506.80" cy="533.62" r="1.4" fill="#000"/>
<circle cx="509.80" cy="537.00" r="1.4" fill="#000"/>
<circle cx="512.80" cy="532.77" r="1.4" fill="#000"/>
<text x="509.80" y="530.45" font-size="5.8" font-weight="bold" text-anchor="middle" fill="#111">27.15%</text>
<rect x="522.00" y="534.04" width="12.40" height="38.86" fill="#9A9A9A" stroke="#111" stroke-width="0.55"/>
<path d="M528.20 531.36V536.71M525.70 531.36h5M525.70 536.71h5" stroke="#000" stroke-width="0.7" fill="none"/>
<circle cx="525.20" cy="532.70" r="1.4" fill="#000"/>
<circle cx="528.20" cy="536.98" r="1.4" fill="#000"/>
<circle cx="531.20" cy="531.63" r="1.4" fill="#000"/>
<text x="528.20" y="527.55" font-size="5.8" font-weight="bold" text-anchor="middle" fill="#111">27.60%</text>
<text x="509.80" y="584.2" font-size="7" font-weight="bold" text-anchor="middle" fill="#111">Liver</text>
<rect x="552.20" y="489.63" width="12.40" height="83.27" fill="#1A8B50" stroke="#111" stroke-width="0.55"/>
<path d="M558.40 488.93V490.33M555.90 488.93h5M555.90 490.33h5" stroke="#000" stroke-width="0.7" fill="none"/>
<circle cx="555.40" cy="489.28" r="1.4" fill="#000"/>
<circle cx="558.40" cy="489.00" r="1.4" fill="#000"/>
<circle cx="561.40" cy="489.42" r="1.4" fill="#000"/>
<text x="558.40" y="485.75" font-size="5.8" font-weight="bold" text-anchor="middle" fill="#111">59.14%</text>
<rect x="570.60" y="516.61" width="12.40" height="56.29" fill="#7A2A80" stroke="#111" stroke-width="0.55"/>
<path d="M576.80 516.04V517.17M574.30 516.04h5M574.30 517.17h5" stroke="#000" stroke-width="0.7" fill="none"/>
<circle cx="573.80" cy="516.33" r="1.4" fill="#000"/>
<circle cx="576.80" cy="516.10" r="1.4" fill="#000"/>
<circle cx="579.80" cy="516.44" r="1.4" fill="#000"/>
<text x="576.80" y="513.85" font-size="5.8" font-weight="bold" text-anchor="middle" fill="#111">39.98%</text>
<rect x="589.00" y="532.53" width="12.40" height="40.37" fill="#9A9A9A" stroke="#111" stroke-width="0.55"/>
<path d="M595.20 531.83V533.24M592.70 531.83h5M592.70 533.24h5" stroke="#000" stroke-width="0.7" fill="none"/>
<circle cx="592.20" cy="532.18" r="1.4" fill="#000"/>
<circle cx="595.20" cy="531.90" r="1.4" fill="#000"/>
<circle cx="598.20" cy="532.32" r="1.4" fill="#000"/>
<text x="595.20" y="530.15" font-size="5.8" font-weight="bold" text-anchor="middle" fill="#111">28.67%</text>
<text x="576.80" y="584.2" font-size="7" font-weight="bold" text-anchor="middle" fill="#111">Heart</text>
<rect x="619.20" y="492.56" width="12.40" height="80.34" fill="#1A8B50" stroke="#111" stroke-width="0.55"/>
<path d="M625.40 487.49V497.63M622.90 487.49h5M622.90 497.63h5" stroke="#000" stroke-width="0.7" fill="none"/>
<circle cx="625.40" cy="488.00" r="1.4" fill="#000"/>
<circle cx="625.70" cy="496.36" r="1.4" fill="#000"/>
<circle cx="625.10" cy="491.55" r="1.4" fill="#000"/>
<text x="625.40" y="486.05" font-size="5.8" font-weight="bold" text-anchor="middle" fill="#111">57.06%</text>
<rect x="637.60" y="538.05" width="12.40" height="34.85" fill="#7A2A80" stroke="#111" stroke-width="0.55"/>
<path d="M643.80 534.53V541.57M641.30 534.53h5M641.30 541.57h5" stroke="#000" stroke-width="0.7" fill="none"/>
<circle cx="643.80" cy="534.88" r="1.4" fill="#000"/>
<circle cx="644.10" cy="540.69" r="1.4" fill="#000"/>
<circle cx="643.50" cy="537.35" r="1.4" fill="#000"/>
<text x="643.80" y="533.05" font-size="5.8" font-weight="bold" text-anchor="middle" fill="#111">24.75%</text>
<rect x="656.00" y="515.19" width="12.40" height="57.71" fill="#9A9A9A" stroke="#111" stroke-width="0.55"/>
<path d="M662.20 511.67V518.71M659.70 511.67h5M659.70 518.71h5" stroke="#000" stroke-width="0.7" fill="none"/>
<circle cx="662.20" cy="512.02" r="1.4" fill="#000"/>
<circle cx="662.50" cy="517.83" r="1.4" fill="#000"/>
<circle cx="661.90" cy="514.48" r="1.4" fill="#000"/>
<text x="662.20" y="510.05" font-size="5.8" font-weight="bold" text-anchor="middle" fill="#111">40.99%</text>
<text x="643.80" y="584.2" font-size="7" font-weight="bold" text-anchor="middle" fill="#111">Spleen</text>
<path d="M345.3 432.1V572.9H674.6" fill="none" stroke="#222" stroke-width="0.8"/>
<path d="M345.3 572.90h-4" stroke="#222" stroke-width="0.8"/>
<text x="339.8" y="575.30" font-size="7" font-weight="bold" text-anchor="end" fill="#111">0</text>
<path d="M345.3 544.74h-4" stroke="#222" stroke-width="0.8"/>
<text x="339.8" y="547.14" font-size="7" font-weight="bold" text-anchor="end" fill="#111">20</text>
<path d="M345.3 516.58h-4" stroke="#222" stroke-width="0.8"/>
<text x="339.8" y="518.98" font-size="7" font-weight="bold" text-anchor="end" fill="#111">40</text>
<path d="M345.3 488.42h-4" stroke="#222" stroke-width="0.8"/>
<text x="339.8" y="490.82" font-size="7" font-weight="bold" text-anchor="end" fill="#111">60</text>
<path d="M345.3 460.26h-4" stroke="#222" stroke-width="0.8"/>
<text x="339.8" y="462.66" font-size="7" font-weight="bold" text-anchor="end" fill="#111">80</text>
<path d="M345.3 432.10h-4" stroke="#222" stroke-width="0.8"/>
<text x="339.8" y="434.50" font-size="7" font-weight="bold" text-anchor="end" fill="#111">100</text>
<path d="M375.60 572.9v3.7" stroke="#222" stroke-width="0.8"/>
<path d="M442.50 572.9v3.7" stroke="#222" stroke-width="0.8"/>
<path d="M509.40 572.9v3.7" stroke="#222" stroke-width="0.8"/>
<path d="M576.30 572.9v3.7" stroke="#222" stroke-width="0.8"/>
<path d="M643.20 572.9v3.7" stroke="#222" stroke-width="0.8"/>
<text transform="translate(324.3 506.6) rotate(-90)" font-size="7" font-weight="bold" text-anchor="middle" fill="#111">Relative Abundance (%)</text>
<text x="508.4" y="427.3" font-size="8.3" font-weight="bold" text-anchor="middle" fill="#111">Degree of Fucosylation and Sialylation in Mouse Tissue GlycoRNAs</text>
<rect x="588.0" y="437.15" width="9.7" height="5.6" fill="#1A8B50" stroke="#111" stroke-width="0.6"/>
<text x="603.3" y="442.50" font-size="7.65" fill="#111">Fucosylation</text>
<rect x="588.0" y="450.05" width="9.7" height="5.6" fill="#7A2A80" stroke="#111" stroke-width="0.6"/>
<text x="603.3" y="455.40" font-size="7.65" fill="#111">Sialylation_NeuAc</text>
<rect x="588.0" y="463.25" width="9.7" height="5.6" fill="#9A9A9A" stroke="#111" stroke-width="0.6"/>
<text x="603.3" y="468.60" font-size="7.65" fill="#111">Sialylation_NeuGc</text>
<rect x="344.3" y="592.1" width="9.8" height="5.5" fill="#1A8B50" stroke="#111" stroke-width="0.6"/>
<text x="360.9" y="597.5" font-size="7.2" fill="#111">Fucosylation Degree</text>
<rect x="449.5" y="592.1" width="9.8" height="5.5" fill="#7A2A80" stroke="#111" stroke-width="0.6"/>
<text x="465.1" y="597.5" font-size="7.2" fill="#111">Sialylation(Neu5Ac) Degree</text>
<rect x="569.4" y="592.1" width="9.8" height="5.5" fill="#9A9A9A" stroke="#111" stroke-width="0.6"/>
<text x="588.6" y="597.5" font-size="7.2" fill="#111">Sialylation(Neu5Gc) Degree</text>
<text x="0" y="5.8" font-size="8" font-weight="bold" fill="#111">A</text><text x="287.3" y="5.8" font-size="8" font-weight="bold" fill="#111">B</text><text x="287.2" y="424.5" font-size="8" font-weight="bold" fill="#111">C</text>
</svg></body></html>
